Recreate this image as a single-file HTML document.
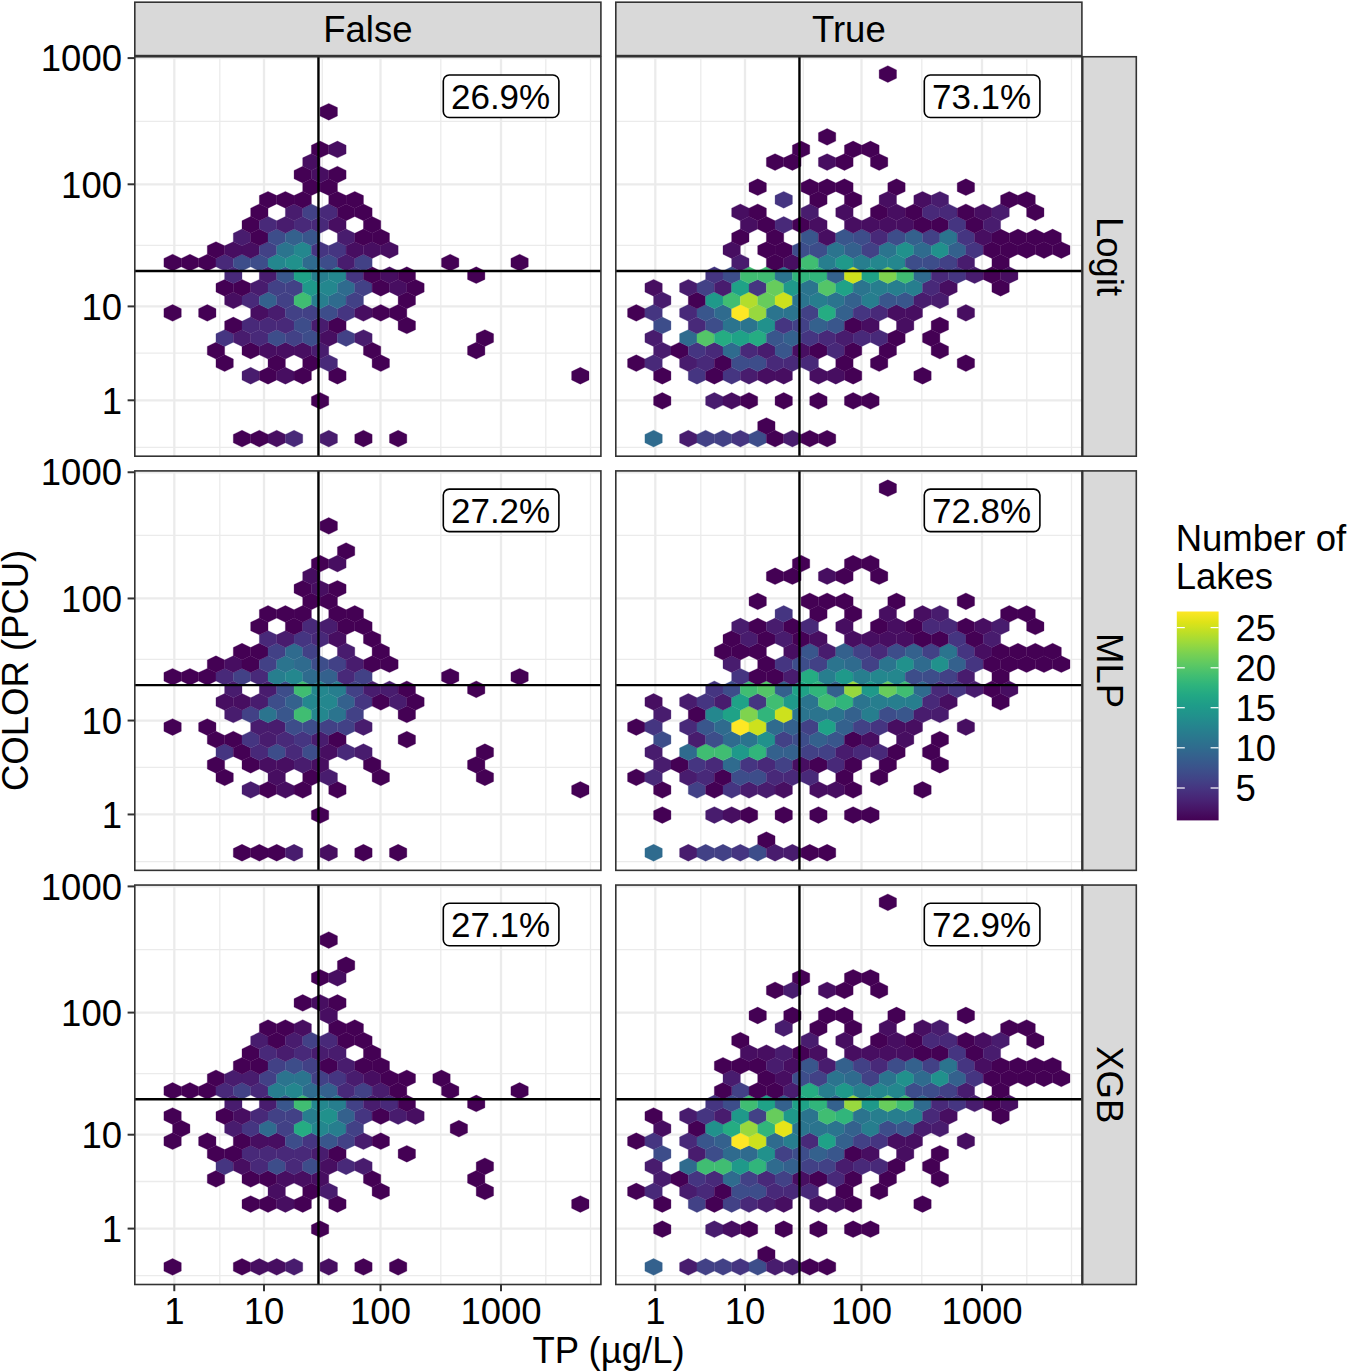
<!DOCTYPE html>
<html><head><meta charset="utf-8"><style>html,body{margin:0;padding:0;background:#fff;overflow:hidden}svg{display:block}</style></head><body>
<svg width="1350" height="1372" viewBox="0 0 1350 1372" font-family='"Liberation Sans", sans-serif'>
<rect x="0" y="0" width="1350" height="1372" fill="#ffffff"/>
<rect x="134.8" y="56.75" width="466.10" height="399.45" fill="#ffffff"/>
<line x1="219.80" y1="56.75" x2="219.80" y2="456.2" stroke="#ebebeb" stroke-width="1.3"/>
<line x1="322.30" y1="56.75" x2="322.30" y2="456.2" stroke="#ebebeb" stroke-width="1.3"/>
<line x1="440.80" y1="56.75" x2="440.80" y2="456.2" stroke="#ebebeb" stroke-width="1.3"/>
<line x1="545.80" y1="56.75" x2="545.80" y2="456.2" stroke="#ebebeb" stroke-width="1.3"/>
<line x1="590.50" y1="56.75" x2="590.50" y2="456.2" stroke="#ebebeb" stroke-width="1.3"/>
<line x1="134.8" y1="121.30" x2="600.9" y2="121.30" stroke="#ebebeb" stroke-width="1.3"/>
<line x1="134.8" y1="245.30" x2="600.9" y2="245.30" stroke="#ebebeb" stroke-width="1.3"/>
<line x1="134.8" y1="353.20" x2="600.9" y2="353.20" stroke="#ebebeb" stroke-width="1.3"/>
<line x1="134.8" y1="447.40" x2="600.9" y2="447.40" stroke="#ebebeb" stroke-width="1.3"/>
<line x1="174.30" y1="56.75" x2="174.30" y2="456.2" stroke="#ebebeb" stroke-width="2.3"/>
<line x1="264.00" y1="56.75" x2="264.00" y2="456.2" stroke="#ebebeb" stroke-width="2.3"/>
<line x1="380.50" y1="56.75" x2="380.50" y2="456.2" stroke="#ebebeb" stroke-width="2.3"/>
<line x1="501.00" y1="56.75" x2="501.00" y2="456.2" stroke="#ebebeb" stroke-width="2.3"/>
<line x1="134.8" y1="58.10" x2="600.9" y2="58.10" stroke="#ebebeb" stroke-width="2.3"/>
<line x1="134.8" y1="184.30" x2="600.9" y2="184.30" stroke="#ebebeb" stroke-width="2.3"/>
<line x1="134.8" y1="306.40" x2="600.9" y2="306.40" stroke="#ebebeb" stroke-width="2.3"/>
<line x1="134.8" y1="400.30" x2="600.9" y2="400.30" stroke="#ebebeb" stroke-width="2.3"/>
<polygon points="242.00,430.22 250.68,434.41 250.68,442.79 242.00,446.98 233.32,442.79 233.32,434.41" fill="#440154" stroke="#440154" stroke-width="0.3"/>
<polygon points="259.35,430.22 268.03,434.41 268.03,442.79 259.35,446.98 250.68,442.79 250.68,434.41" fill="#440154" stroke="#440154" stroke-width="0.3"/>
<polygon points="276.70,430.22 285.38,434.41 285.38,442.79 276.70,446.98 268.02,442.79 268.02,434.41" fill="#470e61" stroke="#470e61" stroke-width="0.3"/>
<polygon points="294.05,430.22 302.73,434.41 302.73,442.79 294.05,446.98 285.38,442.79 285.38,434.41" fill="#482979" stroke="#482979" stroke-width="0.3"/>
<polygon points="328.75,430.22 337.43,434.41 337.43,442.79 328.75,446.98 320.07,442.79 320.07,434.41" fill="#481c6e" stroke="#481c6e" stroke-width="0.3"/>
<polygon points="363.45,430.22 372.13,434.41 372.13,442.79 363.45,446.98 354.78,442.79 354.78,434.41" fill="#440154" stroke="#440154" stroke-width="0.3"/>
<polygon points="398.15,430.22 406.82,434.41 406.82,442.79 398.15,446.98 389.47,442.79 389.47,434.41" fill="#440154" stroke="#440154" stroke-width="0.3"/>
<polygon points="320.07,392.51 328.75,396.70 328.75,405.08 320.07,409.27 311.40,405.08 311.40,396.70" fill="#440154" stroke="#440154" stroke-width="0.3"/>
<polygon points="250.68,367.37 259.35,371.56 259.35,379.94 250.68,384.13 242.00,379.94 242.00,371.56" fill="#481c6e" stroke="#481c6e" stroke-width="0.3"/>
<polygon points="268.03,367.37 276.70,371.56 276.70,379.94 268.03,384.13 259.35,379.94 259.35,371.56" fill="#440154" stroke="#440154" stroke-width="0.3"/>
<polygon points="285.38,367.37 294.05,371.56 294.05,379.94 285.38,384.13 276.70,379.94 276.70,371.56" fill="#470e61" stroke="#470e61" stroke-width="0.3"/>
<polygon points="302.73,367.37 311.40,371.56 311.40,379.94 302.73,384.13 294.05,379.94 294.05,371.56" fill="#440154" stroke="#440154" stroke-width="0.3"/>
<polygon points="337.43,367.37 346.10,371.56 346.10,379.94 337.43,384.13 328.75,379.94 328.75,371.56" fill="#440154" stroke="#440154" stroke-width="0.3"/>
<polygon points="580.32,367.37 589.00,371.56 589.00,379.94 580.32,384.13 571.65,379.94 571.65,371.56" fill="#440154" stroke="#440154" stroke-width="0.3"/>
<polygon points="224.65,354.80 233.33,358.99 233.33,367.37 224.65,371.56 215.97,367.37 215.97,358.99" fill="#440154" stroke="#440154" stroke-width="0.3"/>
<polygon points="276.70,354.80 285.38,358.99 285.38,367.37 276.70,371.56 268.02,367.37 268.02,358.99" fill="#440154" stroke="#440154" stroke-width="0.3"/>
<polygon points="311.40,354.80 320.07,358.99 320.07,367.37 311.40,371.56 302.72,367.37 302.72,358.99" fill="#440154" stroke="#440154" stroke-width="0.3"/>
<polygon points="328.75,354.80 337.43,358.99 337.43,367.37 328.75,371.56 320.07,367.37 320.07,358.99" fill="#482979" stroke="#482979" stroke-width="0.3"/>
<polygon points="380.80,354.80 389.48,358.99 389.48,367.37 380.80,371.56 372.12,367.37 372.12,358.99" fill="#440154" stroke="#440154" stroke-width="0.3"/>
<polygon points="215.98,342.23 224.65,346.42 224.65,354.80 215.98,358.99 207.30,354.80 207.30,346.42" fill="#440154" stroke="#440154" stroke-width="0.3"/>
<polygon points="250.68,342.23 259.35,346.42 259.35,354.80 250.68,358.99 242.00,354.80 242.00,346.42" fill="#440154" stroke="#440154" stroke-width="0.3"/>
<polygon points="268.03,342.23 276.70,346.42 276.70,354.80 268.03,358.99 259.35,354.80 259.35,346.42" fill="#470e61" stroke="#470e61" stroke-width="0.3"/>
<polygon points="285.38,342.23 294.05,346.42 294.05,354.80 285.38,358.99 276.70,354.80 276.70,346.42" fill="#470e61" stroke="#470e61" stroke-width="0.3"/>
<polygon points="302.73,342.23 311.40,346.42 311.40,354.80 302.73,358.99 294.05,354.80 294.05,346.42" fill="#470e61" stroke="#470e61" stroke-width="0.3"/>
<polygon points="320.07,342.23 328.75,346.42 328.75,354.80 320.07,358.99 311.40,354.80 311.40,346.42" fill="#481c6e" stroke="#481c6e" stroke-width="0.3"/>
<polygon points="372.13,342.23 380.80,346.42 380.80,354.80 372.13,358.99 363.45,354.80 363.45,346.42" fill="#440154" stroke="#440154" stroke-width="0.3"/>
<polygon points="476.23,342.23 484.90,346.42 484.90,354.80 476.23,358.99 467.55,354.80 467.55,346.42" fill="#440154" stroke="#440154" stroke-width="0.3"/>
<polygon points="224.65,329.66 233.33,333.85 233.33,342.23 224.65,346.42 215.97,342.23 215.97,333.85" fill="#453581" stroke="#453581" stroke-width="0.3"/>
<polygon points="242.00,329.66 250.68,333.85 250.68,342.23 242.00,346.42 233.32,342.23 233.32,333.85" fill="#481c6e" stroke="#481c6e" stroke-width="0.3"/>
<polygon points="259.35,329.66 268.03,333.85 268.03,342.23 259.35,346.42 250.68,342.23 250.68,333.85" fill="#482979" stroke="#482979" stroke-width="0.3"/>
<polygon points="276.70,329.66 285.38,333.85 285.38,342.23 276.70,346.42 268.02,342.23 268.02,333.85" fill="#3d4d8a" stroke="#3d4d8a" stroke-width="0.3"/>
<polygon points="294.05,329.66 302.73,333.85 302.73,342.23 294.05,346.42 285.38,342.23 285.38,333.85" fill="#424186" stroke="#424186" stroke-width="0.3"/>
<polygon points="311.40,329.66 320.07,333.85 320.07,342.23 311.40,346.42 302.72,342.23 302.72,333.85" fill="#3d4d8a" stroke="#3d4d8a" stroke-width="0.3"/>
<polygon points="328.75,329.66 337.43,333.85 337.43,342.23 328.75,346.42 320.07,342.23 320.07,333.85" fill="#470e61" stroke="#470e61" stroke-width="0.3"/>
<polygon points="346.10,329.66 354.78,333.85 354.78,342.23 346.10,346.42 337.43,342.23 337.43,333.85" fill="#424186" stroke="#424186" stroke-width="0.3"/>
<polygon points="363.45,329.66 372.13,333.85 372.13,342.23 363.45,346.42 354.78,342.23 354.78,333.85" fill="#481c6e" stroke="#481c6e" stroke-width="0.3"/>
<polygon points="484.90,329.66 493.57,333.85 493.57,342.23 484.90,346.42 476.22,342.23 476.22,333.85" fill="#440154" stroke="#440154" stroke-width="0.3"/>
<polygon points="233.33,317.09 242.00,321.28 242.00,329.66 233.33,333.85 224.65,329.66 224.65,321.28" fill="#440154" stroke="#440154" stroke-width="0.3"/>
<polygon points="250.68,317.09 259.35,321.28 259.35,329.66 250.68,333.85 242.00,329.66 242.00,321.28" fill="#482979" stroke="#482979" stroke-width="0.3"/>
<polygon points="268.03,317.09 276.70,321.28 276.70,329.66 268.03,333.85 259.35,329.66 259.35,321.28" fill="#482979" stroke="#482979" stroke-width="0.3"/>
<polygon points="285.38,317.09 294.05,321.28 294.05,329.66 285.38,333.85 276.70,329.66 276.70,321.28" fill="#482979" stroke="#482979" stroke-width="0.3"/>
<polygon points="302.73,317.09 311.40,321.28 311.40,329.66 302.73,333.85 294.05,329.66 294.05,321.28" fill="#3d4d8a" stroke="#3d4d8a" stroke-width="0.3"/>
<polygon points="320.07,317.09 328.75,321.28 328.75,329.66 320.07,333.85 311.40,329.66 311.40,321.28" fill="#481c6e" stroke="#481c6e" stroke-width="0.3"/>
<polygon points="337.43,317.09 346.10,321.28 346.10,329.66 337.43,333.85 328.75,329.66 328.75,321.28" fill="#440154" stroke="#440154" stroke-width="0.3"/>
<polygon points="406.82,317.09 415.50,321.28 415.50,329.66 406.82,333.85 398.15,329.66 398.15,321.28" fill="#440154" stroke="#440154" stroke-width="0.3"/>
<polygon points="172.60,304.52 181.28,308.71 181.28,317.09 172.60,321.28 163.92,317.09 163.92,308.71" fill="#440154" stroke="#440154" stroke-width="0.3"/>
<polygon points="207.30,304.52 215.98,308.71 215.98,317.09 207.30,321.28 198.62,317.09 198.62,308.71" fill="#440154" stroke="#440154" stroke-width="0.3"/>
<polygon points="259.35,304.52 268.03,308.71 268.03,317.09 259.35,321.28 250.68,317.09 250.68,308.71" fill="#470e61" stroke="#470e61" stroke-width="0.3"/>
<polygon points="276.70,304.52 285.38,308.71 285.38,317.09 276.70,321.28 268.02,317.09 268.02,308.71" fill="#481c6e" stroke="#481c6e" stroke-width="0.3"/>
<polygon points="294.05,304.52 302.73,308.71 302.73,317.09 294.05,321.28 285.38,317.09 285.38,308.71" fill="#424186" stroke="#424186" stroke-width="0.3"/>
<polygon points="311.40,304.52 320.07,308.71 320.07,317.09 311.40,321.28 302.72,317.09 302.72,308.71" fill="#424186" stroke="#424186" stroke-width="0.3"/>
<polygon points="328.75,304.52 337.43,308.71 337.43,317.09 328.75,321.28 320.07,317.09 320.07,308.71" fill="#3d4d8a" stroke="#3d4d8a" stroke-width="0.3"/>
<polygon points="346.10,304.52 354.78,308.71 354.78,317.09 346.10,321.28 337.43,317.09 337.43,308.71" fill="#453581" stroke="#453581" stroke-width="0.3"/>
<polygon points="363.45,304.52 372.13,308.71 372.13,317.09 363.45,321.28 354.78,317.09 354.78,308.71" fill="#470e61" stroke="#470e61" stroke-width="0.3"/>
<polygon points="380.80,304.52 389.48,308.71 389.48,317.09 380.80,321.28 372.12,317.09 372.12,308.71" fill="#440154" stroke="#440154" stroke-width="0.3"/>
<polygon points="398.15,304.52 406.82,308.71 406.82,317.09 398.15,321.28 389.47,317.09 389.47,308.71" fill="#440154" stroke="#440154" stroke-width="0.3"/>
<polygon points="233.33,291.95 242.00,296.14 242.00,304.52 233.33,308.71 224.65,304.52 224.65,296.14" fill="#470e61" stroke="#470e61" stroke-width="0.3"/>
<polygon points="250.68,291.95 259.35,296.14 259.35,304.52 250.68,308.71 242.00,304.52 242.00,296.14" fill="#482979" stroke="#482979" stroke-width="0.3"/>
<polygon points="268.03,291.95 276.70,296.14 276.70,304.52 268.03,308.71 259.35,304.52 259.35,296.14" fill="#34618d" stroke="#34618d" stroke-width="0.3"/>
<polygon points="285.38,291.95 294.05,296.14 294.05,304.52 285.38,308.71 276.70,304.52 276.70,296.14" fill="#424186" stroke="#424186" stroke-width="0.3"/>
<polygon points="302.73,291.95 311.40,296.14 311.40,304.52 302.73,308.71 294.05,304.52 294.05,296.14" fill="#40bd72" stroke="#40bd72" stroke-width="0.3"/>
<polygon points="320.07,291.95 328.75,296.14 328.75,304.52 320.07,308.71 311.40,304.52 311.40,296.14" fill="#277e8e" stroke="#277e8e" stroke-width="0.3"/>
<polygon points="337.43,291.95 346.10,296.14 346.10,304.52 337.43,308.71 328.75,304.52 328.75,296.14" fill="#2f6b8e" stroke="#2f6b8e" stroke-width="0.3"/>
<polygon points="354.78,291.95 363.45,296.14 363.45,304.52 354.78,308.71 346.10,304.52 346.10,296.14" fill="#424186" stroke="#424186" stroke-width="0.3"/>
<polygon points="406.82,291.95 415.50,296.14 415.50,304.52 406.82,308.71 398.15,304.52 398.15,296.14" fill="#440154" stroke="#440154" stroke-width="0.3"/>
<polygon points="224.65,279.38 233.33,283.57 233.33,291.95 224.65,296.14 215.97,291.95 215.97,283.57" fill="#440154" stroke="#440154" stroke-width="0.3"/>
<polygon points="242.00,279.38 250.68,283.57 250.68,291.95 242.00,296.14 233.32,291.95 233.32,283.57" fill="#440154" stroke="#440154" stroke-width="0.3"/>
<polygon points="259.35,279.38 268.03,283.57 268.03,291.95 259.35,296.14 250.68,291.95 250.68,283.57" fill="#481c6e" stroke="#481c6e" stroke-width="0.3"/>
<polygon points="276.70,279.38 285.38,283.57 285.38,291.95 276.70,296.14 268.02,291.95 268.02,283.57" fill="#424186" stroke="#424186" stroke-width="0.3"/>
<polygon points="294.05,279.38 302.73,283.57 302.73,291.95 294.05,296.14 285.38,291.95 285.38,283.57" fill="#424186" stroke="#424186" stroke-width="0.3"/>
<polygon points="311.40,279.38 320.07,283.57 320.07,291.95 311.40,296.14 302.72,291.95 302.72,283.57" fill="#1f998a" stroke="#1f998a" stroke-width="0.3"/>
<polygon points="328.75,279.38 337.43,283.57 337.43,291.95 328.75,296.14 320.07,291.95 320.07,283.57" fill="#24878e" stroke="#24878e" stroke-width="0.3"/>
<polygon points="346.10,279.38 354.78,283.57 354.78,291.95 346.10,296.14 337.43,291.95 337.43,283.57" fill="#2f6b8e" stroke="#2f6b8e" stroke-width="0.3"/>
<polygon points="363.45,279.38 372.13,283.57 372.13,291.95 363.45,296.14 354.78,291.95 354.78,283.57" fill="#424186" stroke="#424186" stroke-width="0.3"/>
<polygon points="380.80,279.38 389.48,283.57 389.48,291.95 380.80,296.14 372.12,291.95 372.12,283.57" fill="#440154" stroke="#440154" stroke-width="0.3"/>
<polygon points="398.15,279.38 406.82,283.57 406.82,291.95 398.15,296.14 389.47,291.95 389.47,283.57" fill="#470e61" stroke="#470e61" stroke-width="0.3"/>
<polygon points="415.50,279.38 424.18,283.57 424.18,291.95 415.50,296.14 406.82,291.95 406.82,283.57" fill="#440154" stroke="#440154" stroke-width="0.3"/>
<polygon points="233.33,266.81 242.00,271.00 242.00,279.38 233.33,283.57 224.65,279.38 224.65,271.00" fill="#482979" stroke="#482979" stroke-width="0.3"/>
<polygon points="268.03,266.81 276.70,271.00 276.70,279.38 268.03,283.57 259.35,279.38 259.35,271.00" fill="#481c6e" stroke="#481c6e" stroke-width="0.3"/>
<polygon points="285.38,266.81 294.05,271.00 294.05,279.38 285.38,283.57 276.70,279.38 276.70,271.00" fill="#39568c" stroke="#39568c" stroke-width="0.3"/>
<polygon points="302.73,266.81 311.40,271.00 311.40,279.38 302.73,283.57 294.05,279.38 294.05,271.00" fill="#1fa287" stroke="#1fa287" stroke-width="0.3"/>
<polygon points="320.07,266.81 328.75,271.00 328.75,279.38 320.07,283.57 311.40,279.38 311.40,271.00" fill="#277e8e" stroke="#277e8e" stroke-width="0.3"/>
<polygon points="337.43,266.81 346.10,271.00 346.10,279.38 337.43,283.57 328.75,279.38 328.75,271.00" fill="#24878e" stroke="#24878e" stroke-width="0.3"/>
<polygon points="354.78,266.81 363.45,271.00 363.45,279.38 354.78,283.57 346.10,279.38 346.10,271.00" fill="#453581" stroke="#453581" stroke-width="0.3"/>
<polygon points="372.13,266.81 380.80,271.00 380.80,279.38 372.13,283.57 363.45,279.38 363.45,271.00" fill="#440154" stroke="#440154" stroke-width="0.3"/>
<polygon points="389.48,266.81 398.15,271.00 398.15,279.38 389.48,283.57 380.80,279.38 380.80,271.00" fill="#470e61" stroke="#470e61" stroke-width="0.3"/>
<polygon points="406.82,266.81 415.50,271.00 415.50,279.38 406.82,283.57 398.15,279.38 398.15,271.00" fill="#440154" stroke="#440154" stroke-width="0.3"/>
<polygon points="476.23,266.81 484.90,271.00 484.90,279.38 476.23,283.57 467.55,279.38 467.55,271.00" fill="#440154" stroke="#440154" stroke-width="0.3"/>
<polygon points="172.60,254.24 181.28,258.43 181.28,266.81 172.60,271.00 163.92,266.81 163.92,258.43" fill="#440154" stroke="#440154" stroke-width="0.3"/>
<polygon points="189.95,254.24 198.62,258.43 198.62,266.81 189.95,271.00 181.27,266.81 181.27,258.43" fill="#440154" stroke="#440154" stroke-width="0.3"/>
<polygon points="207.30,254.24 215.98,258.43 215.98,266.81 207.30,271.00 198.62,266.81 198.62,258.43" fill="#440154" stroke="#440154" stroke-width="0.3"/>
<polygon points="224.65,254.24 233.33,258.43 233.33,266.81 224.65,271.00 215.97,266.81 215.97,258.43" fill="#482979" stroke="#482979" stroke-width="0.3"/>
<polygon points="242.00,254.24 250.68,258.43 250.68,266.81 242.00,271.00 233.32,266.81 233.32,258.43" fill="#3d4d8a" stroke="#3d4d8a" stroke-width="0.3"/>
<polygon points="259.35,254.24 268.03,258.43 268.03,266.81 259.35,271.00 250.68,266.81 250.68,258.43" fill="#3d4d8a" stroke="#3d4d8a" stroke-width="0.3"/>
<polygon points="276.70,254.24 285.38,258.43 285.38,266.81 276.70,271.00 268.02,266.81 268.02,258.43" fill="#24878e" stroke="#24878e" stroke-width="0.3"/>
<polygon points="294.05,254.24 302.73,258.43 302.73,266.81 294.05,271.00 285.38,266.81 285.38,258.43" fill="#21918c" stroke="#21918c" stroke-width="0.3"/>
<polygon points="311.40,254.24 320.07,258.43 320.07,266.81 311.40,271.00 302.72,266.81 302.72,258.43" fill="#2f6b8e" stroke="#2f6b8e" stroke-width="0.3"/>
<polygon points="328.75,254.24 337.43,258.43 337.43,266.81 328.75,271.00 320.07,266.81 320.07,258.43" fill="#3d4d8a" stroke="#3d4d8a" stroke-width="0.3"/>
<polygon points="346.10,254.24 354.78,258.43 354.78,266.81 346.10,271.00 337.43,266.81 337.43,258.43" fill="#481c6e" stroke="#481c6e" stroke-width="0.3"/>
<polygon points="363.45,254.24 372.13,258.43 372.13,266.81 363.45,271.00 354.78,266.81 354.78,258.43" fill="#424186" stroke="#424186" stroke-width="0.3"/>
<polygon points="450.20,254.24 458.88,258.43 458.88,266.81 450.20,271.00 441.53,266.81 441.53,258.43" fill="#440154" stroke="#440154" stroke-width="0.3"/>
<polygon points="519.60,254.24 528.27,258.43 528.27,266.81 519.60,271.00 510.93,266.81 510.93,258.43" fill="#440154" stroke="#440154" stroke-width="0.3"/>
<polygon points="215.98,241.67 224.65,245.86 224.65,254.24 215.98,258.43 207.30,254.24 207.30,245.86" fill="#440154" stroke="#440154" stroke-width="0.3"/>
<polygon points="233.33,241.67 242.00,245.86 242.00,254.24 233.33,258.43 224.65,254.24 224.65,245.86" fill="#470e61" stroke="#470e61" stroke-width="0.3"/>
<polygon points="250.68,241.67 259.35,245.86 259.35,254.24 250.68,258.43 242.00,254.24 242.00,245.86" fill="#470e61" stroke="#470e61" stroke-width="0.3"/>
<polygon points="268.03,241.67 276.70,245.86 276.70,254.24 268.03,258.43 259.35,254.24 259.35,245.86" fill="#424186" stroke="#424186" stroke-width="0.3"/>
<polygon points="285.38,241.67 294.05,245.86 294.05,254.24 285.38,258.43 276.70,254.24 276.70,245.86" fill="#2b748e" stroke="#2b748e" stroke-width="0.3"/>
<polygon points="302.73,241.67 311.40,245.86 311.40,254.24 302.73,258.43 294.05,254.24 294.05,245.86" fill="#24878e" stroke="#24878e" stroke-width="0.3"/>
<polygon points="320.07,241.67 328.75,245.86 328.75,254.24 320.07,258.43 311.40,254.24 311.40,245.86" fill="#453581" stroke="#453581" stroke-width="0.3"/>
<polygon points="337.43,241.67 346.10,245.86 346.10,254.24 337.43,258.43 328.75,254.24 328.75,245.86" fill="#453581" stroke="#453581" stroke-width="0.3"/>
<polygon points="354.78,241.67 363.45,245.86 363.45,254.24 354.78,258.43 346.10,254.24 346.10,245.86" fill="#470e61" stroke="#470e61" stroke-width="0.3"/>
<polygon points="372.13,241.67 380.80,245.86 380.80,254.24 372.13,258.43 363.45,254.24 363.45,245.86" fill="#470e61" stroke="#470e61" stroke-width="0.3"/>
<polygon points="389.48,241.67 398.15,245.86 398.15,254.24 389.48,258.43 380.80,254.24 380.80,245.86" fill="#470e61" stroke="#470e61" stroke-width="0.3"/>
<polygon points="242.00,229.10 250.68,233.29 250.68,241.67 242.00,245.86 233.32,241.67 233.32,233.29" fill="#481c6e" stroke="#481c6e" stroke-width="0.3"/>
<polygon points="259.35,229.10 268.03,233.29 268.03,241.67 259.35,245.86 250.68,241.67 250.68,233.29" fill="#440154" stroke="#440154" stroke-width="0.3"/>
<polygon points="276.70,229.10 285.38,233.29 285.38,241.67 276.70,245.86 268.02,241.67 268.02,233.29" fill="#3d4d8a" stroke="#3d4d8a" stroke-width="0.3"/>
<polygon points="294.05,229.10 302.73,233.29 302.73,241.67 294.05,245.86 285.38,241.67 285.38,233.29" fill="#34618d" stroke="#34618d" stroke-width="0.3"/>
<polygon points="311.40,229.10 320.07,233.29 320.07,241.67 311.40,245.86 302.72,241.67 302.72,233.29" fill="#39568c" stroke="#39568c" stroke-width="0.3"/>
<polygon points="346.10,229.10 354.78,233.29 354.78,241.67 346.10,245.86 337.43,241.67 337.43,233.29" fill="#481c6e" stroke="#481c6e" stroke-width="0.3"/>
<polygon points="363.45,229.10 372.13,233.29 372.13,241.67 363.45,245.86 354.78,241.67 354.78,233.29" fill="#440154" stroke="#440154" stroke-width="0.3"/>
<polygon points="380.80,229.10 389.48,233.29 389.48,241.67 380.80,245.86 372.12,241.67 372.12,233.29" fill="#440154" stroke="#440154" stroke-width="0.3"/>
<polygon points="250.68,216.53 259.35,220.72 259.35,229.10 250.68,233.29 242.00,229.10 242.00,220.72" fill="#440154" stroke="#440154" stroke-width="0.3"/>
<polygon points="268.03,216.53 276.70,220.72 276.70,229.10 268.03,233.29 259.35,229.10 259.35,220.72" fill="#482979" stroke="#482979" stroke-width="0.3"/>
<polygon points="285.38,216.53 294.05,220.72 294.05,229.10 285.38,233.29 276.70,229.10 276.70,220.72" fill="#481c6e" stroke="#481c6e" stroke-width="0.3"/>
<polygon points="302.73,216.53 311.40,220.72 311.40,229.10 302.73,233.29 294.05,229.10 294.05,220.72" fill="#482979" stroke="#482979" stroke-width="0.3"/>
<polygon points="320.07,216.53 328.75,220.72 328.75,229.10 320.07,233.29 311.40,229.10 311.40,220.72" fill="#482979" stroke="#482979" stroke-width="0.3"/>
<polygon points="337.43,216.53 346.10,220.72 346.10,229.10 337.43,233.29 328.75,229.10 328.75,220.72" fill="#470e61" stroke="#470e61" stroke-width="0.3"/>
<polygon points="372.13,216.53 380.80,220.72 380.80,229.10 372.13,233.29 363.45,229.10 363.45,220.72" fill="#440154" stroke="#440154" stroke-width="0.3"/>
<polygon points="259.35,203.96 268.03,208.15 268.03,216.53 259.35,220.72 250.68,216.53 250.68,208.15" fill="#440154" stroke="#440154" stroke-width="0.3"/>
<polygon points="294.05,203.96 302.73,208.15 302.73,216.53 294.05,220.72 285.38,216.53 285.38,208.15" fill="#481c6e" stroke="#481c6e" stroke-width="0.3"/>
<polygon points="311.40,203.96 320.07,208.15 320.07,216.53 311.40,220.72 302.72,216.53 302.72,208.15" fill="#424186" stroke="#424186" stroke-width="0.3"/>
<polygon points="328.75,203.96 337.43,208.15 337.43,216.53 328.75,220.72 320.07,216.53 320.07,208.15" fill="#482979" stroke="#482979" stroke-width="0.3"/>
<polygon points="346.10,203.96 354.78,208.15 354.78,216.53 346.10,220.72 337.43,216.53 337.43,208.15" fill="#440154" stroke="#440154" stroke-width="0.3"/>
<polygon points="363.45,203.96 372.13,208.15 372.13,216.53 363.45,220.72 354.78,216.53 354.78,208.15" fill="#440154" stroke="#440154" stroke-width="0.3"/>
<polygon points="268.03,191.39 276.70,195.58 276.70,203.96 268.03,208.15 259.35,203.96 259.35,195.58" fill="#440154" stroke="#440154" stroke-width="0.3"/>
<polygon points="285.38,191.39 294.05,195.58 294.05,203.96 285.38,208.15 276.70,203.96 276.70,195.58" fill="#440154" stroke="#440154" stroke-width="0.3"/>
<polygon points="302.73,191.39 311.40,195.58 311.40,203.96 302.73,208.15 294.05,203.96 294.05,195.58" fill="#440154" stroke="#440154" stroke-width="0.3"/>
<polygon points="337.43,191.39 346.10,195.58 346.10,203.96 337.43,208.15 328.75,203.96 328.75,195.58" fill="#440154" stroke="#440154" stroke-width="0.3"/>
<polygon points="354.78,191.39 363.45,195.58 363.45,203.96 354.78,208.15 346.10,203.96 346.10,195.58" fill="#440154" stroke="#440154" stroke-width="0.3"/>
<polygon points="311.40,178.82 320.07,183.01 320.07,191.39 311.40,195.58 302.72,191.39 302.72,183.01" fill="#440154" stroke="#440154" stroke-width="0.3"/>
<polygon points="328.75,178.82 337.43,183.01 337.43,191.39 328.75,195.58 320.07,191.39 320.07,183.01" fill="#440154" stroke="#440154" stroke-width="0.3"/>
<polygon points="302.73,166.25 311.40,170.44 311.40,178.82 302.73,183.01 294.05,178.82 294.05,170.44" fill="#440154" stroke="#440154" stroke-width="0.3"/>
<polygon points="320.07,166.25 328.75,170.44 328.75,178.82 320.07,183.01 311.40,178.82 311.40,170.44" fill="#470e61" stroke="#470e61" stroke-width="0.3"/>
<polygon points="337.43,166.25 346.10,170.44 346.10,178.82 337.43,183.01 328.75,178.82 328.75,170.44" fill="#440154" stroke="#440154" stroke-width="0.3"/>
<polygon points="311.40,153.68 320.07,157.87 320.07,166.25 311.40,170.44 302.72,166.25 302.72,157.87" fill="#470e61" stroke="#470e61" stroke-width="0.3"/>
<polygon points="320.07,141.11 328.75,145.30 328.75,153.68 320.07,157.87 311.40,153.68 311.40,145.30" fill="#440154" stroke="#440154" stroke-width="0.3"/>
<polygon points="337.43,141.11 346.10,145.30 346.10,153.68 337.43,157.87 328.75,153.68 328.75,145.30" fill="#470e61" stroke="#470e61" stroke-width="0.3"/>
<polygon points="328.75,103.40 337.43,107.59 337.43,115.97 328.75,120.16 320.07,115.97 320.07,107.59" fill="#440154" stroke="#440154" stroke-width="0.3"/>
<line x1="318.45" y1="56.75" x2="318.45" y2="456.2" stroke="#000" stroke-width="2.4"/>
<line x1="134.8" y1="271.00" x2="600.9" y2="271.00" stroke="#000" stroke-width="2.4"/>
<rect x="443.30" y="74.95" width="115.6" height="42.5" rx="6" ry="6" fill="#fff" stroke="#000" stroke-width="1.6"/>
<text x="500.60" y="108.80" font-size="35" text-anchor="middle" fill="#000">26.9%</text>
<rect x="134.8" y="56.75" width="466.10" height="399.45" fill="none" stroke="#333333" stroke-width="1.6"/>
<rect x="615.8" y="56.75" width="466.10" height="399.45" fill="#ffffff"/>
<line x1="700.80" y1="56.75" x2="700.80" y2="456.2" stroke="#ebebeb" stroke-width="1.3"/>
<line x1="803.30" y1="56.75" x2="803.30" y2="456.2" stroke="#ebebeb" stroke-width="1.3"/>
<line x1="921.80" y1="56.75" x2="921.80" y2="456.2" stroke="#ebebeb" stroke-width="1.3"/>
<line x1="1026.80" y1="56.75" x2="1026.80" y2="456.2" stroke="#ebebeb" stroke-width="1.3"/>
<line x1="1071.50" y1="56.75" x2="1071.50" y2="456.2" stroke="#ebebeb" stroke-width="1.3"/>
<line x1="615.8" y1="121.30" x2="1081.9" y2="121.30" stroke="#ebebeb" stroke-width="1.3"/>
<line x1="615.8" y1="245.30" x2="1081.9" y2="245.30" stroke="#ebebeb" stroke-width="1.3"/>
<line x1="615.8" y1="353.20" x2="1081.9" y2="353.20" stroke="#ebebeb" stroke-width="1.3"/>
<line x1="615.8" y1="447.40" x2="1081.9" y2="447.40" stroke="#ebebeb" stroke-width="1.3"/>
<line x1="655.30" y1="56.75" x2="655.30" y2="456.2" stroke="#ebebeb" stroke-width="2.3"/>
<line x1="745.00" y1="56.75" x2="745.00" y2="456.2" stroke="#ebebeb" stroke-width="2.3"/>
<line x1="861.50" y1="56.75" x2="861.50" y2="456.2" stroke="#ebebeb" stroke-width="2.3"/>
<line x1="982.00" y1="56.75" x2="982.00" y2="456.2" stroke="#ebebeb" stroke-width="2.3"/>
<line x1="615.8" y1="58.10" x2="1081.9" y2="58.10" stroke="#ebebeb" stroke-width="2.3"/>
<line x1="615.8" y1="184.30" x2="1081.9" y2="184.30" stroke="#ebebeb" stroke-width="2.3"/>
<line x1="615.8" y1="306.40" x2="1081.9" y2="306.40" stroke="#ebebeb" stroke-width="2.3"/>
<line x1="615.8" y1="400.30" x2="1081.9" y2="400.30" stroke="#ebebeb" stroke-width="2.3"/>
<polygon points="653.60,430.22 662.27,434.41 662.27,442.79 653.60,446.98 644.93,442.79 644.93,434.41" fill="#2f6b8e" stroke="#2f6b8e" stroke-width="0.3"/>
<polygon points="688.30,430.22 696.97,434.41 696.97,442.79 688.30,446.98 679.62,442.79 679.62,434.41" fill="#481c6e" stroke="#481c6e" stroke-width="0.3"/>
<polygon points="705.65,430.22 714.32,434.41 714.32,442.79 705.65,446.98 696.98,442.79 696.98,434.41" fill="#424186" stroke="#424186" stroke-width="0.3"/>
<polygon points="723.00,430.22 731.67,434.41 731.67,442.79 723.00,446.98 714.33,442.79 714.33,434.41" fill="#424186" stroke="#424186" stroke-width="0.3"/>
<polygon points="740.35,430.22 749.02,434.41 749.02,442.79 740.35,446.98 731.68,442.79 731.68,434.41" fill="#453581" stroke="#453581" stroke-width="0.3"/>
<polygon points="757.70,430.22 766.38,434.41 766.38,442.79 757.70,446.98 749.03,442.79 749.03,434.41" fill="#3d4d8a" stroke="#3d4d8a" stroke-width="0.3"/>
<polygon points="775.05,430.22 783.72,434.41 783.72,442.79 775.05,446.98 766.38,442.79 766.38,434.41" fill="#440154" stroke="#440154" stroke-width="0.3"/>
<polygon points="792.40,430.22 801.07,434.41 801.07,442.79 792.40,446.98 783.73,442.79 783.73,434.41" fill="#481c6e" stroke="#481c6e" stroke-width="0.3"/>
<polygon points="809.75,430.22 818.42,434.41 818.42,442.79 809.75,446.98 801.08,442.79 801.08,434.41" fill="#440154" stroke="#440154" stroke-width="0.3"/>
<polygon points="827.10,430.22 835.77,434.41 835.77,442.79 827.10,446.98 818.43,442.79 818.43,434.41" fill="#440154" stroke="#440154" stroke-width="0.3"/>
<polygon points="766.38,417.65 775.05,421.84 775.05,430.22 766.38,434.41 757.70,430.22 757.70,421.84" fill="#440154" stroke="#440154" stroke-width="0.3"/>
<polygon points="662.27,392.51 670.95,396.70 670.95,405.08 662.27,409.27 653.60,405.08 653.60,396.70" fill="#440154" stroke="#440154" stroke-width="0.3"/>
<polygon points="714.33,392.51 723.00,396.70 723.00,405.08 714.33,409.27 705.65,405.08 705.65,396.70" fill="#481c6e" stroke="#481c6e" stroke-width="0.3"/>
<polygon points="731.67,392.51 740.35,396.70 740.35,405.08 731.67,409.27 723.00,405.08 723.00,396.70" fill="#470e61" stroke="#470e61" stroke-width="0.3"/>
<polygon points="749.03,392.51 757.70,396.70 757.70,405.08 749.03,409.27 740.35,405.08 740.35,396.70" fill="#440154" stroke="#440154" stroke-width="0.3"/>
<polygon points="783.73,392.51 792.40,396.70 792.40,405.08 783.73,409.27 775.05,405.08 775.05,396.70" fill="#440154" stroke="#440154" stroke-width="0.3"/>
<polygon points="818.42,392.51 827.10,396.70 827.10,405.08 818.42,409.27 809.75,405.08 809.75,396.70" fill="#440154" stroke="#440154" stroke-width="0.3"/>
<polygon points="853.12,392.51 861.80,396.70 861.80,405.08 853.12,409.27 844.45,405.08 844.45,396.70" fill="#440154" stroke="#440154" stroke-width="0.3"/>
<polygon points="870.48,392.51 879.15,396.70 879.15,405.08 870.48,409.27 861.80,405.08 861.80,396.70" fill="#440154" stroke="#440154" stroke-width="0.3"/>
<polygon points="662.27,367.37 670.95,371.56 670.95,379.94 662.27,384.13 653.60,379.94 653.60,371.56" fill="#440154" stroke="#440154" stroke-width="0.3"/>
<polygon points="696.98,367.37 705.65,371.56 705.65,379.94 696.98,384.13 688.30,379.94 688.30,371.56" fill="#453581" stroke="#453581" stroke-width="0.3"/>
<polygon points="714.33,367.37 723.00,371.56 723.00,379.94 714.33,384.13 705.65,379.94 705.65,371.56" fill="#440154" stroke="#440154" stroke-width="0.3"/>
<polygon points="731.67,367.37 740.35,371.56 740.35,379.94 731.67,384.13 723.00,379.94 723.00,371.56" fill="#453581" stroke="#453581" stroke-width="0.3"/>
<polygon points="749.03,367.37 757.70,371.56 757.70,379.94 749.03,384.13 740.35,379.94 740.35,371.56" fill="#481c6e" stroke="#481c6e" stroke-width="0.3"/>
<polygon points="766.38,367.37 775.05,371.56 775.05,379.94 766.38,384.13 757.70,379.94 757.70,371.56" fill="#470e61" stroke="#470e61" stroke-width="0.3"/>
<polygon points="783.73,367.37 792.40,371.56 792.40,379.94 783.73,384.13 775.05,379.94 775.05,371.56" fill="#470e61" stroke="#470e61" stroke-width="0.3"/>
<polygon points="818.42,367.37 827.10,371.56 827.10,379.94 818.42,384.13 809.75,379.94 809.75,371.56" fill="#470e61" stroke="#470e61" stroke-width="0.3"/>
<polygon points="835.78,367.37 844.45,371.56 844.45,379.94 835.78,384.13 827.10,379.94 827.10,371.56" fill="#470e61" stroke="#470e61" stroke-width="0.3"/>
<polygon points="853.12,367.37 861.80,371.56 861.80,379.94 853.12,384.13 844.45,379.94 844.45,371.56" fill="#440154" stroke="#440154" stroke-width="0.3"/>
<polygon points="922.53,367.37 931.20,371.56 931.20,379.94 922.53,384.13 913.85,379.94 913.85,371.56" fill="#440154" stroke="#440154" stroke-width="0.3"/>
<polygon points="636.25,354.80 644.92,358.99 644.92,367.37 636.25,371.56 627.58,367.37 627.58,358.99" fill="#440154" stroke="#440154" stroke-width="0.3"/>
<polygon points="653.60,354.80 662.27,358.99 662.27,367.37 653.60,371.56 644.93,367.37 644.93,358.99" fill="#482979" stroke="#482979" stroke-width="0.3"/>
<polygon points="688.30,354.80 696.97,358.99 696.97,367.37 688.30,371.56 679.62,367.37 679.62,358.99" fill="#481c6e" stroke="#481c6e" stroke-width="0.3"/>
<polygon points="705.65,354.80 714.32,358.99 714.32,367.37 705.65,371.56 696.98,367.37 696.98,358.99" fill="#482979" stroke="#482979" stroke-width="0.3"/>
<polygon points="723.00,354.80 731.67,358.99 731.67,367.37 723.00,371.56 714.33,367.37 714.33,358.99" fill="#440154" stroke="#440154" stroke-width="0.3"/>
<polygon points="740.35,354.80 749.02,358.99 749.02,367.37 740.35,371.56 731.68,367.37 731.68,358.99" fill="#3d4d8a" stroke="#3d4d8a" stroke-width="0.3"/>
<polygon points="757.70,354.80 766.38,358.99 766.38,367.37 757.70,371.56 749.03,367.37 749.03,358.99" fill="#3d4d8a" stroke="#3d4d8a" stroke-width="0.3"/>
<polygon points="775.05,354.80 783.72,358.99 783.72,367.37 775.05,371.56 766.38,367.37 766.38,358.99" fill="#482979" stroke="#482979" stroke-width="0.3"/>
<polygon points="792.40,354.80 801.07,358.99 801.07,367.37 792.40,371.56 783.73,367.37 783.73,358.99" fill="#482979" stroke="#482979" stroke-width="0.3"/>
<polygon points="809.75,354.80 818.42,358.99 818.42,367.37 809.75,371.56 801.08,367.37 801.08,358.99" fill="#482979" stroke="#482979" stroke-width="0.3"/>
<polygon points="844.45,354.80 853.12,358.99 853.12,367.37 844.45,371.56 835.78,367.37 835.78,358.99" fill="#440154" stroke="#440154" stroke-width="0.3"/>
<polygon points="879.15,354.80 887.82,358.99 887.82,367.37 879.15,371.56 870.48,367.37 870.48,358.99" fill="#440154" stroke="#440154" stroke-width="0.3"/>
<polygon points="965.90,354.80 974.57,358.99 974.57,367.37 965.90,371.56 957.23,367.37 957.23,358.99" fill="#440154" stroke="#440154" stroke-width="0.3"/>
<polygon points="662.27,342.23 670.95,346.42 670.95,354.80 662.27,358.99 653.60,354.80 653.60,346.42" fill="#481c6e" stroke="#481c6e" stroke-width="0.3"/>
<polygon points="679.62,342.23 688.30,346.42 688.30,354.80 679.62,358.99 670.95,354.80 670.95,346.42" fill="#440154" stroke="#440154" stroke-width="0.3"/>
<polygon points="696.98,342.23 705.65,346.42 705.65,354.80 696.98,358.99 688.30,354.80 688.30,346.42" fill="#453581" stroke="#453581" stroke-width="0.3"/>
<polygon points="714.33,342.23 723.00,346.42 723.00,354.80 714.33,358.99 705.65,354.80 705.65,346.42" fill="#482979" stroke="#482979" stroke-width="0.3"/>
<polygon points="731.67,342.23 740.35,346.42 740.35,354.80 731.67,358.99 723.00,354.80 723.00,346.42" fill="#2f6b8e" stroke="#2f6b8e" stroke-width="0.3"/>
<polygon points="749.03,342.23 757.70,346.42 757.70,354.80 749.03,358.99 740.35,354.80 740.35,346.42" fill="#482979" stroke="#482979" stroke-width="0.3"/>
<polygon points="766.38,342.23 775.05,346.42 775.05,354.80 766.38,358.99 757.70,354.80 757.70,346.42" fill="#481c6e" stroke="#481c6e" stroke-width="0.3"/>
<polygon points="783.73,342.23 792.40,346.42 792.40,354.80 783.73,358.99 775.05,354.80 775.05,346.42" fill="#39568c" stroke="#39568c" stroke-width="0.3"/>
<polygon points="801.08,342.23 809.75,346.42 809.75,354.80 801.08,358.99 792.40,354.80 792.40,346.42" fill="#470e61" stroke="#470e61" stroke-width="0.3"/>
<polygon points="818.42,342.23 827.10,346.42 827.10,354.80 818.42,358.99 809.75,354.80 809.75,346.42" fill="#440154" stroke="#440154" stroke-width="0.3"/>
<polygon points="835.78,342.23 844.45,346.42 844.45,354.80 835.78,358.99 827.10,354.80 827.10,346.42" fill="#482979" stroke="#482979" stroke-width="0.3"/>
<polygon points="853.12,342.23 861.80,346.42 861.80,354.80 853.12,358.99 844.45,354.80 844.45,346.42" fill="#440154" stroke="#440154" stroke-width="0.3"/>
<polygon points="887.83,342.23 896.50,346.42 896.50,354.80 887.83,358.99 879.15,354.80 879.15,346.42" fill="#440154" stroke="#440154" stroke-width="0.3"/>
<polygon points="939.88,342.23 948.55,346.42 948.55,354.80 939.88,358.99 931.20,354.80 931.20,346.42" fill="#440154" stroke="#440154" stroke-width="0.3"/>
<polygon points="653.60,329.66 662.27,333.85 662.27,342.23 653.60,346.42 644.93,342.23 644.93,333.85" fill="#481c6e" stroke="#481c6e" stroke-width="0.3"/>
<polygon points="688.30,329.66 696.97,333.85 696.97,342.23 688.30,346.42 679.62,342.23 679.62,333.85" fill="#2f6b8e" stroke="#2f6b8e" stroke-width="0.3"/>
<polygon points="705.65,329.66 714.32,333.85 714.32,342.23 705.65,346.42 696.98,342.23 696.98,333.85" fill="#54c568" stroke="#54c568" stroke-width="0.3"/>
<polygon points="723.00,329.66 731.67,333.85 731.67,342.23 723.00,346.42 714.33,342.23 714.33,333.85" fill="#25ac82" stroke="#25ac82" stroke-width="0.3"/>
<polygon points="740.35,329.66 749.02,333.85 749.02,342.23 740.35,346.42 731.68,342.23 731.68,333.85" fill="#1fa287" stroke="#1fa287" stroke-width="0.3"/>
<polygon points="757.70,329.66 766.38,333.85 766.38,342.23 757.70,346.42 749.03,342.23 749.03,333.85" fill="#25ac82" stroke="#25ac82" stroke-width="0.3"/>
<polygon points="775.05,329.66 783.72,333.85 783.72,342.23 775.05,346.42 766.38,342.23 766.38,333.85" fill="#39568c" stroke="#39568c" stroke-width="0.3"/>
<polygon points="792.40,329.66 801.07,333.85 801.07,342.23 792.40,346.42 783.73,342.23 783.73,333.85" fill="#34618d" stroke="#34618d" stroke-width="0.3"/>
<polygon points="809.75,329.66 818.42,333.85 818.42,342.23 809.75,346.42 801.08,342.23 801.08,333.85" fill="#453581" stroke="#453581" stroke-width="0.3"/>
<polygon points="827.10,329.66 835.77,333.85 835.77,342.23 827.10,346.42 818.43,342.23 818.43,333.85" fill="#482979" stroke="#482979" stroke-width="0.3"/>
<polygon points="844.45,329.66 853.12,333.85 853.12,342.23 844.45,346.42 835.78,342.23 835.78,333.85" fill="#481c6e" stroke="#481c6e" stroke-width="0.3"/>
<polygon points="861.80,329.66 870.47,333.85 870.47,342.23 861.80,346.42 853.12,342.23 853.12,333.85" fill="#482979" stroke="#482979" stroke-width="0.3"/>
<polygon points="879.15,329.66 887.82,333.85 887.82,342.23 879.15,346.42 870.48,342.23 870.48,333.85" fill="#482979" stroke="#482979" stroke-width="0.3"/>
<polygon points="896.50,329.66 905.17,333.85 905.17,342.23 896.50,346.42 887.83,342.23 887.83,333.85" fill="#440154" stroke="#440154" stroke-width="0.3"/>
<polygon points="931.20,329.66 939.88,333.85 939.88,342.23 931.20,346.42 922.53,342.23 922.53,333.85" fill="#440154" stroke="#440154" stroke-width="0.3"/>
<polygon points="662.27,317.09 670.95,321.28 670.95,329.66 662.27,333.85 653.60,329.66 653.60,321.28" fill="#3d4d8a" stroke="#3d4d8a" stroke-width="0.3"/>
<polygon points="696.98,317.09 705.65,321.28 705.65,329.66 696.98,333.85 688.30,329.66 688.30,321.28" fill="#482979" stroke="#482979" stroke-width="0.3"/>
<polygon points="714.33,317.09 723.00,321.28 723.00,329.66 714.33,333.85 705.65,329.66 705.65,321.28" fill="#3d4d8a" stroke="#3d4d8a" stroke-width="0.3"/>
<polygon points="731.67,317.09 740.35,321.28 740.35,329.66 731.67,333.85 723.00,329.66 723.00,321.28" fill="#2b748e" stroke="#2b748e" stroke-width="0.3"/>
<polygon points="749.03,317.09 757.70,321.28 757.70,329.66 749.03,333.85 740.35,329.66 740.35,321.28" fill="#2b748e" stroke="#2b748e" stroke-width="0.3"/>
<polygon points="766.38,317.09 775.05,321.28 775.05,329.66 766.38,333.85 757.70,329.66 757.70,321.28" fill="#21918c" stroke="#21918c" stroke-width="0.3"/>
<polygon points="783.73,317.09 792.40,321.28 792.40,329.66 783.73,333.85 775.05,329.66 775.05,321.28" fill="#453581" stroke="#453581" stroke-width="0.3"/>
<polygon points="801.08,317.09 809.75,321.28 809.75,329.66 801.08,333.85 792.40,329.66 792.40,321.28" fill="#424186" stroke="#424186" stroke-width="0.3"/>
<polygon points="818.42,317.09 827.10,321.28 827.10,329.66 818.42,333.85 809.75,329.66 809.75,321.28" fill="#34618d" stroke="#34618d" stroke-width="0.3"/>
<polygon points="835.78,317.09 844.45,321.28 844.45,329.66 835.78,333.85 827.10,329.66 827.10,321.28" fill="#39568c" stroke="#39568c" stroke-width="0.3"/>
<polygon points="853.12,317.09 861.80,321.28 861.80,329.66 853.12,333.85 844.45,329.66 844.45,321.28" fill="#440154" stroke="#440154" stroke-width="0.3"/>
<polygon points="870.48,317.09 879.15,321.28 879.15,329.66 870.48,333.85 861.80,329.66 861.80,321.28" fill="#470e61" stroke="#470e61" stroke-width="0.3"/>
<polygon points="905.17,317.09 913.85,321.28 913.85,329.66 905.17,333.85 896.50,329.66 896.50,321.28" fill="#470e61" stroke="#470e61" stroke-width="0.3"/>
<polygon points="939.88,317.09 948.55,321.28 948.55,329.66 939.88,333.85 931.20,329.66 931.20,321.28" fill="#440154" stroke="#440154" stroke-width="0.3"/>
<polygon points="636.25,304.52 644.92,308.71 644.92,317.09 636.25,321.28 627.58,317.09 627.58,308.71" fill="#440154" stroke="#440154" stroke-width="0.3"/>
<polygon points="653.60,304.52 662.27,308.71 662.27,317.09 653.60,321.28 644.93,317.09 644.93,308.71" fill="#453581" stroke="#453581" stroke-width="0.3"/>
<polygon points="688.30,304.52 696.97,308.71 696.97,317.09 688.30,321.28 679.62,317.09 679.62,308.71" fill="#482979" stroke="#482979" stroke-width="0.3"/>
<polygon points="705.65,304.52 714.32,308.71 714.32,317.09 705.65,321.28 696.98,317.09 696.98,308.71" fill="#39568c" stroke="#39568c" stroke-width="0.3"/>
<polygon points="723.00,304.52 731.67,308.71 731.67,317.09 723.00,321.28 714.33,317.09 714.33,308.71" fill="#2f6b8e" stroke="#2f6b8e" stroke-width="0.3"/>
<polygon points="740.35,304.52 749.02,308.71 749.02,317.09 740.35,321.28 731.68,317.09 731.68,308.71" fill="#fde725" stroke="#fde725" stroke-width="0.3"/>
<polygon points="757.70,304.52 766.38,308.71 766.38,317.09 757.70,321.28 749.03,317.09 749.03,308.71" fill="#98d83e" stroke="#98d83e" stroke-width="0.3"/>
<polygon points="775.05,304.52 783.72,308.71 783.72,317.09 775.05,321.28 766.38,317.09 766.38,308.71" fill="#2b748e" stroke="#2b748e" stroke-width="0.3"/>
<polygon points="792.40,304.52 801.07,308.71 801.07,317.09 792.40,321.28 783.73,317.09 783.73,308.71" fill="#2b748e" stroke="#2b748e" stroke-width="0.3"/>
<polygon points="809.75,304.52 818.42,308.71 818.42,317.09 809.75,321.28 801.08,317.09 801.08,308.71" fill="#424186" stroke="#424186" stroke-width="0.3"/>
<polygon points="827.10,304.52 835.77,308.71 835.77,317.09 827.10,321.28 818.43,317.09 818.43,308.71" fill="#25ac82" stroke="#25ac82" stroke-width="0.3"/>
<polygon points="844.45,304.52 853.12,308.71 853.12,317.09 844.45,321.28 835.78,317.09 835.78,308.71" fill="#34618d" stroke="#34618d" stroke-width="0.3"/>
<polygon points="861.80,304.52 870.47,308.71 870.47,317.09 861.80,321.28 853.12,317.09 853.12,308.71" fill="#453581" stroke="#453581" stroke-width="0.3"/>
<polygon points="879.15,304.52 887.82,308.71 887.82,317.09 879.15,321.28 870.48,317.09 870.48,308.71" fill="#482979" stroke="#482979" stroke-width="0.3"/>
<polygon points="896.50,304.52 905.17,308.71 905.17,317.09 896.50,321.28 887.83,317.09 887.83,308.71" fill="#470e61" stroke="#470e61" stroke-width="0.3"/>
<polygon points="913.85,304.52 922.52,308.71 922.52,317.09 913.85,321.28 905.18,317.09 905.18,308.71" fill="#470e61" stroke="#470e61" stroke-width="0.3"/>
<polygon points="965.90,304.52 974.57,308.71 974.57,317.09 965.90,321.28 957.23,317.09 957.23,308.71" fill="#470e61" stroke="#470e61" stroke-width="0.3"/>
<polygon points="662.27,291.95 670.95,296.14 670.95,304.52 662.27,308.71 653.60,304.52 653.60,296.14" fill="#481c6e" stroke="#481c6e" stroke-width="0.3"/>
<polygon points="696.98,291.95 705.65,296.14 705.65,304.52 696.98,308.71 688.30,304.52 688.30,296.14" fill="#440154" stroke="#440154" stroke-width="0.3"/>
<polygon points="714.33,291.95 723.00,296.14 723.00,304.52 714.33,308.71 705.65,304.52 705.65,296.14" fill="#1f998a" stroke="#1f998a" stroke-width="0.3"/>
<polygon points="731.67,291.95 740.35,296.14 740.35,304.52 731.67,308.71 723.00,304.52 723.00,296.14" fill="#40bd72" stroke="#40bd72" stroke-width="0.3"/>
<polygon points="749.03,291.95 757.70,296.14 757.70,304.52 749.03,308.71 740.35,304.52 740.35,296.14" fill="#b2dd2d" stroke="#b2dd2d" stroke-width="0.3"/>
<polygon points="766.38,291.95 775.05,296.14 775.05,304.52 766.38,308.71 757.70,304.52 757.70,296.14" fill="#67cc5c" stroke="#67cc5c" stroke-width="0.3"/>
<polygon points="783.73,291.95 792.40,296.14 792.40,304.52 783.73,308.71 775.05,304.52 775.05,296.14" fill="#cde11d" stroke="#cde11d" stroke-width="0.3"/>
<polygon points="801.08,291.95 809.75,296.14 809.75,304.52 801.08,308.71 792.40,304.52 792.40,296.14" fill="#2b748e" stroke="#2b748e" stroke-width="0.3"/>
<polygon points="818.42,291.95 827.10,296.14 827.10,304.52 818.42,308.71 809.75,304.52 809.75,296.14" fill="#277e8e" stroke="#277e8e" stroke-width="0.3"/>
<polygon points="835.78,291.95 844.45,296.14 844.45,304.52 835.78,308.71 827.10,304.52 827.10,296.14" fill="#2b748e" stroke="#2b748e" stroke-width="0.3"/>
<polygon points="853.12,291.95 861.80,296.14 861.80,304.52 853.12,308.71 844.45,304.52 844.45,296.14" fill="#34618d" stroke="#34618d" stroke-width="0.3"/>
<polygon points="870.48,291.95 879.15,296.14 879.15,304.52 870.48,308.71 861.80,304.52 861.80,296.14" fill="#277e8e" stroke="#277e8e" stroke-width="0.3"/>
<polygon points="887.83,291.95 896.50,296.14 896.50,304.52 887.83,308.71 879.15,304.52 879.15,296.14" fill="#39568c" stroke="#39568c" stroke-width="0.3"/>
<polygon points="905.17,291.95 913.85,296.14 913.85,304.52 905.17,308.71 896.50,304.52 896.50,296.14" fill="#39568c" stroke="#39568c" stroke-width="0.3"/>
<polygon points="922.53,291.95 931.20,296.14 931.20,304.52 922.53,308.71 913.85,304.52 913.85,296.14" fill="#481c6e" stroke="#481c6e" stroke-width="0.3"/>
<polygon points="939.88,291.95 948.55,296.14 948.55,304.52 939.88,308.71 931.20,304.52 931.20,296.14" fill="#481c6e" stroke="#481c6e" stroke-width="0.3"/>
<polygon points="653.60,279.38 662.27,283.57 662.27,291.95 653.60,296.14 644.93,291.95 644.93,283.57" fill="#470e61" stroke="#470e61" stroke-width="0.3"/>
<polygon points="688.30,279.38 696.97,283.57 696.97,291.95 688.30,296.14 679.62,291.95 679.62,283.57" fill="#481c6e" stroke="#481c6e" stroke-width="0.3"/>
<polygon points="705.65,279.38 714.32,283.57 714.32,291.95 705.65,296.14 696.98,291.95 696.98,283.57" fill="#424186" stroke="#424186" stroke-width="0.3"/>
<polygon points="723.00,279.38 731.67,283.57 731.67,291.95 723.00,296.14 714.33,291.95 714.33,283.57" fill="#481c6e" stroke="#481c6e" stroke-width="0.3"/>
<polygon points="740.35,279.38 749.02,283.57 749.02,291.95 740.35,296.14 731.68,291.95 731.68,283.57" fill="#1fa287" stroke="#1fa287" stroke-width="0.3"/>
<polygon points="757.70,279.38 766.38,283.57 766.38,291.95 757.70,296.14 749.03,291.95 749.03,283.57" fill="#453581" stroke="#453581" stroke-width="0.3"/>
<polygon points="775.05,279.38 783.72,283.57 783.72,291.95 775.05,296.14 766.38,291.95 766.38,283.57" fill="#67cc5c" stroke="#67cc5c" stroke-width="0.3"/>
<polygon points="792.40,279.38 801.07,283.57 801.07,291.95 792.40,296.14 783.73,291.95 783.73,283.57" fill="#1f998a" stroke="#1f998a" stroke-width="0.3"/>
<polygon points="809.75,279.38 818.42,283.57 818.42,291.95 809.75,296.14 801.08,291.95 801.08,283.57" fill="#2b748e" stroke="#2b748e" stroke-width="0.3"/>
<polygon points="827.10,279.38 835.77,283.57 835.77,291.95 827.10,296.14 818.43,291.95 818.43,283.57" fill="#54c568" stroke="#54c568" stroke-width="0.3"/>
<polygon points="844.45,279.38 853.12,283.57 853.12,291.95 844.45,296.14 835.78,291.95 835.78,283.57" fill="#1fa287" stroke="#1fa287" stroke-width="0.3"/>
<polygon points="861.80,279.38 870.47,283.57 870.47,291.95 861.80,296.14 853.12,291.95 853.12,283.57" fill="#2b748e" stroke="#2b748e" stroke-width="0.3"/>
<polygon points="879.15,279.38 887.82,283.57 887.82,291.95 879.15,296.14 870.48,291.95 870.48,283.57" fill="#277e8e" stroke="#277e8e" stroke-width="0.3"/>
<polygon points="896.50,279.38 905.17,283.57 905.17,291.95 896.50,296.14 887.83,291.95 887.83,283.57" fill="#277e8e" stroke="#277e8e" stroke-width="0.3"/>
<polygon points="913.85,279.38 922.52,283.57 922.52,291.95 913.85,296.14 905.18,291.95 905.18,283.57" fill="#277e8e" stroke="#277e8e" stroke-width="0.3"/>
<polygon points="931.20,279.38 939.88,283.57 939.88,291.95 931.20,296.14 922.53,291.95 922.53,283.57" fill="#482979" stroke="#482979" stroke-width="0.3"/>
<polygon points="948.55,279.38 957.23,283.57 957.23,291.95 948.55,296.14 939.88,291.95 939.88,283.57" fill="#470e61" stroke="#470e61" stroke-width="0.3"/>
<polygon points="1000.60,279.38 1009.27,283.57 1009.27,291.95 1000.60,296.14 991.93,291.95 991.93,283.57" fill="#440154" stroke="#440154" stroke-width="0.3"/>
<polygon points="714.33,266.81 723.00,271.00 723.00,279.38 714.33,283.57 705.65,279.38 705.65,271.00" fill="#453581" stroke="#453581" stroke-width="0.3"/>
<polygon points="731.67,266.81 740.35,271.00 740.35,279.38 731.67,283.57 723.00,279.38 723.00,271.00" fill="#3d4d8a" stroke="#3d4d8a" stroke-width="0.3"/>
<polygon points="749.03,266.81 757.70,271.00 757.70,279.38 749.03,283.57 740.35,279.38 740.35,271.00" fill="#40bd72" stroke="#40bd72" stroke-width="0.3"/>
<polygon points="766.38,266.81 775.05,271.00 775.05,279.38 766.38,283.57 757.70,279.38 757.70,271.00" fill="#40bd72" stroke="#40bd72" stroke-width="0.3"/>
<polygon points="783.73,266.81 792.40,271.00 792.40,279.38 783.73,283.57 775.05,279.38 775.05,271.00" fill="#2b748e" stroke="#2b748e" stroke-width="0.3"/>
<polygon points="801.08,266.81 809.75,271.00 809.75,279.38 801.08,283.57 792.40,279.38 792.40,271.00" fill="#31b57b" stroke="#31b57b" stroke-width="0.3"/>
<polygon points="818.42,266.81 827.10,271.00 827.10,279.38 818.42,283.57 809.75,279.38 809.75,271.00" fill="#31b57b" stroke="#31b57b" stroke-width="0.3"/>
<polygon points="835.78,266.81 844.45,271.00 844.45,279.38 835.78,283.57 827.10,279.38 827.10,271.00" fill="#34618d" stroke="#34618d" stroke-width="0.3"/>
<polygon points="853.12,266.81 861.80,271.00 861.80,279.38 853.12,283.57 844.45,279.38 844.45,271.00" fill="#cde11d" stroke="#cde11d" stroke-width="0.3"/>
<polygon points="870.48,266.81 879.15,271.00 879.15,279.38 870.48,283.57 861.80,279.38 861.80,271.00" fill="#1fa287" stroke="#1fa287" stroke-width="0.3"/>
<polygon points="887.83,266.81 896.50,271.00 896.50,279.38 887.83,283.57 879.15,279.38 879.15,271.00" fill="#7fd34e" stroke="#7fd34e" stroke-width="0.3"/>
<polygon points="905.17,266.81 913.85,271.00 913.85,279.38 905.17,283.57 896.50,279.38 896.50,271.00" fill="#40bd72" stroke="#40bd72" stroke-width="0.3"/>
<polygon points="922.53,266.81 931.20,271.00 931.20,279.38 922.53,283.57 913.85,279.38 913.85,271.00" fill="#2f6b8e" stroke="#2f6b8e" stroke-width="0.3"/>
<polygon points="939.88,266.81 948.55,271.00 948.55,279.38 939.88,283.57 931.20,279.38 931.20,271.00" fill="#482979" stroke="#482979" stroke-width="0.3"/>
<polygon points="957.23,266.81 965.90,271.00 965.90,279.38 957.23,283.57 948.55,279.38 948.55,271.00" fill="#453581" stroke="#453581" stroke-width="0.3"/>
<polygon points="974.58,266.81 983.25,271.00 983.25,279.38 974.58,283.57 965.90,279.38 965.90,271.00" fill="#481c6e" stroke="#481c6e" stroke-width="0.3"/>
<polygon points="991.92,266.81 1000.60,271.00 1000.60,279.38 991.92,283.57 983.25,279.38 983.25,271.00" fill="#440154" stroke="#440154" stroke-width="0.3"/>
<polygon points="1009.27,266.81 1017.95,271.00 1017.95,279.38 1009.27,283.57 1000.60,279.38 1000.60,271.00" fill="#470e61" stroke="#470e61" stroke-width="0.3"/>
<polygon points="740.35,254.24 749.02,258.43 749.02,266.81 740.35,271.00 731.68,266.81 731.68,258.43" fill="#481c6e" stroke="#481c6e" stroke-width="0.3"/>
<polygon points="775.05,254.24 783.72,258.43 783.72,266.81 775.05,271.00 766.38,266.81 766.38,258.43" fill="#440154" stroke="#440154" stroke-width="0.3"/>
<polygon points="792.40,254.24 801.07,258.43 801.07,266.81 792.40,271.00 783.73,266.81 783.73,258.43" fill="#470e61" stroke="#470e61" stroke-width="0.3"/>
<polygon points="809.75,254.24 818.42,258.43 818.42,266.81 809.75,271.00 801.08,266.81 801.08,258.43" fill="#40bd72" stroke="#40bd72" stroke-width="0.3"/>
<polygon points="827.10,254.24 835.77,258.43 835.77,266.81 827.10,271.00 818.43,266.81 818.43,258.43" fill="#277e8e" stroke="#277e8e" stroke-width="0.3"/>
<polygon points="844.45,254.24 853.12,258.43 853.12,266.81 844.45,271.00 835.78,266.81 835.78,258.43" fill="#1f998a" stroke="#1f998a" stroke-width="0.3"/>
<polygon points="861.80,254.24 870.47,258.43 870.47,266.81 861.80,271.00 853.12,266.81 853.12,258.43" fill="#277e8e" stroke="#277e8e" stroke-width="0.3"/>
<polygon points="879.15,254.24 887.82,258.43 887.82,266.81 879.15,271.00 870.48,266.81 870.48,258.43" fill="#24878e" stroke="#24878e" stroke-width="0.3"/>
<polygon points="896.50,254.24 905.17,258.43 905.17,266.81 896.50,271.00 887.83,266.81 887.83,258.43" fill="#24878e" stroke="#24878e" stroke-width="0.3"/>
<polygon points="913.85,254.24 922.52,258.43 922.52,266.81 913.85,271.00 905.18,266.81 905.18,258.43" fill="#3d4d8a" stroke="#3d4d8a" stroke-width="0.3"/>
<polygon points="931.20,254.24 939.88,258.43 939.88,266.81 931.20,271.00 922.53,266.81 922.53,258.43" fill="#3d4d8a" stroke="#3d4d8a" stroke-width="0.3"/>
<polygon points="948.55,254.24 957.23,258.43 957.23,266.81 948.55,271.00 939.88,266.81 939.88,258.43" fill="#424186" stroke="#424186" stroke-width="0.3"/>
<polygon points="965.90,254.24 974.57,258.43 974.57,266.81 965.90,271.00 957.23,266.81 957.23,258.43" fill="#481c6e" stroke="#481c6e" stroke-width="0.3"/>
<polygon points="1000.60,254.24 1009.27,258.43 1009.27,266.81 1000.60,271.00 991.93,266.81 991.93,258.43" fill="#440154" stroke="#440154" stroke-width="0.3"/>
<polygon points="731.67,241.67 740.35,245.86 740.35,254.24 731.67,258.43 723.00,254.24 723.00,245.86" fill="#470e61" stroke="#470e61" stroke-width="0.3"/>
<polygon points="766.38,241.67 775.05,245.86 775.05,254.24 766.38,258.43 757.70,254.24 757.70,245.86" fill="#440154" stroke="#440154" stroke-width="0.3"/>
<polygon points="783.73,241.67 792.40,245.86 792.40,254.24 783.73,258.43 775.05,254.24 775.05,245.86" fill="#440154" stroke="#440154" stroke-width="0.3"/>
<polygon points="801.08,241.67 809.75,245.86 809.75,254.24 801.08,258.43 792.40,254.24 792.40,245.86" fill="#3d4d8a" stroke="#3d4d8a" stroke-width="0.3"/>
<polygon points="818.42,241.67 827.10,245.86 827.10,254.24 818.42,258.43 809.75,254.24 809.75,245.86" fill="#3d4d8a" stroke="#3d4d8a" stroke-width="0.3"/>
<polygon points="835.78,241.67 844.45,245.86 844.45,254.24 835.78,258.43 827.10,254.24 827.10,245.86" fill="#2b748e" stroke="#2b748e" stroke-width="0.3"/>
<polygon points="853.12,241.67 861.80,245.86 861.80,254.24 853.12,258.43 844.45,254.24 844.45,245.86" fill="#34618d" stroke="#34618d" stroke-width="0.3"/>
<polygon points="870.48,241.67 879.15,245.86 879.15,254.24 870.48,258.43 861.80,254.24 861.80,245.86" fill="#424186" stroke="#424186" stroke-width="0.3"/>
<polygon points="887.83,241.67 896.50,245.86 896.50,254.24 887.83,258.43 879.15,254.24 879.15,245.86" fill="#2b748e" stroke="#2b748e" stroke-width="0.3"/>
<polygon points="905.17,241.67 913.85,245.86 913.85,254.24 905.17,258.43 896.50,254.24 896.50,245.86" fill="#21918c" stroke="#21918c" stroke-width="0.3"/>
<polygon points="922.53,241.67 931.20,245.86 931.20,254.24 922.53,258.43 913.85,254.24 913.85,245.86" fill="#2f6b8e" stroke="#2f6b8e" stroke-width="0.3"/>
<polygon points="939.88,241.67 948.55,245.86 948.55,254.24 939.88,258.43 931.20,254.24 931.20,245.86" fill="#21918c" stroke="#21918c" stroke-width="0.3"/>
<polygon points="957.23,241.67 965.90,245.86 965.90,254.24 957.23,258.43 948.55,254.24 948.55,245.86" fill="#34618d" stroke="#34618d" stroke-width="0.3"/>
<polygon points="974.58,241.67 983.25,245.86 983.25,254.24 974.58,258.43 965.90,254.24 965.90,245.86" fill="#453581" stroke="#453581" stroke-width="0.3"/>
<polygon points="991.92,241.67 1000.60,245.86 1000.60,254.24 991.92,258.43 983.25,254.24 983.25,245.86" fill="#440154" stroke="#440154" stroke-width="0.3"/>
<polygon points="1009.27,241.67 1017.95,245.86 1017.95,254.24 1009.27,258.43 1000.60,254.24 1000.60,245.86" fill="#440154" stroke="#440154" stroke-width="0.3"/>
<polygon points="1026.62,241.67 1035.30,245.86 1035.30,254.24 1026.62,258.43 1017.95,254.24 1017.95,245.86" fill="#440154" stroke="#440154" stroke-width="0.3"/>
<polygon points="1043.97,241.67 1052.65,245.86 1052.65,254.24 1043.97,258.43 1035.30,254.24 1035.30,245.86" fill="#440154" stroke="#440154" stroke-width="0.3"/>
<polygon points="1061.32,241.67 1070.00,245.86 1070.00,254.24 1061.32,258.43 1052.65,254.24 1052.65,245.86" fill="#440154" stroke="#440154" stroke-width="0.3"/>
<polygon points="740.35,229.10 749.02,233.29 749.02,241.67 740.35,245.86 731.68,241.67 731.68,233.29" fill="#440154" stroke="#440154" stroke-width="0.3"/>
<polygon points="775.05,229.10 783.72,233.29 783.72,241.67 775.05,245.86 766.38,241.67 766.38,233.29" fill="#440154" stroke="#440154" stroke-width="0.3"/>
<polygon points="809.75,229.10 818.42,233.29 818.42,241.67 809.75,245.86 801.08,241.67 801.08,233.29" fill="#39568c" stroke="#39568c" stroke-width="0.3"/>
<polygon points="827.10,229.10 835.77,233.29 835.77,241.67 827.10,245.86 818.43,241.67 818.43,233.29" fill="#470e61" stroke="#470e61" stroke-width="0.3"/>
<polygon points="844.45,229.10 853.12,233.29 853.12,241.67 844.45,245.86 835.78,241.67 835.78,233.29" fill="#39568c" stroke="#39568c" stroke-width="0.3"/>
<polygon points="861.80,229.10 870.47,233.29 870.47,241.67 861.80,245.86 853.12,241.67 853.12,233.29" fill="#3d4d8a" stroke="#3d4d8a" stroke-width="0.3"/>
<polygon points="879.15,229.10 887.82,233.29 887.82,241.67 879.15,245.86 870.48,241.67 870.48,233.29" fill="#482979" stroke="#482979" stroke-width="0.3"/>
<polygon points="896.50,229.10 905.17,233.29 905.17,241.67 896.50,245.86 887.83,241.67 887.83,233.29" fill="#3d4d8a" stroke="#3d4d8a" stroke-width="0.3"/>
<polygon points="913.85,229.10 922.52,233.29 922.52,241.67 913.85,245.86 905.18,241.67 905.18,233.29" fill="#34618d" stroke="#34618d" stroke-width="0.3"/>
<polygon points="931.20,229.10 939.88,233.29 939.88,241.67 931.20,245.86 922.53,241.67 922.53,233.29" fill="#424186" stroke="#424186" stroke-width="0.3"/>
<polygon points="948.55,229.10 957.23,233.29 957.23,241.67 948.55,245.86 939.88,241.67 939.88,233.29" fill="#2b748e" stroke="#2b748e" stroke-width="0.3"/>
<polygon points="965.90,229.10 974.57,233.29 974.57,241.67 965.90,245.86 957.23,241.67 957.23,233.29" fill="#453581" stroke="#453581" stroke-width="0.3"/>
<polygon points="983.25,229.10 991.92,233.29 991.92,241.67 983.25,245.86 974.58,241.67 974.58,233.29" fill="#470e61" stroke="#470e61" stroke-width="0.3"/>
<polygon points="1000.60,229.10 1009.27,233.29 1009.27,241.67 1000.60,245.86 991.93,241.67 991.93,233.29" fill="#440154" stroke="#440154" stroke-width="0.3"/>
<polygon points="1017.95,229.10 1026.62,233.29 1026.62,241.67 1017.95,245.86 1009.28,241.67 1009.28,233.29" fill="#440154" stroke="#440154" stroke-width="0.3"/>
<polygon points="1035.30,229.10 1043.98,233.29 1043.98,241.67 1035.30,245.86 1026.63,241.67 1026.63,233.29" fill="#440154" stroke="#440154" stroke-width="0.3"/>
<polygon points="1052.65,229.10 1061.33,233.29 1061.33,241.67 1052.65,245.86 1043.98,241.67 1043.98,233.29" fill="#440154" stroke="#440154" stroke-width="0.3"/>
<polygon points="749.03,216.53 757.70,220.72 757.70,229.10 749.03,233.29 740.35,229.10 740.35,220.72" fill="#470e61" stroke="#470e61" stroke-width="0.3"/>
<polygon points="766.38,216.53 775.05,220.72 775.05,229.10 766.38,233.29 757.70,229.10 757.70,220.72" fill="#440154" stroke="#440154" stroke-width="0.3"/>
<polygon points="783.73,216.53 792.40,220.72 792.40,229.10 783.73,233.29 775.05,229.10 775.05,220.72" fill="#482979" stroke="#482979" stroke-width="0.3"/>
<polygon points="801.08,216.53 809.75,220.72 809.75,229.10 801.08,233.29 792.40,229.10 792.40,220.72" fill="#440154" stroke="#440154" stroke-width="0.3"/>
<polygon points="818.42,216.53 827.10,220.72 827.10,229.10 818.42,233.29 809.75,229.10 809.75,220.72" fill="#470e61" stroke="#470e61" stroke-width="0.3"/>
<polygon points="853.12,216.53 861.80,220.72 861.80,229.10 853.12,233.29 844.45,229.10 844.45,220.72" fill="#470e61" stroke="#470e61" stroke-width="0.3"/>
<polygon points="870.48,216.53 879.15,220.72 879.15,229.10 870.48,233.29 861.80,229.10 861.80,220.72" fill="#470e61" stroke="#470e61" stroke-width="0.3"/>
<polygon points="887.83,216.53 896.50,220.72 896.50,229.10 887.83,233.29 879.15,229.10 879.15,220.72" fill="#470e61" stroke="#470e61" stroke-width="0.3"/>
<polygon points="905.17,216.53 913.85,220.72 913.85,229.10 905.17,233.29 896.50,229.10 896.50,220.72" fill="#470e61" stroke="#470e61" stroke-width="0.3"/>
<polygon points="922.53,216.53 931.20,220.72 931.20,229.10 922.53,233.29 913.85,229.10 913.85,220.72" fill="#440154" stroke="#440154" stroke-width="0.3"/>
<polygon points="939.88,216.53 948.55,220.72 948.55,229.10 939.88,233.29 931.20,229.10 931.20,220.72" fill="#440154" stroke="#440154" stroke-width="0.3"/>
<polygon points="957.23,216.53 965.90,220.72 965.90,229.10 957.23,233.29 948.55,229.10 948.55,220.72" fill="#453581" stroke="#453581" stroke-width="0.3"/>
<polygon points="974.58,216.53 983.25,220.72 983.25,229.10 974.58,233.29 965.90,229.10 965.90,220.72" fill="#440154" stroke="#440154" stroke-width="0.3"/>
<polygon points="991.92,216.53 1000.60,220.72 1000.60,229.10 991.92,233.29 983.25,229.10 983.25,220.72" fill="#481c6e" stroke="#481c6e" stroke-width="0.3"/>
<polygon points="740.35,203.96 749.02,208.15 749.02,216.53 740.35,220.72 731.68,216.53 731.68,208.15" fill="#470e61" stroke="#470e61" stroke-width="0.3"/>
<polygon points="757.70,203.96 766.38,208.15 766.38,216.53 757.70,220.72 749.03,216.53 749.03,208.15" fill="#440154" stroke="#440154" stroke-width="0.3"/>
<polygon points="809.75,203.96 818.42,208.15 818.42,216.53 809.75,220.72 801.08,216.53 801.08,208.15" fill="#481c6e" stroke="#481c6e" stroke-width="0.3"/>
<polygon points="844.45,203.96 853.12,208.15 853.12,216.53 844.45,220.72 835.78,216.53 835.78,208.15" fill="#470e61" stroke="#470e61" stroke-width="0.3"/>
<polygon points="879.15,203.96 887.82,208.15 887.82,216.53 879.15,220.72 870.48,216.53 870.48,208.15" fill="#440154" stroke="#440154" stroke-width="0.3"/>
<polygon points="896.50,203.96 905.17,208.15 905.17,216.53 896.50,220.72 887.83,216.53 887.83,208.15" fill="#470e61" stroke="#470e61" stroke-width="0.3"/>
<polygon points="913.85,203.96 922.52,208.15 922.52,216.53 913.85,220.72 905.18,216.53 905.18,208.15" fill="#440154" stroke="#440154" stroke-width="0.3"/>
<polygon points="931.20,203.96 939.88,208.15 939.88,216.53 931.20,220.72 922.53,216.53 922.53,208.15" fill="#482979" stroke="#482979" stroke-width="0.3"/>
<polygon points="948.55,203.96 957.23,208.15 957.23,216.53 948.55,220.72 939.88,216.53 939.88,208.15" fill="#482979" stroke="#482979" stroke-width="0.3"/>
<polygon points="965.90,203.96 974.57,208.15 974.57,216.53 965.90,220.72 957.23,216.53 957.23,208.15" fill="#440154" stroke="#440154" stroke-width="0.3"/>
<polygon points="983.25,203.96 991.92,208.15 991.92,216.53 983.25,220.72 974.58,216.53 974.58,208.15" fill="#470e61" stroke="#470e61" stroke-width="0.3"/>
<polygon points="1000.60,203.96 1009.27,208.15 1009.27,216.53 1000.60,220.72 991.93,216.53 991.93,208.15" fill="#481c6e" stroke="#481c6e" stroke-width="0.3"/>
<polygon points="1035.30,203.96 1043.98,208.15 1043.98,216.53 1035.30,220.72 1026.63,216.53 1026.63,208.15" fill="#440154" stroke="#440154" stroke-width="0.3"/>
<polygon points="783.73,191.39 792.40,195.58 792.40,203.96 783.73,208.15 775.05,203.96 775.05,195.58" fill="#453581" stroke="#453581" stroke-width="0.3"/>
<polygon points="818.42,191.39 827.10,195.58 827.10,203.96 818.42,208.15 809.75,203.96 809.75,195.58" fill="#440154" stroke="#440154" stroke-width="0.3"/>
<polygon points="853.12,191.39 861.80,195.58 861.80,203.96 853.12,208.15 844.45,203.96 844.45,195.58" fill="#440154" stroke="#440154" stroke-width="0.3"/>
<polygon points="887.83,191.39 896.50,195.58 896.50,203.96 887.83,208.15 879.15,203.96 879.15,195.58" fill="#470e61" stroke="#470e61" stroke-width="0.3"/>
<polygon points="922.53,191.39 931.20,195.58 931.20,203.96 922.53,208.15 913.85,203.96 913.85,195.58" fill="#470e61" stroke="#470e61" stroke-width="0.3"/>
<polygon points="939.88,191.39 948.55,195.58 948.55,203.96 939.88,208.15 931.20,203.96 931.20,195.58" fill="#481c6e" stroke="#481c6e" stroke-width="0.3"/>
<polygon points="1009.27,191.39 1017.95,195.58 1017.95,203.96 1009.27,208.15 1000.60,203.96 1000.60,195.58" fill="#440154" stroke="#440154" stroke-width="0.3"/>
<polygon points="1026.62,191.39 1035.30,195.58 1035.30,203.96 1026.62,208.15 1017.95,203.96 1017.95,195.58" fill="#440154" stroke="#440154" stroke-width="0.3"/>
<polygon points="757.70,178.82 766.38,183.01 766.38,191.39 757.70,195.58 749.03,191.39 749.03,183.01" fill="#440154" stroke="#440154" stroke-width="0.3"/>
<polygon points="809.75,178.82 818.42,183.01 818.42,191.39 809.75,195.58 801.08,191.39 801.08,183.01" fill="#440154" stroke="#440154" stroke-width="0.3"/>
<polygon points="827.10,178.82 835.77,183.01 835.77,191.39 827.10,195.58 818.43,191.39 818.43,183.01" fill="#440154" stroke="#440154" stroke-width="0.3"/>
<polygon points="844.45,178.82 853.12,183.01 853.12,191.39 844.45,195.58 835.78,191.39 835.78,183.01" fill="#440154" stroke="#440154" stroke-width="0.3"/>
<polygon points="896.50,178.82 905.17,183.01 905.17,191.39 896.50,195.58 887.83,191.39 887.83,183.01" fill="#440154" stroke="#440154" stroke-width="0.3"/>
<polygon points="965.90,178.82 974.57,183.01 974.57,191.39 965.90,195.58 957.23,191.39 957.23,183.01" fill="#440154" stroke="#440154" stroke-width="0.3"/>
<polygon points="775.05,153.68 783.72,157.87 783.72,166.25 775.05,170.44 766.38,166.25 766.38,157.87" fill="#440154" stroke="#440154" stroke-width="0.3"/>
<polygon points="792.40,153.68 801.07,157.87 801.07,166.25 792.40,170.44 783.73,166.25 783.73,157.87" fill="#440154" stroke="#440154" stroke-width="0.3"/>
<polygon points="827.10,153.68 835.77,157.87 835.77,166.25 827.10,170.44 818.43,166.25 818.43,157.87" fill="#470e61" stroke="#470e61" stroke-width="0.3"/>
<polygon points="844.45,153.68 853.12,157.87 853.12,166.25 844.45,170.44 835.78,166.25 835.78,157.87" fill="#440154" stroke="#440154" stroke-width="0.3"/>
<polygon points="879.15,153.68 887.82,157.87 887.82,166.25 879.15,170.44 870.48,166.25 870.48,157.87" fill="#440154" stroke="#440154" stroke-width="0.3"/>
<polygon points="801.08,141.11 809.75,145.30 809.75,153.68 801.08,157.87 792.40,153.68 792.40,145.30" fill="#440154" stroke="#440154" stroke-width="0.3"/>
<polygon points="853.12,141.11 861.80,145.30 861.80,153.68 853.12,157.87 844.45,153.68 844.45,145.30" fill="#440154" stroke="#440154" stroke-width="0.3"/>
<polygon points="870.48,141.11 879.15,145.30 879.15,153.68 870.48,157.87 861.80,153.68 861.80,145.30" fill="#440154" stroke="#440154" stroke-width="0.3"/>
<polygon points="827.10,128.54 835.77,132.73 835.77,141.11 827.10,145.30 818.43,141.11 818.43,132.73" fill="#440154" stroke="#440154" stroke-width="0.3"/>
<polygon points="887.83,65.69 896.50,69.88 896.50,78.26 887.83,82.45 879.15,78.26 879.15,69.88" fill="#440154" stroke="#440154" stroke-width="0.3"/>
<line x1="799.45" y1="56.75" x2="799.45" y2="456.2" stroke="#000" stroke-width="2.4"/>
<line x1="615.8" y1="271.00" x2="1081.9" y2="271.00" stroke="#000" stroke-width="2.4"/>
<rect x="924.30" y="74.95" width="115.6" height="42.5" rx="6" ry="6" fill="#fff" stroke="#000" stroke-width="1.6"/>
<text x="981.60" y="108.80" font-size="35" text-anchor="middle" fill="#000">73.1%</text>
<rect x="615.8" y="56.75" width="466.10" height="399.45" fill="none" stroke="#333333" stroke-width="1.6"/>
<rect x="134.8" y="470.9" width="466.10" height="399.45" fill="#ffffff"/>
<line x1="219.80" y1="470.9" x2="219.80" y2="870.3499999999999" stroke="#ebebeb" stroke-width="1.3"/>
<line x1="322.30" y1="470.9" x2="322.30" y2="870.3499999999999" stroke="#ebebeb" stroke-width="1.3"/>
<line x1="440.80" y1="470.9" x2="440.80" y2="870.3499999999999" stroke="#ebebeb" stroke-width="1.3"/>
<line x1="545.80" y1="470.9" x2="545.80" y2="870.3499999999999" stroke="#ebebeb" stroke-width="1.3"/>
<line x1="590.50" y1="470.9" x2="590.50" y2="870.3499999999999" stroke="#ebebeb" stroke-width="1.3"/>
<line x1="134.8" y1="535.45" x2="600.9" y2="535.45" stroke="#ebebeb" stroke-width="1.3"/>
<line x1="134.8" y1="659.45" x2="600.9" y2="659.45" stroke="#ebebeb" stroke-width="1.3"/>
<line x1="134.8" y1="767.35" x2="600.9" y2="767.35" stroke="#ebebeb" stroke-width="1.3"/>
<line x1="134.8" y1="861.55" x2="600.9" y2="861.55" stroke="#ebebeb" stroke-width="1.3"/>
<line x1="174.30" y1="470.9" x2="174.30" y2="870.3499999999999" stroke="#ebebeb" stroke-width="2.3"/>
<line x1="264.00" y1="470.9" x2="264.00" y2="870.3499999999999" stroke="#ebebeb" stroke-width="2.3"/>
<line x1="380.50" y1="470.9" x2="380.50" y2="870.3499999999999" stroke="#ebebeb" stroke-width="2.3"/>
<line x1="501.00" y1="470.9" x2="501.00" y2="870.3499999999999" stroke="#ebebeb" stroke-width="2.3"/>
<line x1="134.8" y1="472.25" x2="600.9" y2="472.25" stroke="#ebebeb" stroke-width="2.3"/>
<line x1="134.8" y1="598.45" x2="600.9" y2="598.45" stroke="#ebebeb" stroke-width="2.3"/>
<line x1="134.8" y1="720.55" x2="600.9" y2="720.55" stroke="#ebebeb" stroke-width="2.3"/>
<line x1="134.8" y1="814.45" x2="600.9" y2="814.45" stroke="#ebebeb" stroke-width="2.3"/>
<polygon points="242.00,844.37 250.68,848.56 250.68,856.94 242.00,861.13 233.32,856.94 233.32,848.56" fill="#440154" stroke="#440154" stroke-width="0.3"/>
<polygon points="259.35,844.37 268.03,848.56 268.03,856.94 259.35,861.13 250.68,856.94 250.68,848.56" fill="#440154" stroke="#440154" stroke-width="0.3"/>
<polygon points="276.70,844.37 285.38,848.56 285.38,856.94 276.70,861.13 268.02,856.94 268.02,848.56" fill="#440154" stroke="#440154" stroke-width="0.3"/>
<polygon points="294.05,844.37 302.73,848.56 302.73,856.94 294.05,861.13 285.38,856.94 285.38,848.56" fill="#481c6e" stroke="#481c6e" stroke-width="0.3"/>
<polygon points="328.75,844.37 337.43,848.56 337.43,856.94 328.75,861.13 320.07,856.94 320.07,848.56" fill="#470e61" stroke="#470e61" stroke-width="0.3"/>
<polygon points="363.45,844.37 372.13,848.56 372.13,856.94 363.45,861.13 354.78,856.94 354.78,848.56" fill="#440154" stroke="#440154" stroke-width="0.3"/>
<polygon points="398.15,844.37 406.82,848.56 406.82,856.94 398.15,861.13 389.47,856.94 389.47,848.56" fill="#440154" stroke="#440154" stroke-width="0.3"/>
<polygon points="320.07,806.66 328.75,810.85 328.75,819.23 320.07,823.42 311.40,819.23 311.40,810.85" fill="#440154" stroke="#440154" stroke-width="0.3"/>
<polygon points="250.68,781.52 259.35,785.71 259.35,794.09 250.68,798.28 242.00,794.09 242.00,785.71" fill="#481c6e" stroke="#481c6e" stroke-width="0.3"/>
<polygon points="268.03,781.52 276.70,785.71 276.70,794.09 268.03,798.28 259.35,794.09 259.35,785.71" fill="#440154" stroke="#440154" stroke-width="0.3"/>
<polygon points="285.38,781.52 294.05,785.71 294.05,794.09 285.38,798.28 276.70,794.09 276.70,785.71" fill="#470e61" stroke="#470e61" stroke-width="0.3"/>
<polygon points="302.73,781.52 311.40,785.71 311.40,794.09 302.73,798.28 294.05,794.09 294.05,785.71" fill="#440154" stroke="#440154" stroke-width="0.3"/>
<polygon points="337.43,781.52 346.10,785.71 346.10,794.09 337.43,798.28 328.75,794.09 328.75,785.71" fill="#440154" stroke="#440154" stroke-width="0.3"/>
<polygon points="580.32,781.52 589.00,785.71 589.00,794.09 580.32,798.28 571.65,794.09 571.65,785.71" fill="#440154" stroke="#440154" stroke-width="0.3"/>
<polygon points="224.65,768.95 233.33,773.14 233.33,781.52 224.65,785.71 215.97,781.52 215.97,773.14" fill="#440154" stroke="#440154" stroke-width="0.3"/>
<polygon points="276.70,768.95 285.38,773.14 285.38,781.52 276.70,785.71 268.02,781.52 268.02,773.14" fill="#470e61" stroke="#470e61" stroke-width="0.3"/>
<polygon points="311.40,768.95 320.07,773.14 320.07,781.52 311.40,785.71 302.72,781.52 302.72,773.14" fill="#440154" stroke="#440154" stroke-width="0.3"/>
<polygon points="328.75,768.95 337.43,773.14 337.43,781.52 328.75,785.71 320.07,781.52 320.07,773.14" fill="#481c6e" stroke="#481c6e" stroke-width="0.3"/>
<polygon points="380.80,768.95 389.48,773.14 389.48,781.52 380.80,785.71 372.12,781.52 372.12,773.14" fill="#440154" stroke="#440154" stroke-width="0.3"/>
<polygon points="484.90,768.95 493.57,773.14 493.57,781.52 484.90,785.71 476.22,781.52 476.22,773.14" fill="#440154" stroke="#440154" stroke-width="0.3"/>
<polygon points="215.98,756.38 224.65,760.57 224.65,768.95 215.98,773.14 207.30,768.95 207.30,760.57" fill="#440154" stroke="#440154" stroke-width="0.3"/>
<polygon points="250.68,756.38 259.35,760.57 259.35,768.95 250.68,773.14 242.00,768.95 242.00,760.57" fill="#440154" stroke="#440154" stroke-width="0.3"/>
<polygon points="268.03,756.38 276.70,760.57 276.70,768.95 268.03,773.14 259.35,768.95 259.35,760.57" fill="#470e61" stroke="#470e61" stroke-width="0.3"/>
<polygon points="285.38,756.38 294.05,760.57 294.05,768.95 285.38,773.14 276.70,768.95 276.70,760.57" fill="#470e61" stroke="#470e61" stroke-width="0.3"/>
<polygon points="302.73,756.38 311.40,760.57 311.40,768.95 302.73,773.14 294.05,768.95 294.05,760.57" fill="#481c6e" stroke="#481c6e" stroke-width="0.3"/>
<polygon points="320.07,756.38 328.75,760.57 328.75,768.95 320.07,773.14 311.40,768.95 311.40,760.57" fill="#470e61" stroke="#470e61" stroke-width="0.3"/>
<polygon points="372.13,756.38 380.80,760.57 380.80,768.95 372.13,773.14 363.45,768.95 363.45,760.57" fill="#440154" stroke="#440154" stroke-width="0.3"/>
<polygon points="476.23,756.38 484.90,760.57 484.90,768.95 476.23,773.14 467.55,768.95 467.55,760.57" fill="#440154" stroke="#440154" stroke-width="0.3"/>
<polygon points="224.65,743.81 233.33,748.00 233.33,756.38 224.65,760.57 215.97,756.38 215.97,748.00" fill="#453581" stroke="#453581" stroke-width="0.3"/>
<polygon points="242.00,743.81 250.68,748.00 250.68,756.38 242.00,760.57 233.32,756.38 233.32,748.00" fill="#440154" stroke="#440154" stroke-width="0.3"/>
<polygon points="259.35,743.81 268.03,748.00 268.03,756.38 259.35,760.57 250.68,756.38 250.68,748.00" fill="#482979" stroke="#482979" stroke-width="0.3"/>
<polygon points="276.70,743.81 285.38,748.00 285.38,756.38 276.70,760.57 268.02,756.38 268.02,748.00" fill="#3d4d8a" stroke="#3d4d8a" stroke-width="0.3"/>
<polygon points="294.05,743.81 302.73,748.00 302.73,756.38 294.05,760.57 285.38,756.38 285.38,748.00" fill="#482979" stroke="#482979" stroke-width="0.3"/>
<polygon points="311.40,743.81 320.07,748.00 320.07,756.38 311.40,760.57 302.72,756.38 302.72,748.00" fill="#3d4d8a" stroke="#3d4d8a" stroke-width="0.3"/>
<polygon points="328.75,743.81 337.43,748.00 337.43,756.38 328.75,760.57 320.07,756.38 320.07,748.00" fill="#470e61" stroke="#470e61" stroke-width="0.3"/>
<polygon points="346.10,743.81 354.78,748.00 354.78,756.38 346.10,760.57 337.43,756.38 337.43,748.00" fill="#482979" stroke="#482979" stroke-width="0.3"/>
<polygon points="363.45,743.81 372.13,748.00 372.13,756.38 363.45,760.57 354.78,756.38 354.78,748.00" fill="#481c6e" stroke="#481c6e" stroke-width="0.3"/>
<polygon points="484.90,743.81 493.57,748.00 493.57,756.38 484.90,760.57 476.22,756.38 476.22,748.00" fill="#440154" stroke="#440154" stroke-width="0.3"/>
<polygon points="215.98,731.24 224.65,735.43 224.65,743.81 215.98,748.00 207.30,743.81 207.30,735.43" fill="#440154" stroke="#440154" stroke-width="0.3"/>
<polygon points="233.33,731.24 242.00,735.43 242.00,743.81 233.33,748.00 224.65,743.81 224.65,735.43" fill="#440154" stroke="#440154" stroke-width="0.3"/>
<polygon points="250.68,731.24 259.35,735.43 259.35,743.81 250.68,748.00 242.00,743.81 242.00,735.43" fill="#453581" stroke="#453581" stroke-width="0.3"/>
<polygon points="268.03,731.24 276.70,735.43 276.70,743.81 268.03,748.00 259.35,743.81 259.35,735.43" fill="#481c6e" stroke="#481c6e" stroke-width="0.3"/>
<polygon points="285.38,731.24 294.05,735.43 294.05,743.81 285.38,748.00 276.70,743.81 276.70,735.43" fill="#482979" stroke="#482979" stroke-width="0.3"/>
<polygon points="302.73,731.24 311.40,735.43 311.40,743.81 302.73,748.00 294.05,743.81 294.05,735.43" fill="#453581" stroke="#453581" stroke-width="0.3"/>
<polygon points="320.07,731.24 328.75,735.43 328.75,743.81 320.07,748.00 311.40,743.81 311.40,735.43" fill="#481c6e" stroke="#481c6e" stroke-width="0.3"/>
<polygon points="337.43,731.24 346.10,735.43 346.10,743.81 337.43,748.00 328.75,743.81 328.75,735.43" fill="#440154" stroke="#440154" stroke-width="0.3"/>
<polygon points="406.82,731.24 415.50,735.43 415.50,743.81 406.82,748.00 398.15,743.81 398.15,735.43" fill="#440154" stroke="#440154" stroke-width="0.3"/>
<polygon points="172.60,718.67 181.28,722.86 181.28,731.24 172.60,735.43 163.92,731.24 163.92,722.86" fill="#440154" stroke="#440154" stroke-width="0.3"/>
<polygon points="207.30,718.67 215.98,722.86 215.98,731.24 207.30,735.43 198.62,731.24 198.62,722.86" fill="#440154" stroke="#440154" stroke-width="0.3"/>
<polygon points="259.35,718.67 268.03,722.86 268.03,731.24 259.35,735.43 250.68,731.24 250.68,722.86" fill="#481c6e" stroke="#481c6e" stroke-width="0.3"/>
<polygon points="276.70,718.67 285.38,722.86 285.38,731.24 276.70,735.43 268.02,731.24 268.02,722.86" fill="#481c6e" stroke="#481c6e" stroke-width="0.3"/>
<polygon points="294.05,718.67 302.73,722.86 302.73,731.24 294.05,735.43 285.38,731.24 285.38,722.86" fill="#3d4d8a" stroke="#3d4d8a" stroke-width="0.3"/>
<polygon points="311.40,718.67 320.07,722.86 320.07,731.24 311.40,735.43 302.72,731.24 302.72,722.86" fill="#3d4d8a" stroke="#3d4d8a" stroke-width="0.3"/>
<polygon points="328.75,718.67 337.43,722.86 337.43,731.24 328.75,735.43 320.07,731.24 320.07,722.86" fill="#424186" stroke="#424186" stroke-width="0.3"/>
<polygon points="346.10,718.67 354.78,722.86 354.78,731.24 346.10,735.43 337.43,731.24 337.43,722.86" fill="#424186" stroke="#424186" stroke-width="0.3"/>
<polygon points="363.45,718.67 372.13,722.86 372.13,731.24 363.45,735.43 354.78,731.24 354.78,722.86" fill="#481c6e" stroke="#481c6e" stroke-width="0.3"/>
<polygon points="233.33,706.10 242.00,710.29 242.00,718.67 233.33,722.86 224.65,718.67 224.65,710.29" fill="#481c6e" stroke="#481c6e" stroke-width="0.3"/>
<polygon points="250.68,706.10 259.35,710.29 259.35,718.67 250.68,722.86 242.00,718.67 242.00,710.29" fill="#424186" stroke="#424186" stroke-width="0.3"/>
<polygon points="268.03,706.10 276.70,710.29 276.70,718.67 268.03,722.86 259.35,718.67 259.35,710.29" fill="#2b748e" stroke="#2b748e" stroke-width="0.3"/>
<polygon points="285.38,706.10 294.05,710.29 294.05,718.67 285.38,722.86 276.70,718.67 276.70,710.29" fill="#39568c" stroke="#39568c" stroke-width="0.3"/>
<polygon points="302.73,706.10 311.40,710.29 311.40,718.67 302.73,722.86 294.05,718.67 294.05,710.29" fill="#40bd72" stroke="#40bd72" stroke-width="0.3"/>
<polygon points="320.07,706.10 328.75,710.29 328.75,718.67 320.07,722.86 311.40,718.67 311.40,710.29" fill="#24878e" stroke="#24878e" stroke-width="0.3"/>
<polygon points="337.43,706.10 346.10,710.29 346.10,718.67 337.43,722.86 328.75,718.67 328.75,710.29" fill="#2b748e" stroke="#2b748e" stroke-width="0.3"/>
<polygon points="354.78,706.10 363.45,710.29 363.45,718.67 354.78,722.86 346.10,718.67 346.10,710.29" fill="#424186" stroke="#424186" stroke-width="0.3"/>
<polygon points="406.82,706.10 415.50,710.29 415.50,718.67 406.82,722.86 398.15,718.67 398.15,710.29" fill="#440154" stroke="#440154" stroke-width="0.3"/>
<polygon points="224.65,693.53 233.33,697.72 233.33,706.10 224.65,710.29 215.97,706.10 215.97,697.72" fill="#470e61" stroke="#470e61" stroke-width="0.3"/>
<polygon points="242.00,693.53 250.68,697.72 250.68,706.10 242.00,710.29 233.32,706.10 233.32,697.72" fill="#470e61" stroke="#470e61" stroke-width="0.3"/>
<polygon points="259.35,693.53 268.03,697.72 268.03,706.10 259.35,710.29 250.68,706.10 250.68,697.72" fill="#481c6e" stroke="#481c6e" stroke-width="0.3"/>
<polygon points="276.70,693.53 285.38,697.72 285.38,706.10 276.70,710.29 268.02,706.10 268.02,697.72" fill="#3d4d8a" stroke="#3d4d8a" stroke-width="0.3"/>
<polygon points="294.05,693.53 302.73,697.72 302.73,706.10 294.05,710.29 285.38,706.10 285.38,697.72" fill="#34618d" stroke="#34618d" stroke-width="0.3"/>
<polygon points="311.40,693.53 320.07,697.72 320.07,706.10 311.40,710.29 302.72,706.10 302.72,697.72" fill="#24878e" stroke="#24878e" stroke-width="0.3"/>
<polygon points="328.75,693.53 337.43,697.72 337.43,706.10 328.75,710.29 320.07,706.10 320.07,697.72" fill="#24878e" stroke="#24878e" stroke-width="0.3"/>
<polygon points="346.10,693.53 354.78,697.72 354.78,706.10 346.10,710.29 337.43,706.10 337.43,697.72" fill="#34618d" stroke="#34618d" stroke-width="0.3"/>
<polygon points="363.45,693.53 372.13,697.72 372.13,706.10 363.45,710.29 354.78,706.10 354.78,697.72" fill="#453581" stroke="#453581" stroke-width="0.3"/>
<polygon points="380.80,693.53 389.48,697.72 389.48,706.10 380.80,710.29 372.12,706.10 372.12,697.72" fill="#440154" stroke="#440154" stroke-width="0.3"/>
<polygon points="398.15,693.53 406.82,697.72 406.82,706.10 398.15,710.29 389.47,706.10 389.47,697.72" fill="#481c6e" stroke="#481c6e" stroke-width="0.3"/>
<polygon points="415.50,693.53 424.18,697.72 424.18,706.10 415.50,710.29 406.82,706.10 406.82,697.72" fill="#440154" stroke="#440154" stroke-width="0.3"/>
<polygon points="233.33,680.96 242.00,685.15 242.00,693.53 233.33,697.72 224.65,693.53 224.65,685.15" fill="#481c6e" stroke="#481c6e" stroke-width="0.3"/>
<polygon points="268.03,680.96 276.70,685.15 276.70,693.53 268.03,697.72 259.35,693.53 259.35,685.15" fill="#481c6e" stroke="#481c6e" stroke-width="0.3"/>
<polygon points="285.38,680.96 294.05,685.15 294.05,693.53 285.38,697.72 276.70,693.53 276.70,685.15" fill="#3d4d8a" stroke="#3d4d8a" stroke-width="0.3"/>
<polygon points="302.73,680.96 311.40,685.15 311.40,693.53 302.73,697.72 294.05,693.53 294.05,685.15" fill="#40bd72" stroke="#40bd72" stroke-width="0.3"/>
<polygon points="320.07,680.96 328.75,685.15 328.75,693.53 320.07,697.72 311.40,693.53 311.40,685.15" fill="#24878e" stroke="#24878e" stroke-width="0.3"/>
<polygon points="337.43,680.96 346.10,685.15 346.10,693.53 337.43,697.72 328.75,693.53 328.75,685.15" fill="#277e8e" stroke="#277e8e" stroke-width="0.3"/>
<polygon points="354.78,680.96 363.45,685.15 363.45,693.53 354.78,697.72 346.10,693.53 346.10,685.15" fill="#424186" stroke="#424186" stroke-width="0.3"/>
<polygon points="372.13,680.96 380.80,685.15 380.80,693.53 372.13,697.72 363.45,693.53 363.45,685.15" fill="#481c6e" stroke="#481c6e" stroke-width="0.3"/>
<polygon points="389.48,680.96 398.15,685.15 398.15,693.53 389.48,697.72 380.80,693.53 380.80,685.15" fill="#481c6e" stroke="#481c6e" stroke-width="0.3"/>
<polygon points="406.82,680.96 415.50,685.15 415.50,693.53 406.82,697.72 398.15,693.53 398.15,685.15" fill="#440154" stroke="#440154" stroke-width="0.3"/>
<polygon points="476.23,680.96 484.90,685.15 484.90,693.53 476.23,697.72 467.55,693.53 467.55,685.15" fill="#440154" stroke="#440154" stroke-width="0.3"/>
<polygon points="172.60,668.39 181.28,672.58 181.28,680.96 172.60,685.15 163.92,680.96 163.92,672.58" fill="#440154" stroke="#440154" stroke-width="0.3"/>
<polygon points="189.95,668.39 198.62,672.58 198.62,680.96 189.95,685.15 181.27,680.96 181.27,672.58" fill="#440154" stroke="#440154" stroke-width="0.3"/>
<polygon points="207.30,668.39 215.98,672.58 215.98,680.96 207.30,685.15 198.62,680.96 198.62,672.58" fill="#440154" stroke="#440154" stroke-width="0.3"/>
<polygon points="224.65,668.39 233.33,672.58 233.33,680.96 224.65,685.15 215.97,680.96 215.97,672.58" fill="#482979" stroke="#482979" stroke-width="0.3"/>
<polygon points="242.00,668.39 250.68,672.58 250.68,680.96 242.00,685.15 233.32,680.96 233.32,672.58" fill="#424186" stroke="#424186" stroke-width="0.3"/>
<polygon points="259.35,668.39 268.03,672.58 268.03,680.96 259.35,685.15 250.68,680.96 250.68,672.58" fill="#482979" stroke="#482979" stroke-width="0.3"/>
<polygon points="276.70,668.39 285.38,672.58 285.38,680.96 276.70,685.15 268.02,680.96 268.02,672.58" fill="#277e8e" stroke="#277e8e" stroke-width="0.3"/>
<polygon points="294.05,668.39 302.73,672.58 302.73,680.96 294.05,685.15 285.38,680.96 285.38,672.58" fill="#24878e" stroke="#24878e" stroke-width="0.3"/>
<polygon points="311.40,668.39 320.07,672.58 320.07,680.96 311.40,685.15 302.72,680.96 302.72,672.58" fill="#2f6b8e" stroke="#2f6b8e" stroke-width="0.3"/>
<polygon points="328.75,668.39 337.43,672.58 337.43,680.96 328.75,685.15 320.07,680.96 320.07,672.58" fill="#34618d" stroke="#34618d" stroke-width="0.3"/>
<polygon points="346.10,668.39 354.78,672.58 354.78,680.96 346.10,685.15 337.43,680.96 337.43,672.58" fill="#482979" stroke="#482979" stroke-width="0.3"/>
<polygon points="363.45,668.39 372.13,672.58 372.13,680.96 363.45,685.15 354.78,680.96 354.78,672.58" fill="#424186" stroke="#424186" stroke-width="0.3"/>
<polygon points="450.20,668.39 458.88,672.58 458.88,680.96 450.20,685.15 441.53,680.96 441.53,672.58" fill="#440154" stroke="#440154" stroke-width="0.3"/>
<polygon points="519.60,668.39 528.27,672.58 528.27,680.96 519.60,685.15 510.93,680.96 510.93,672.58" fill="#440154" stroke="#440154" stroke-width="0.3"/>
<polygon points="215.98,655.82 224.65,660.01 224.65,668.39 215.98,672.58 207.30,668.39 207.30,660.01" fill="#440154" stroke="#440154" stroke-width="0.3"/>
<polygon points="233.33,655.82 242.00,660.01 242.00,668.39 233.33,672.58 224.65,668.39 224.65,660.01" fill="#470e61" stroke="#470e61" stroke-width="0.3"/>
<polygon points="250.68,655.82 259.35,660.01 259.35,668.39 250.68,672.58 242.00,668.39 242.00,660.01" fill="#440154" stroke="#440154" stroke-width="0.3"/>
<polygon points="268.03,655.82 276.70,660.01 276.70,668.39 268.03,672.58 259.35,668.39 259.35,660.01" fill="#424186" stroke="#424186" stroke-width="0.3"/>
<polygon points="285.38,655.82 294.05,660.01 294.05,668.39 285.38,672.58 276.70,668.39 276.70,660.01" fill="#2b748e" stroke="#2b748e" stroke-width="0.3"/>
<polygon points="302.73,655.82 311.40,660.01 311.40,668.39 302.73,672.58 294.05,668.39 294.05,660.01" fill="#2f6b8e" stroke="#2f6b8e" stroke-width="0.3"/>
<polygon points="320.07,655.82 328.75,660.01 328.75,668.39 320.07,672.58 311.40,668.39 311.40,660.01" fill="#3d4d8a" stroke="#3d4d8a" stroke-width="0.3"/>
<polygon points="337.43,655.82 346.10,660.01 346.10,668.39 337.43,672.58 328.75,668.39 328.75,660.01" fill="#424186" stroke="#424186" stroke-width="0.3"/>
<polygon points="354.78,655.82 363.45,660.01 363.45,668.39 354.78,672.58 346.10,668.39 346.10,660.01" fill="#481c6e" stroke="#481c6e" stroke-width="0.3"/>
<polygon points="372.13,655.82 380.80,660.01 380.80,668.39 372.13,672.58 363.45,668.39 363.45,660.01" fill="#440154" stroke="#440154" stroke-width="0.3"/>
<polygon points="389.48,655.82 398.15,660.01 398.15,668.39 389.48,672.58 380.80,668.39 380.80,660.01" fill="#440154" stroke="#440154" stroke-width="0.3"/>
<polygon points="242.00,643.25 250.68,647.44 250.68,655.82 242.00,660.01 233.32,655.82 233.32,647.44" fill="#440154" stroke="#440154" stroke-width="0.3"/>
<polygon points="259.35,643.25 268.03,647.44 268.03,655.82 259.35,660.01 250.68,655.82 250.68,647.44" fill="#440154" stroke="#440154" stroke-width="0.3"/>
<polygon points="276.70,643.25 285.38,647.44 285.38,655.82 276.70,660.01 268.02,655.82 268.02,647.44" fill="#424186" stroke="#424186" stroke-width="0.3"/>
<polygon points="294.05,643.25 302.73,647.44 302.73,655.82 294.05,660.01 285.38,655.82 285.38,647.44" fill="#2f6b8e" stroke="#2f6b8e" stroke-width="0.3"/>
<polygon points="311.40,643.25 320.07,647.44 320.07,655.82 311.40,660.01 302.72,655.82 302.72,647.44" fill="#424186" stroke="#424186" stroke-width="0.3"/>
<polygon points="346.10,643.25 354.78,647.44 354.78,655.82 346.10,660.01 337.43,655.82 337.43,647.44" fill="#481c6e" stroke="#481c6e" stroke-width="0.3"/>
<polygon points="380.80,643.25 389.48,647.44 389.48,655.82 380.80,660.01 372.12,655.82 372.12,647.44" fill="#440154" stroke="#440154" stroke-width="0.3"/>
<polygon points="268.03,630.68 276.70,634.87 276.70,643.25 268.03,647.44 259.35,643.25 259.35,634.87" fill="#482979" stroke="#482979" stroke-width="0.3"/>
<polygon points="285.38,630.68 294.05,634.87 294.05,643.25 285.38,647.44 276.70,643.25 276.70,634.87" fill="#481c6e" stroke="#481c6e" stroke-width="0.3"/>
<polygon points="302.73,630.68 311.40,634.87 311.40,643.25 302.73,647.44 294.05,643.25 294.05,634.87" fill="#453581" stroke="#453581" stroke-width="0.3"/>
<polygon points="320.07,630.68 328.75,634.87 328.75,643.25 320.07,647.44 311.40,643.25 311.40,634.87" fill="#482979" stroke="#482979" stroke-width="0.3"/>
<polygon points="337.43,630.68 346.10,634.87 346.10,643.25 337.43,647.44 328.75,643.25 328.75,634.87" fill="#470e61" stroke="#470e61" stroke-width="0.3"/>
<polygon points="372.13,630.68 380.80,634.87 380.80,643.25 372.13,647.44 363.45,643.25 363.45,634.87" fill="#440154" stroke="#440154" stroke-width="0.3"/>
<polygon points="259.35,618.11 268.03,622.30 268.03,630.68 259.35,634.87 250.68,630.68 250.68,622.30" fill="#440154" stroke="#440154" stroke-width="0.3"/>
<polygon points="294.05,618.11 302.73,622.30 302.73,630.68 294.05,634.87 285.38,630.68 285.38,622.30" fill="#440154" stroke="#440154" stroke-width="0.3"/>
<polygon points="311.40,618.11 320.07,622.30 320.07,630.68 311.40,634.87 302.72,630.68 302.72,622.30" fill="#482979" stroke="#482979" stroke-width="0.3"/>
<polygon points="328.75,618.11 337.43,622.30 337.43,630.68 328.75,634.87 320.07,630.68 320.07,622.30" fill="#481c6e" stroke="#481c6e" stroke-width="0.3"/>
<polygon points="346.10,618.11 354.78,622.30 354.78,630.68 346.10,634.87 337.43,630.68 337.43,622.30" fill="#440154" stroke="#440154" stroke-width="0.3"/>
<polygon points="363.45,618.11 372.13,622.30 372.13,630.68 363.45,634.87 354.78,630.68 354.78,622.30" fill="#440154" stroke="#440154" stroke-width="0.3"/>
<polygon points="268.03,605.54 276.70,609.73 276.70,618.11 268.03,622.30 259.35,618.11 259.35,609.73" fill="#440154" stroke="#440154" stroke-width="0.3"/>
<polygon points="285.38,605.54 294.05,609.73 294.05,618.11 285.38,622.30 276.70,618.11 276.70,609.73" fill="#440154" stroke="#440154" stroke-width="0.3"/>
<polygon points="302.73,605.54 311.40,609.73 311.40,618.11 302.73,622.30 294.05,618.11 294.05,609.73" fill="#440154" stroke="#440154" stroke-width="0.3"/>
<polygon points="337.43,605.54 346.10,609.73 346.10,618.11 337.43,622.30 328.75,618.11 328.75,609.73" fill="#440154" stroke="#440154" stroke-width="0.3"/>
<polygon points="354.78,605.54 363.45,609.73 363.45,618.11 354.78,622.30 346.10,618.11 346.10,609.73" fill="#440154" stroke="#440154" stroke-width="0.3"/>
<polygon points="311.40,592.97 320.07,597.16 320.07,605.54 311.40,609.73 302.72,605.54 302.72,597.16" fill="#440154" stroke="#440154" stroke-width="0.3"/>
<polygon points="328.75,592.97 337.43,597.16 337.43,605.54 328.75,609.73 320.07,605.54 320.07,597.16" fill="#440154" stroke="#440154" stroke-width="0.3"/>
<polygon points="302.73,580.40 311.40,584.59 311.40,592.97 302.73,597.16 294.05,592.97 294.05,584.59" fill="#440154" stroke="#440154" stroke-width="0.3"/>
<polygon points="320.07,580.40 328.75,584.59 328.75,592.97 320.07,597.16 311.40,592.97 311.40,584.59" fill="#470e61" stroke="#470e61" stroke-width="0.3"/>
<polygon points="337.43,580.40 346.10,584.59 346.10,592.97 337.43,597.16 328.75,592.97 328.75,584.59" fill="#440154" stroke="#440154" stroke-width="0.3"/>
<polygon points="311.40,567.83 320.07,572.02 320.07,580.40 311.40,584.59 302.72,580.40 302.72,572.02" fill="#470e61" stroke="#470e61" stroke-width="0.3"/>
<polygon points="320.07,555.26 328.75,559.45 328.75,567.83 320.07,572.02 311.40,567.83 311.40,559.45" fill="#440154" stroke="#440154" stroke-width="0.3"/>
<polygon points="337.43,555.26 346.10,559.45 346.10,567.83 337.43,572.02 328.75,567.83 328.75,559.45" fill="#470e61" stroke="#470e61" stroke-width="0.3"/>
<polygon points="346.10,542.69 354.78,546.88 354.78,555.26 346.10,559.45 337.43,555.26 337.43,546.88" fill="#440154" stroke="#440154" stroke-width="0.3"/>
<polygon points="328.75,517.55 337.43,521.74 337.43,530.12 328.75,534.31 320.07,530.12 320.07,521.74" fill="#440154" stroke="#440154" stroke-width="0.3"/>
<line x1="318.45" y1="470.9" x2="318.45" y2="870.3499999999999" stroke="#000" stroke-width="2.4"/>
<line x1="134.8" y1="685.15" x2="600.9" y2="685.15" stroke="#000" stroke-width="2.4"/>
<rect x="443.30" y="489.10" width="115.6" height="42.5" rx="6" ry="6" fill="#fff" stroke="#000" stroke-width="1.6"/>
<text x="500.60" y="522.95" font-size="35" text-anchor="middle" fill="#000">27.2%</text>
<rect x="134.8" y="470.9" width="466.10" height="399.45" fill="none" stroke="#333333" stroke-width="1.6"/>
<rect x="615.8" y="470.9" width="466.10" height="399.45" fill="#ffffff"/>
<line x1="700.80" y1="470.9" x2="700.80" y2="870.3499999999999" stroke="#ebebeb" stroke-width="1.3"/>
<line x1="803.30" y1="470.9" x2="803.30" y2="870.3499999999999" stroke="#ebebeb" stroke-width="1.3"/>
<line x1="921.80" y1="470.9" x2="921.80" y2="870.3499999999999" stroke="#ebebeb" stroke-width="1.3"/>
<line x1="1026.80" y1="470.9" x2="1026.80" y2="870.3499999999999" stroke="#ebebeb" stroke-width="1.3"/>
<line x1="1071.50" y1="470.9" x2="1071.50" y2="870.3499999999999" stroke="#ebebeb" stroke-width="1.3"/>
<line x1="615.8" y1="535.45" x2="1081.9" y2="535.45" stroke="#ebebeb" stroke-width="1.3"/>
<line x1="615.8" y1="659.45" x2="1081.9" y2="659.45" stroke="#ebebeb" stroke-width="1.3"/>
<line x1="615.8" y1="767.35" x2="1081.9" y2="767.35" stroke="#ebebeb" stroke-width="1.3"/>
<line x1="615.8" y1="861.55" x2="1081.9" y2="861.55" stroke="#ebebeb" stroke-width="1.3"/>
<line x1="655.30" y1="470.9" x2="655.30" y2="870.3499999999999" stroke="#ebebeb" stroke-width="2.3"/>
<line x1="745.00" y1="470.9" x2="745.00" y2="870.3499999999999" stroke="#ebebeb" stroke-width="2.3"/>
<line x1="861.50" y1="470.9" x2="861.50" y2="870.3499999999999" stroke="#ebebeb" stroke-width="2.3"/>
<line x1="982.00" y1="470.9" x2="982.00" y2="870.3499999999999" stroke="#ebebeb" stroke-width="2.3"/>
<line x1="615.8" y1="472.25" x2="1081.9" y2="472.25" stroke="#ebebeb" stroke-width="2.3"/>
<line x1="615.8" y1="598.45" x2="1081.9" y2="598.45" stroke="#ebebeb" stroke-width="2.3"/>
<line x1="615.8" y1="720.55" x2="1081.9" y2="720.55" stroke="#ebebeb" stroke-width="2.3"/>
<line x1="615.8" y1="814.45" x2="1081.9" y2="814.45" stroke="#ebebeb" stroke-width="2.3"/>
<polygon points="653.60,844.37 662.27,848.56 662.27,856.94 653.60,861.13 644.93,856.94 644.93,848.56" fill="#2f6b8e" stroke="#2f6b8e" stroke-width="0.3"/>
<polygon points="688.30,844.37 696.97,848.56 696.97,856.94 688.30,861.13 679.62,856.94 679.62,848.56" fill="#481c6e" stroke="#481c6e" stroke-width="0.3"/>
<polygon points="705.65,844.37 714.32,848.56 714.32,856.94 705.65,861.13 696.98,856.94 696.98,848.56" fill="#424186" stroke="#424186" stroke-width="0.3"/>
<polygon points="723.00,844.37 731.67,848.56 731.67,856.94 723.00,861.13 714.33,856.94 714.33,848.56" fill="#424186" stroke="#424186" stroke-width="0.3"/>
<polygon points="740.35,844.37 749.02,848.56 749.02,856.94 740.35,861.13 731.68,856.94 731.68,848.56" fill="#453581" stroke="#453581" stroke-width="0.3"/>
<polygon points="757.70,844.37 766.38,848.56 766.38,856.94 757.70,861.13 749.03,856.94 749.03,848.56" fill="#3d4d8a" stroke="#3d4d8a" stroke-width="0.3"/>
<polygon points="775.05,844.37 783.72,848.56 783.72,856.94 775.05,861.13 766.38,856.94 766.38,848.56" fill="#481c6e" stroke="#481c6e" stroke-width="0.3"/>
<polygon points="792.40,844.37 801.07,848.56 801.07,856.94 792.40,861.13 783.73,856.94 783.73,848.56" fill="#481c6e" stroke="#481c6e" stroke-width="0.3"/>
<polygon points="809.75,844.37 818.42,848.56 818.42,856.94 809.75,861.13 801.08,856.94 801.08,848.56" fill="#440154" stroke="#440154" stroke-width="0.3"/>
<polygon points="827.10,844.37 835.77,848.56 835.77,856.94 827.10,861.13 818.43,856.94 818.43,848.56" fill="#440154" stroke="#440154" stroke-width="0.3"/>
<polygon points="766.38,831.80 775.05,835.99 775.05,844.37 766.38,848.56 757.70,844.37 757.70,835.99" fill="#440154" stroke="#440154" stroke-width="0.3"/>
<polygon points="662.27,806.66 670.95,810.85 670.95,819.23 662.27,823.42 653.60,819.23 653.60,810.85" fill="#440154" stroke="#440154" stroke-width="0.3"/>
<polygon points="714.33,806.66 723.00,810.85 723.00,819.23 714.33,823.42 705.65,819.23 705.65,810.85" fill="#481c6e" stroke="#481c6e" stroke-width="0.3"/>
<polygon points="731.67,806.66 740.35,810.85 740.35,819.23 731.67,823.42 723.00,819.23 723.00,810.85" fill="#470e61" stroke="#470e61" stroke-width="0.3"/>
<polygon points="749.03,806.66 757.70,810.85 757.70,819.23 749.03,823.42 740.35,819.23 740.35,810.85" fill="#440154" stroke="#440154" stroke-width="0.3"/>
<polygon points="783.73,806.66 792.40,810.85 792.40,819.23 783.73,823.42 775.05,819.23 775.05,810.85" fill="#440154" stroke="#440154" stroke-width="0.3"/>
<polygon points="818.42,806.66 827.10,810.85 827.10,819.23 818.42,823.42 809.75,819.23 809.75,810.85" fill="#440154" stroke="#440154" stroke-width="0.3"/>
<polygon points="853.12,806.66 861.80,810.85 861.80,819.23 853.12,823.42 844.45,819.23 844.45,810.85" fill="#440154" stroke="#440154" stroke-width="0.3"/>
<polygon points="870.48,806.66 879.15,810.85 879.15,819.23 870.48,823.42 861.80,819.23 861.80,810.85" fill="#440154" stroke="#440154" stroke-width="0.3"/>
<polygon points="662.27,781.52 670.95,785.71 670.95,794.09 662.27,798.28 653.60,794.09 653.60,785.71" fill="#440154" stroke="#440154" stroke-width="0.3"/>
<polygon points="696.98,781.52 705.65,785.71 705.65,794.09 696.98,798.28 688.30,794.09 688.30,785.71" fill="#424186" stroke="#424186" stroke-width="0.3"/>
<polygon points="714.33,781.52 723.00,785.71 723.00,794.09 714.33,798.28 705.65,794.09 705.65,785.71" fill="#440154" stroke="#440154" stroke-width="0.3"/>
<polygon points="731.67,781.52 740.35,785.71 740.35,794.09 731.67,798.28 723.00,794.09 723.00,785.71" fill="#453581" stroke="#453581" stroke-width="0.3"/>
<polygon points="749.03,781.52 757.70,785.71 757.70,794.09 749.03,798.28 740.35,794.09 740.35,785.71" fill="#481c6e" stroke="#481c6e" stroke-width="0.3"/>
<polygon points="766.38,781.52 775.05,785.71 775.05,794.09 766.38,798.28 757.70,794.09 757.70,785.71" fill="#481c6e" stroke="#481c6e" stroke-width="0.3"/>
<polygon points="783.73,781.52 792.40,785.71 792.40,794.09 783.73,798.28 775.05,794.09 775.05,785.71" fill="#470e61" stroke="#470e61" stroke-width="0.3"/>
<polygon points="818.42,781.52 827.10,785.71 827.10,794.09 818.42,798.28 809.75,794.09 809.75,785.71" fill="#470e61" stroke="#470e61" stroke-width="0.3"/>
<polygon points="835.78,781.52 844.45,785.71 844.45,794.09 835.78,798.28 827.10,794.09 827.10,785.71" fill="#470e61" stroke="#470e61" stroke-width="0.3"/>
<polygon points="853.12,781.52 861.80,785.71 861.80,794.09 853.12,798.28 844.45,794.09 844.45,785.71" fill="#440154" stroke="#440154" stroke-width="0.3"/>
<polygon points="922.53,781.52 931.20,785.71 931.20,794.09 922.53,798.28 913.85,794.09 913.85,785.71" fill="#440154" stroke="#440154" stroke-width="0.3"/>
<polygon points="636.25,768.95 644.92,773.14 644.92,781.52 636.25,785.71 627.58,781.52 627.58,773.14" fill="#440154" stroke="#440154" stroke-width="0.3"/>
<polygon points="653.60,768.95 662.27,773.14 662.27,781.52 653.60,785.71 644.93,781.52 644.93,773.14" fill="#482979" stroke="#482979" stroke-width="0.3"/>
<polygon points="688.30,768.95 696.97,773.14 696.97,781.52 688.30,785.71 679.62,781.52 679.62,773.14" fill="#481c6e" stroke="#481c6e" stroke-width="0.3"/>
<polygon points="705.65,768.95 714.32,773.14 714.32,781.52 705.65,785.71 696.98,781.52 696.98,773.14" fill="#482979" stroke="#482979" stroke-width="0.3"/>
<polygon points="723.00,768.95 731.67,773.14 731.67,781.52 723.00,785.71 714.33,781.52 714.33,773.14" fill="#440154" stroke="#440154" stroke-width="0.3"/>
<polygon points="740.35,768.95 749.02,773.14 749.02,781.52 740.35,785.71 731.68,781.52 731.68,773.14" fill="#3d4d8a" stroke="#3d4d8a" stroke-width="0.3"/>
<polygon points="757.70,768.95 766.38,773.14 766.38,781.52 757.70,785.71 749.03,781.52 749.03,773.14" fill="#3d4d8a" stroke="#3d4d8a" stroke-width="0.3"/>
<polygon points="775.05,768.95 783.72,773.14 783.72,781.52 775.05,785.71 766.38,781.52 766.38,773.14" fill="#482979" stroke="#482979" stroke-width="0.3"/>
<polygon points="792.40,768.95 801.07,773.14 801.07,781.52 792.40,785.71 783.73,781.52 783.73,773.14" fill="#482979" stroke="#482979" stroke-width="0.3"/>
<polygon points="809.75,768.95 818.42,773.14 818.42,781.52 809.75,785.71 801.08,781.52 801.08,773.14" fill="#482979" stroke="#482979" stroke-width="0.3"/>
<polygon points="844.45,768.95 853.12,773.14 853.12,781.52 844.45,785.71 835.78,781.52 835.78,773.14" fill="#440154" stroke="#440154" stroke-width="0.3"/>
<polygon points="879.15,768.95 887.82,773.14 887.82,781.52 879.15,785.71 870.48,781.52 870.48,773.14" fill="#440154" stroke="#440154" stroke-width="0.3"/>
<polygon points="662.27,756.38 670.95,760.57 670.95,768.95 662.27,773.14 653.60,768.95 653.60,760.57" fill="#481c6e" stroke="#481c6e" stroke-width="0.3"/>
<polygon points="679.62,756.38 688.30,760.57 688.30,768.95 679.62,773.14 670.95,768.95 670.95,760.57" fill="#440154" stroke="#440154" stroke-width="0.3"/>
<polygon points="696.98,756.38 705.65,760.57 705.65,768.95 696.98,773.14 688.30,768.95 688.30,760.57" fill="#453581" stroke="#453581" stroke-width="0.3"/>
<polygon points="714.33,756.38 723.00,760.57 723.00,768.95 714.33,773.14 705.65,768.95 705.65,760.57" fill="#482979" stroke="#482979" stroke-width="0.3"/>
<polygon points="731.67,756.38 740.35,760.57 740.35,768.95 731.67,773.14 723.00,768.95 723.00,760.57" fill="#2f6b8e" stroke="#2f6b8e" stroke-width="0.3"/>
<polygon points="749.03,756.38 757.70,760.57 757.70,768.95 749.03,773.14 740.35,768.95 740.35,760.57" fill="#453581" stroke="#453581" stroke-width="0.3"/>
<polygon points="766.38,756.38 775.05,760.57 775.05,768.95 766.38,773.14 757.70,768.95 757.70,760.57" fill="#482979" stroke="#482979" stroke-width="0.3"/>
<polygon points="783.73,756.38 792.40,760.57 792.40,768.95 783.73,773.14 775.05,768.95 775.05,760.57" fill="#424186" stroke="#424186" stroke-width="0.3"/>
<polygon points="801.08,756.38 809.75,760.57 809.75,768.95 801.08,773.14 792.40,768.95 792.40,760.57" fill="#470e61" stroke="#470e61" stroke-width="0.3"/>
<polygon points="818.42,756.38 827.10,760.57 827.10,768.95 818.42,773.14 809.75,768.95 809.75,760.57" fill="#440154" stroke="#440154" stroke-width="0.3"/>
<polygon points="835.78,756.38 844.45,760.57 844.45,768.95 835.78,773.14 827.10,768.95 827.10,760.57" fill="#482979" stroke="#482979" stroke-width="0.3"/>
<polygon points="853.12,756.38 861.80,760.57 861.80,768.95 853.12,773.14 844.45,768.95 844.45,760.57" fill="#440154" stroke="#440154" stroke-width="0.3"/>
<polygon points="887.83,756.38 896.50,760.57 896.50,768.95 887.83,773.14 879.15,768.95 879.15,760.57" fill="#440154" stroke="#440154" stroke-width="0.3"/>
<polygon points="939.88,756.38 948.55,760.57 948.55,768.95 939.88,773.14 931.20,768.95 931.20,760.57" fill="#440154" stroke="#440154" stroke-width="0.3"/>
<polygon points="653.60,743.81 662.27,748.00 662.27,756.38 653.60,760.57 644.93,756.38 644.93,748.00" fill="#481c6e" stroke="#481c6e" stroke-width="0.3"/>
<polygon points="688.30,743.81 696.97,748.00 696.97,756.38 688.30,760.57 679.62,756.38 679.62,748.00" fill="#2f6b8e" stroke="#2f6b8e" stroke-width="0.3"/>
<polygon points="705.65,743.81 714.32,748.00 714.32,756.38 705.65,760.57 696.98,756.38 696.98,748.00" fill="#40bd72" stroke="#40bd72" stroke-width="0.3"/>
<polygon points="723.00,743.81 731.67,748.00 731.67,756.38 723.00,760.57 714.33,756.38 714.33,748.00" fill="#40bd72" stroke="#40bd72" stroke-width="0.3"/>
<polygon points="740.35,743.81 749.02,748.00 749.02,756.38 740.35,760.57 731.68,756.38 731.68,748.00" fill="#1f998a" stroke="#1f998a" stroke-width="0.3"/>
<polygon points="757.70,743.81 766.38,748.00 766.38,756.38 757.70,760.57 749.03,756.38 749.03,748.00" fill="#31b57b" stroke="#31b57b" stroke-width="0.3"/>
<polygon points="775.05,743.81 783.72,748.00 783.72,756.38 775.05,760.57 766.38,756.38 766.38,748.00" fill="#34618d" stroke="#34618d" stroke-width="0.3"/>
<polygon points="792.40,743.81 801.07,748.00 801.07,756.38 792.40,760.57 783.73,756.38 783.73,748.00" fill="#34618d" stroke="#34618d" stroke-width="0.3"/>
<polygon points="809.75,743.81 818.42,748.00 818.42,756.38 809.75,760.57 801.08,756.38 801.08,748.00" fill="#424186" stroke="#424186" stroke-width="0.3"/>
<polygon points="827.10,743.81 835.77,748.00 835.77,756.38 827.10,760.57 818.43,756.38 818.43,748.00" fill="#424186" stroke="#424186" stroke-width="0.3"/>
<polygon points="844.45,743.81 853.12,748.00 853.12,756.38 844.45,760.57 835.78,756.38 835.78,748.00" fill="#481c6e" stroke="#481c6e" stroke-width="0.3"/>
<polygon points="861.80,743.81 870.47,748.00 870.47,756.38 861.80,760.57 853.12,756.38 853.12,748.00" fill="#482979" stroke="#482979" stroke-width="0.3"/>
<polygon points="879.15,743.81 887.82,748.00 887.82,756.38 879.15,760.57 870.48,756.38 870.48,748.00" fill="#482979" stroke="#482979" stroke-width="0.3"/>
<polygon points="896.50,743.81 905.17,748.00 905.17,756.38 896.50,760.57 887.83,756.38 887.83,748.00" fill="#440154" stroke="#440154" stroke-width="0.3"/>
<polygon points="931.20,743.81 939.88,748.00 939.88,756.38 931.20,760.57 922.53,756.38 922.53,748.00" fill="#440154" stroke="#440154" stroke-width="0.3"/>
<polygon points="662.27,731.24 670.95,735.43 670.95,743.81 662.27,748.00 653.60,743.81 653.60,735.43" fill="#3d4d8a" stroke="#3d4d8a" stroke-width="0.3"/>
<polygon points="696.98,731.24 705.65,735.43 705.65,743.81 696.98,748.00 688.30,743.81 688.30,735.43" fill="#481c6e" stroke="#481c6e" stroke-width="0.3"/>
<polygon points="714.33,731.24 723.00,735.43 723.00,743.81 714.33,748.00 705.65,743.81 705.65,735.43" fill="#3d4d8a" stroke="#3d4d8a" stroke-width="0.3"/>
<polygon points="731.67,731.24 740.35,735.43 740.35,743.81 731.67,748.00 723.00,743.81 723.00,735.43" fill="#2f6b8e" stroke="#2f6b8e" stroke-width="0.3"/>
<polygon points="749.03,731.24 757.70,735.43 757.70,743.81 749.03,748.00 740.35,743.81 740.35,735.43" fill="#2b748e" stroke="#2b748e" stroke-width="0.3"/>
<polygon points="766.38,731.24 775.05,735.43 775.05,743.81 766.38,748.00 757.70,743.81 757.70,735.43" fill="#21918c" stroke="#21918c" stroke-width="0.3"/>
<polygon points="783.73,731.24 792.40,735.43 792.40,743.81 783.73,748.00 775.05,743.81 775.05,735.43" fill="#424186" stroke="#424186" stroke-width="0.3"/>
<polygon points="801.08,731.24 809.75,735.43 809.75,743.81 801.08,748.00 792.40,743.81 792.40,735.43" fill="#3d4d8a" stroke="#3d4d8a" stroke-width="0.3"/>
<polygon points="818.42,731.24 827.10,735.43 827.10,743.81 818.42,748.00 809.75,743.81 809.75,735.43" fill="#34618d" stroke="#34618d" stroke-width="0.3"/>
<polygon points="835.78,731.24 844.45,735.43 844.45,743.81 835.78,748.00 827.10,743.81 827.10,735.43" fill="#39568c" stroke="#39568c" stroke-width="0.3"/>
<polygon points="853.12,731.24 861.80,735.43 861.80,743.81 853.12,748.00 844.45,743.81 844.45,735.43" fill="#440154" stroke="#440154" stroke-width="0.3"/>
<polygon points="870.48,731.24 879.15,735.43 879.15,743.81 870.48,748.00 861.80,743.81 861.80,735.43" fill="#470e61" stroke="#470e61" stroke-width="0.3"/>
<polygon points="905.17,731.24 913.85,735.43 913.85,743.81 905.17,748.00 896.50,743.81 896.50,735.43" fill="#470e61" stroke="#470e61" stroke-width="0.3"/>
<polygon points="939.88,731.24 948.55,735.43 948.55,743.81 939.88,748.00 931.20,743.81 931.20,735.43" fill="#440154" stroke="#440154" stroke-width="0.3"/>
<polygon points="636.25,718.67 644.92,722.86 644.92,731.24 636.25,735.43 627.58,731.24 627.58,722.86" fill="#440154" stroke="#440154" stroke-width="0.3"/>
<polygon points="653.60,718.67 662.27,722.86 662.27,731.24 653.60,735.43 644.93,731.24 644.93,722.86" fill="#453581" stroke="#453581" stroke-width="0.3"/>
<polygon points="688.30,718.67 696.97,722.86 696.97,731.24 688.30,735.43 679.62,731.24 679.62,722.86" fill="#482979" stroke="#482979" stroke-width="0.3"/>
<polygon points="705.65,718.67 714.32,722.86 714.32,731.24 705.65,735.43 696.98,731.24 696.98,722.86" fill="#39568c" stroke="#39568c" stroke-width="0.3"/>
<polygon points="723.00,718.67 731.67,722.86 731.67,731.24 723.00,735.43 714.33,731.24 714.33,722.86" fill="#2f6b8e" stroke="#2f6b8e" stroke-width="0.3"/>
<polygon points="740.35,718.67 749.02,722.86 749.02,731.24 740.35,735.43 731.68,731.24 731.68,722.86" fill="#fde725" stroke="#fde725" stroke-width="0.3"/>
<polygon points="757.70,718.67 766.38,722.86 766.38,731.24 757.70,735.43 749.03,731.24 749.03,722.86" fill="#cde11d" stroke="#cde11d" stroke-width="0.3"/>
<polygon points="775.05,718.67 783.72,722.86 783.72,731.24 775.05,735.43 766.38,731.24 766.38,722.86" fill="#2f6b8e" stroke="#2f6b8e" stroke-width="0.3"/>
<polygon points="792.40,718.67 801.07,722.86 801.07,731.24 792.40,735.43 783.73,731.24 783.73,722.86" fill="#34618d" stroke="#34618d" stroke-width="0.3"/>
<polygon points="809.75,718.67 818.42,722.86 818.42,731.24 809.75,735.43 801.08,731.24 801.08,722.86" fill="#424186" stroke="#424186" stroke-width="0.3"/>
<polygon points="827.10,718.67 835.77,722.86 835.77,731.24 827.10,735.43 818.43,731.24 818.43,722.86" fill="#1fa287" stroke="#1fa287" stroke-width="0.3"/>
<polygon points="844.45,718.67 853.12,722.86 853.12,731.24 844.45,735.43 835.78,731.24 835.78,722.86" fill="#34618d" stroke="#34618d" stroke-width="0.3"/>
<polygon points="861.80,718.67 870.47,722.86 870.47,731.24 861.80,735.43 853.12,731.24 853.12,722.86" fill="#424186" stroke="#424186" stroke-width="0.3"/>
<polygon points="879.15,718.67 887.82,722.86 887.82,731.24 879.15,735.43 870.48,731.24 870.48,722.86" fill="#453581" stroke="#453581" stroke-width="0.3"/>
<polygon points="896.50,718.67 905.17,722.86 905.17,731.24 896.50,735.43 887.83,731.24 887.83,722.86" fill="#470e61" stroke="#470e61" stroke-width="0.3"/>
<polygon points="913.85,718.67 922.52,722.86 922.52,731.24 913.85,735.43 905.18,731.24 905.18,722.86" fill="#470e61" stroke="#470e61" stroke-width="0.3"/>
<polygon points="965.90,718.67 974.57,722.86 974.57,731.24 965.90,735.43 957.23,731.24 957.23,722.86" fill="#470e61" stroke="#470e61" stroke-width="0.3"/>
<polygon points="662.27,706.10 670.95,710.29 670.95,718.67 662.27,722.86 653.60,718.67 653.60,710.29" fill="#481c6e" stroke="#481c6e" stroke-width="0.3"/>
<polygon points="696.98,706.10 705.65,710.29 705.65,718.67 696.98,722.86 688.30,718.67 688.30,710.29" fill="#440154" stroke="#440154" stroke-width="0.3"/>
<polygon points="714.33,706.10 723.00,710.29 723.00,718.67 714.33,722.86 705.65,718.67 705.65,710.29" fill="#24878e" stroke="#24878e" stroke-width="0.3"/>
<polygon points="731.67,706.10 740.35,710.29 740.35,718.67 731.67,722.86 723.00,718.67 723.00,710.29" fill="#1fa287" stroke="#1fa287" stroke-width="0.3"/>
<polygon points="749.03,706.10 757.70,710.29 757.70,718.67 749.03,722.86 740.35,718.67 740.35,710.29" fill="#7fd34e" stroke="#7fd34e" stroke-width="0.3"/>
<polygon points="766.38,706.10 775.05,710.29 775.05,718.67 766.38,722.86 757.70,718.67 757.70,710.29" fill="#31b57b" stroke="#31b57b" stroke-width="0.3"/>
<polygon points="783.73,706.10 792.40,710.29 792.40,718.67 783.73,722.86 775.05,718.67 775.05,710.29" fill="#cde11d" stroke="#cde11d" stroke-width="0.3"/>
<polygon points="801.08,706.10 809.75,710.29 809.75,718.67 801.08,722.86 792.40,718.67 792.40,710.29" fill="#2b748e" stroke="#2b748e" stroke-width="0.3"/>
<polygon points="818.42,706.10 827.10,710.29 827.10,718.67 818.42,722.86 809.75,718.67 809.75,710.29" fill="#2b748e" stroke="#2b748e" stroke-width="0.3"/>
<polygon points="835.78,706.10 844.45,710.29 844.45,718.67 835.78,722.86 827.10,718.67 827.10,710.29" fill="#2b748e" stroke="#2b748e" stroke-width="0.3"/>
<polygon points="853.12,706.10 861.80,710.29 861.80,718.67 853.12,722.86 844.45,718.67 844.45,710.29" fill="#34618d" stroke="#34618d" stroke-width="0.3"/>
<polygon points="870.48,706.10 879.15,710.29 879.15,718.67 870.48,722.86 861.80,718.67 861.80,710.29" fill="#277e8e" stroke="#277e8e" stroke-width="0.3"/>
<polygon points="887.83,706.10 896.50,710.29 896.50,718.67 887.83,722.86 879.15,718.67 879.15,710.29" fill="#3d4d8a" stroke="#3d4d8a" stroke-width="0.3"/>
<polygon points="905.17,706.10 913.85,710.29 913.85,718.67 905.17,722.86 896.50,718.67 896.50,710.29" fill="#39568c" stroke="#39568c" stroke-width="0.3"/>
<polygon points="922.53,706.10 931.20,710.29 931.20,718.67 922.53,722.86 913.85,718.67 913.85,710.29" fill="#481c6e" stroke="#481c6e" stroke-width="0.3"/>
<polygon points="939.88,706.10 948.55,710.29 948.55,718.67 939.88,722.86 931.20,718.67 931.20,710.29" fill="#481c6e" stroke="#481c6e" stroke-width="0.3"/>
<polygon points="653.60,693.53 662.27,697.72 662.27,706.10 653.60,710.29 644.93,706.10 644.93,697.72" fill="#470e61" stroke="#470e61" stroke-width="0.3"/>
<polygon points="688.30,693.53 696.97,697.72 696.97,706.10 688.30,710.29 679.62,706.10 679.62,697.72" fill="#481c6e" stroke="#481c6e" stroke-width="0.3"/>
<polygon points="705.65,693.53 714.32,697.72 714.32,706.10 705.65,710.29 696.98,706.10 696.98,697.72" fill="#453581" stroke="#453581" stroke-width="0.3"/>
<polygon points="723.00,693.53 731.67,697.72 731.67,706.10 723.00,710.29 714.33,706.10 714.33,697.72" fill="#481c6e" stroke="#481c6e" stroke-width="0.3"/>
<polygon points="740.35,693.53 749.02,697.72 749.02,706.10 740.35,710.29 731.68,706.10 731.68,697.72" fill="#1fa287" stroke="#1fa287" stroke-width="0.3"/>
<polygon points="757.70,693.53 766.38,697.72 766.38,706.10 757.70,710.29 749.03,706.10 749.03,697.72" fill="#453581" stroke="#453581" stroke-width="0.3"/>
<polygon points="775.05,693.53 783.72,697.72 783.72,706.10 775.05,710.29 766.38,706.10 766.38,697.72" fill="#40bd72" stroke="#40bd72" stroke-width="0.3"/>
<polygon points="792.40,693.53 801.07,697.72 801.07,706.10 792.40,710.29 783.73,706.10 783.73,697.72" fill="#1f998a" stroke="#1f998a" stroke-width="0.3"/>
<polygon points="809.75,693.53 818.42,697.72 818.42,706.10 809.75,710.29 801.08,706.10 801.08,697.72" fill="#2b748e" stroke="#2b748e" stroke-width="0.3"/>
<polygon points="827.10,693.53 835.77,697.72 835.77,706.10 827.10,710.29 818.43,706.10 818.43,697.72" fill="#40bd72" stroke="#40bd72" stroke-width="0.3"/>
<polygon points="844.45,693.53 853.12,697.72 853.12,706.10 844.45,710.29 835.78,706.10 835.78,697.72" fill="#31b57b" stroke="#31b57b" stroke-width="0.3"/>
<polygon points="861.80,693.53 870.47,697.72 870.47,706.10 861.80,710.29 853.12,706.10 853.12,697.72" fill="#2b748e" stroke="#2b748e" stroke-width="0.3"/>
<polygon points="879.15,693.53 887.82,697.72 887.82,706.10 879.15,710.29 870.48,706.10 870.48,697.72" fill="#277e8e" stroke="#277e8e" stroke-width="0.3"/>
<polygon points="896.50,693.53 905.17,697.72 905.17,706.10 896.50,710.29 887.83,706.10 887.83,697.72" fill="#277e8e" stroke="#277e8e" stroke-width="0.3"/>
<polygon points="913.85,693.53 922.52,697.72 922.52,706.10 913.85,710.29 905.18,706.10 905.18,697.72" fill="#277e8e" stroke="#277e8e" stroke-width="0.3"/>
<polygon points="931.20,693.53 939.88,697.72 939.88,706.10 931.20,710.29 922.53,706.10 922.53,697.72" fill="#482979" stroke="#482979" stroke-width="0.3"/>
<polygon points="948.55,693.53 957.23,697.72 957.23,706.10 948.55,710.29 939.88,706.10 939.88,697.72" fill="#470e61" stroke="#470e61" stroke-width="0.3"/>
<polygon points="1000.60,693.53 1009.27,697.72 1009.27,706.10 1000.60,710.29 991.93,706.10 991.93,697.72" fill="#440154" stroke="#440154" stroke-width="0.3"/>
<polygon points="714.33,680.96 723.00,685.15 723.00,693.53 714.33,697.72 705.65,693.53 705.65,685.15" fill="#453581" stroke="#453581" stroke-width="0.3"/>
<polygon points="731.67,680.96 740.35,685.15 740.35,693.53 731.67,697.72 723.00,693.53 723.00,685.15" fill="#3d4d8a" stroke="#3d4d8a" stroke-width="0.3"/>
<polygon points="749.03,680.96 757.70,685.15 757.70,693.53 749.03,697.72 740.35,693.53 740.35,685.15" fill="#40bd72" stroke="#40bd72" stroke-width="0.3"/>
<polygon points="766.38,680.96 775.05,685.15 775.05,693.53 766.38,697.72 757.70,693.53 757.70,685.15" fill="#54c568" stroke="#54c568" stroke-width="0.3"/>
<polygon points="783.73,680.96 792.40,685.15 792.40,693.53 783.73,697.72 775.05,693.53 775.05,685.15" fill="#34618d" stroke="#34618d" stroke-width="0.3"/>
<polygon points="801.08,680.96 809.75,685.15 809.75,693.53 801.08,697.72 792.40,693.53 792.40,685.15" fill="#1fa287" stroke="#1fa287" stroke-width="0.3"/>
<polygon points="818.42,680.96 827.10,685.15 827.10,693.53 818.42,697.72 809.75,693.53 809.75,685.15" fill="#31b57b" stroke="#31b57b" stroke-width="0.3"/>
<polygon points="835.78,680.96 844.45,685.15 844.45,693.53 835.78,697.72 827.10,693.53 827.10,685.15" fill="#34618d" stroke="#34618d" stroke-width="0.3"/>
<polygon points="853.12,680.96 861.80,685.15 861.80,693.53 853.12,697.72 844.45,693.53 844.45,685.15" fill="#98d83e" stroke="#98d83e" stroke-width="0.3"/>
<polygon points="870.48,680.96 879.15,685.15 879.15,693.53 870.48,697.72 861.80,693.53 861.80,685.15" fill="#1f998a" stroke="#1f998a" stroke-width="0.3"/>
<polygon points="887.83,680.96 896.50,685.15 896.50,693.53 887.83,697.72 879.15,693.53 879.15,685.15" fill="#67cc5c" stroke="#67cc5c" stroke-width="0.3"/>
<polygon points="905.17,680.96 913.85,685.15 913.85,693.53 905.17,697.72 896.50,693.53 896.50,685.15" fill="#40bd72" stroke="#40bd72" stroke-width="0.3"/>
<polygon points="922.53,680.96 931.20,685.15 931.20,693.53 922.53,697.72 913.85,693.53 913.85,685.15" fill="#2f6b8e" stroke="#2f6b8e" stroke-width="0.3"/>
<polygon points="939.88,680.96 948.55,685.15 948.55,693.53 939.88,697.72 931.20,693.53 931.20,685.15" fill="#482979" stroke="#482979" stroke-width="0.3"/>
<polygon points="957.23,680.96 965.90,685.15 965.90,693.53 957.23,697.72 948.55,693.53 948.55,685.15" fill="#453581" stroke="#453581" stroke-width="0.3"/>
<polygon points="974.58,680.96 983.25,685.15 983.25,693.53 974.58,697.72 965.90,693.53 965.90,685.15" fill="#481c6e" stroke="#481c6e" stroke-width="0.3"/>
<polygon points="991.92,680.96 1000.60,685.15 1000.60,693.53 991.92,697.72 983.25,693.53 983.25,685.15" fill="#440154" stroke="#440154" stroke-width="0.3"/>
<polygon points="1009.27,680.96 1017.95,685.15 1017.95,693.53 1009.27,697.72 1000.60,693.53 1000.60,685.15" fill="#470e61" stroke="#470e61" stroke-width="0.3"/>
<polygon points="740.35,668.39 749.02,672.58 749.02,680.96 740.35,685.15 731.68,680.96 731.68,672.58" fill="#453581" stroke="#453581" stroke-width="0.3"/>
<polygon points="775.05,668.39 783.72,672.58 783.72,680.96 775.05,685.15 766.38,680.96 766.38,672.58" fill="#440154" stroke="#440154" stroke-width="0.3"/>
<polygon points="792.40,668.39 801.07,672.58 801.07,680.96 792.40,685.15 783.73,680.96 783.73,672.58" fill="#481c6e" stroke="#481c6e" stroke-width="0.3"/>
<polygon points="809.75,668.39 818.42,672.58 818.42,680.96 809.75,685.15 801.08,680.96 801.08,672.58" fill="#25ac82" stroke="#25ac82" stroke-width="0.3"/>
<polygon points="827.10,668.39 835.77,672.58 835.77,680.96 827.10,685.15 818.43,680.96 818.43,672.58" fill="#277e8e" stroke="#277e8e" stroke-width="0.3"/>
<polygon points="844.45,668.39 853.12,672.58 853.12,680.96 844.45,685.15 835.78,680.96 835.78,672.58" fill="#1f998a" stroke="#1f998a" stroke-width="0.3"/>
<polygon points="861.80,668.39 870.47,672.58 870.47,680.96 861.80,685.15 853.12,680.96 853.12,672.58" fill="#277e8e" stroke="#277e8e" stroke-width="0.3"/>
<polygon points="879.15,668.39 887.82,672.58 887.82,680.96 879.15,685.15 870.48,680.96 870.48,672.58" fill="#24878e" stroke="#24878e" stroke-width="0.3"/>
<polygon points="896.50,668.39 905.17,672.58 905.17,680.96 896.50,685.15 887.83,680.96 887.83,672.58" fill="#24878e" stroke="#24878e" stroke-width="0.3"/>
<polygon points="913.85,668.39 922.52,672.58 922.52,680.96 913.85,685.15 905.18,680.96 905.18,672.58" fill="#3d4d8a" stroke="#3d4d8a" stroke-width="0.3"/>
<polygon points="931.20,668.39 939.88,672.58 939.88,680.96 931.20,685.15 922.53,680.96 922.53,672.58" fill="#3d4d8a" stroke="#3d4d8a" stroke-width="0.3"/>
<polygon points="948.55,668.39 957.23,672.58 957.23,680.96 948.55,685.15 939.88,680.96 939.88,672.58" fill="#424186" stroke="#424186" stroke-width="0.3"/>
<polygon points="965.90,668.39 974.57,672.58 974.57,680.96 965.90,685.15 957.23,680.96 957.23,672.58" fill="#481c6e" stroke="#481c6e" stroke-width="0.3"/>
<polygon points="1000.60,668.39 1009.27,672.58 1009.27,680.96 1000.60,685.15 991.93,680.96 991.93,672.58" fill="#440154" stroke="#440154" stroke-width="0.3"/>
<polygon points="757.70,668.39 766.38,672.58 766.38,680.96 757.70,685.15 749.03,680.96 749.03,672.58" fill="#440154" stroke="#440154" stroke-width="0.3"/>
<polygon points="731.67,655.82 740.35,660.01 740.35,668.39 731.67,672.58 723.00,668.39 723.00,660.01" fill="#481c6e" stroke="#481c6e" stroke-width="0.3"/>
<polygon points="766.38,655.82 775.05,660.01 775.05,668.39 766.38,672.58 757.70,668.39 757.70,660.01" fill="#440154" stroke="#440154" stroke-width="0.3"/>
<polygon points="783.73,655.82 792.40,660.01 792.40,668.39 783.73,672.58 775.05,668.39 775.05,660.01" fill="#453581" stroke="#453581" stroke-width="0.3"/>
<polygon points="801.08,655.82 809.75,660.01 809.75,668.39 801.08,672.58 792.40,668.39 792.40,660.01" fill="#3d4d8a" stroke="#3d4d8a" stroke-width="0.3"/>
<polygon points="818.42,655.82 827.10,660.01 827.10,668.39 818.42,672.58 809.75,668.39 809.75,660.01" fill="#424186" stroke="#424186" stroke-width="0.3"/>
<polygon points="835.78,655.82 844.45,660.01 844.45,668.39 835.78,672.58 827.10,668.39 827.10,660.01" fill="#2b748e" stroke="#2b748e" stroke-width="0.3"/>
<polygon points="853.12,655.82 861.80,660.01 861.80,668.39 853.12,672.58 844.45,668.39 844.45,660.01" fill="#2f6b8e" stroke="#2f6b8e" stroke-width="0.3"/>
<polygon points="870.48,655.82 879.15,660.01 879.15,668.39 870.48,672.58 861.80,668.39 861.80,660.01" fill="#424186" stroke="#424186" stroke-width="0.3"/>
<polygon points="887.83,655.82 896.50,660.01 896.50,668.39 887.83,672.58 879.15,668.39 879.15,660.01" fill="#2b748e" stroke="#2b748e" stroke-width="0.3"/>
<polygon points="905.17,655.82 913.85,660.01 913.85,668.39 905.17,672.58 896.50,668.39 896.50,660.01" fill="#21918c" stroke="#21918c" stroke-width="0.3"/>
<polygon points="922.53,655.82 931.20,660.01 931.20,668.39 922.53,672.58 913.85,668.39 913.85,660.01" fill="#2f6b8e" stroke="#2f6b8e" stroke-width="0.3"/>
<polygon points="939.88,655.82 948.55,660.01 948.55,668.39 939.88,672.58 931.20,668.39 931.20,660.01" fill="#21918c" stroke="#21918c" stroke-width="0.3"/>
<polygon points="957.23,655.82 965.90,660.01 965.90,668.39 957.23,672.58 948.55,668.39 948.55,660.01" fill="#34618d" stroke="#34618d" stroke-width="0.3"/>
<polygon points="974.58,655.82 983.25,660.01 983.25,668.39 974.58,672.58 965.90,668.39 965.90,660.01" fill="#453581" stroke="#453581" stroke-width="0.3"/>
<polygon points="991.92,655.82 1000.60,660.01 1000.60,668.39 991.92,672.58 983.25,668.39 983.25,660.01" fill="#440154" stroke="#440154" stroke-width="0.3"/>
<polygon points="1009.27,655.82 1017.95,660.01 1017.95,668.39 1009.27,672.58 1000.60,668.39 1000.60,660.01" fill="#440154" stroke="#440154" stroke-width="0.3"/>
<polygon points="1026.62,655.82 1035.30,660.01 1035.30,668.39 1026.62,672.58 1017.95,668.39 1017.95,660.01" fill="#440154" stroke="#440154" stroke-width="0.3"/>
<polygon points="1043.97,655.82 1052.65,660.01 1052.65,668.39 1043.97,672.58 1035.30,668.39 1035.30,660.01" fill="#440154" stroke="#440154" stroke-width="0.3"/>
<polygon points="1061.32,655.82 1070.00,660.01 1070.00,668.39 1061.32,672.58 1052.65,668.39 1052.65,660.01" fill="#440154" stroke="#440154" stroke-width="0.3"/>
<polygon points="740.35,643.25 749.02,647.44 749.02,655.82 740.35,660.01 731.68,655.82 731.68,647.44" fill="#440154" stroke="#440154" stroke-width="0.3"/>
<polygon points="809.75,643.25 818.42,647.44 818.42,655.82 809.75,660.01 801.08,655.82 801.08,647.44" fill="#39568c" stroke="#39568c" stroke-width="0.3"/>
<polygon points="827.10,643.25 835.77,647.44 835.77,655.82 827.10,660.01 818.43,655.82 818.43,647.44" fill="#481c6e" stroke="#481c6e" stroke-width="0.3"/>
<polygon points="844.45,643.25 853.12,647.44 853.12,655.82 844.45,660.01 835.78,655.82 835.78,647.44" fill="#34618d" stroke="#34618d" stroke-width="0.3"/>
<polygon points="861.80,643.25 870.47,647.44 870.47,655.82 861.80,660.01 853.12,655.82 853.12,647.44" fill="#424186" stroke="#424186" stroke-width="0.3"/>
<polygon points="879.15,643.25 887.82,647.44 887.82,655.82 879.15,660.01 870.48,655.82 870.48,647.44" fill="#482979" stroke="#482979" stroke-width="0.3"/>
<polygon points="896.50,643.25 905.17,647.44 905.17,655.82 896.50,660.01 887.83,655.82 887.83,647.44" fill="#3d4d8a" stroke="#3d4d8a" stroke-width="0.3"/>
<polygon points="913.85,643.25 922.52,647.44 922.52,655.82 913.85,660.01 905.18,655.82 905.18,647.44" fill="#34618d" stroke="#34618d" stroke-width="0.3"/>
<polygon points="931.20,643.25 939.88,647.44 939.88,655.82 931.20,660.01 922.53,655.82 922.53,647.44" fill="#424186" stroke="#424186" stroke-width="0.3"/>
<polygon points="948.55,643.25 957.23,647.44 957.23,655.82 948.55,660.01 939.88,655.82 939.88,647.44" fill="#2b748e" stroke="#2b748e" stroke-width="0.3"/>
<polygon points="965.90,643.25 974.57,647.44 974.57,655.82 965.90,660.01 957.23,655.82 957.23,647.44" fill="#453581" stroke="#453581" stroke-width="0.3"/>
<polygon points="983.25,643.25 991.92,647.44 991.92,655.82 983.25,660.01 974.58,655.82 974.58,647.44" fill="#470e61" stroke="#470e61" stroke-width="0.3"/>
<polygon points="1000.60,643.25 1009.27,647.44 1009.27,655.82 1000.60,660.01 991.93,655.82 991.93,647.44" fill="#440154" stroke="#440154" stroke-width="0.3"/>
<polygon points="1017.95,643.25 1026.62,647.44 1026.62,655.82 1017.95,660.01 1009.28,655.82 1009.28,647.44" fill="#440154" stroke="#440154" stroke-width="0.3"/>
<polygon points="1035.30,643.25 1043.98,647.44 1043.98,655.82 1035.30,660.01 1026.63,655.82 1026.63,647.44" fill="#440154" stroke="#440154" stroke-width="0.3"/>
<polygon points="1052.65,643.25 1061.33,647.44 1061.33,655.82 1052.65,660.01 1043.98,655.82 1043.98,647.44" fill="#440154" stroke="#440154" stroke-width="0.3"/>
<polygon points="723.00,643.25 731.67,647.44 731.67,655.82 723.00,660.01 714.33,655.82 714.33,647.44" fill="#440154" stroke="#440154" stroke-width="0.3"/>
<polygon points="757.70,643.25 766.38,647.44 766.38,655.82 757.70,660.01 749.03,655.82 749.03,647.44" fill="#440154" stroke="#440154" stroke-width="0.3"/>
<polygon points="792.40,643.25 801.07,647.44 801.07,655.82 792.40,660.01 783.73,655.82 783.73,647.44" fill="#470e61" stroke="#470e61" stroke-width="0.3"/>
<polygon points="749.03,630.68 757.70,634.87 757.70,643.25 749.03,647.44 740.35,643.25 740.35,634.87" fill="#481c6e" stroke="#481c6e" stroke-width="0.3"/>
<polygon points="766.38,630.68 775.05,634.87 775.05,643.25 766.38,647.44 757.70,643.25 757.70,634.87" fill="#440154" stroke="#440154" stroke-width="0.3"/>
<polygon points="783.73,630.68 792.40,634.87 792.40,643.25 783.73,647.44 775.05,643.25 775.05,634.87" fill="#481c6e" stroke="#481c6e" stroke-width="0.3"/>
<polygon points="801.08,630.68 809.75,634.87 809.75,643.25 801.08,647.44 792.40,643.25 792.40,634.87" fill="#440154" stroke="#440154" stroke-width="0.3"/>
<polygon points="818.42,630.68 827.10,634.87 827.10,643.25 818.42,647.44 809.75,643.25 809.75,634.87" fill="#470e61" stroke="#470e61" stroke-width="0.3"/>
<polygon points="853.12,630.68 861.80,634.87 861.80,643.25 853.12,647.44 844.45,643.25 844.45,634.87" fill="#470e61" stroke="#470e61" stroke-width="0.3"/>
<polygon points="870.48,630.68 879.15,634.87 879.15,643.25 870.48,647.44 861.80,643.25 861.80,634.87" fill="#470e61" stroke="#470e61" stroke-width="0.3"/>
<polygon points="887.83,630.68 896.50,634.87 896.50,643.25 887.83,647.44 879.15,643.25 879.15,634.87" fill="#470e61" stroke="#470e61" stroke-width="0.3"/>
<polygon points="905.17,630.68 913.85,634.87 913.85,643.25 905.17,647.44 896.50,643.25 896.50,634.87" fill="#470e61" stroke="#470e61" stroke-width="0.3"/>
<polygon points="922.53,630.68 931.20,634.87 931.20,643.25 922.53,647.44 913.85,643.25 913.85,634.87" fill="#440154" stroke="#440154" stroke-width="0.3"/>
<polygon points="939.88,630.68 948.55,634.87 948.55,643.25 939.88,647.44 931.20,643.25 931.20,634.87" fill="#440154" stroke="#440154" stroke-width="0.3"/>
<polygon points="957.23,630.68 965.90,634.87 965.90,643.25 957.23,647.44 948.55,643.25 948.55,634.87" fill="#453581" stroke="#453581" stroke-width="0.3"/>
<polygon points="974.58,630.68 983.25,634.87 983.25,643.25 974.58,647.44 965.90,643.25 965.90,634.87" fill="#440154" stroke="#440154" stroke-width="0.3"/>
<polygon points="991.92,630.68 1000.60,634.87 1000.60,643.25 991.92,647.44 983.25,643.25 983.25,634.87" fill="#481c6e" stroke="#481c6e" stroke-width="0.3"/>
<polygon points="731.67,630.68 740.35,634.87 740.35,643.25 731.67,647.44 723.00,643.25 723.00,634.87" fill="#440154" stroke="#440154" stroke-width="0.3"/>
<polygon points="740.35,618.11 749.02,622.30 749.02,630.68 740.35,634.87 731.68,630.68 731.68,622.30" fill="#481c6e" stroke="#481c6e" stroke-width="0.3"/>
<polygon points="757.70,618.11 766.38,622.30 766.38,630.68 757.70,634.87 749.03,630.68 749.03,622.30" fill="#440154" stroke="#440154" stroke-width="0.3"/>
<polygon points="809.75,618.11 818.42,622.30 818.42,630.68 809.75,634.87 801.08,630.68 801.08,622.30" fill="#482979" stroke="#482979" stroke-width="0.3"/>
<polygon points="844.45,618.11 853.12,622.30 853.12,630.68 844.45,634.87 835.78,630.68 835.78,622.30" fill="#470e61" stroke="#470e61" stroke-width="0.3"/>
<polygon points="879.15,618.11 887.82,622.30 887.82,630.68 879.15,634.87 870.48,630.68 870.48,622.30" fill="#440154" stroke="#440154" stroke-width="0.3"/>
<polygon points="896.50,618.11 905.17,622.30 905.17,630.68 896.50,634.87 887.83,630.68 887.83,622.30" fill="#470e61" stroke="#470e61" stroke-width="0.3"/>
<polygon points="913.85,618.11 922.52,622.30 922.52,630.68 913.85,634.87 905.18,630.68 905.18,622.30" fill="#440154" stroke="#440154" stroke-width="0.3"/>
<polygon points="931.20,618.11 939.88,622.30 939.88,630.68 931.20,634.87 922.53,630.68 922.53,622.30" fill="#482979" stroke="#482979" stroke-width="0.3"/>
<polygon points="948.55,618.11 957.23,622.30 957.23,630.68 948.55,634.87 939.88,630.68 939.88,622.30" fill="#482979" stroke="#482979" stroke-width="0.3"/>
<polygon points="965.90,618.11 974.57,622.30 974.57,630.68 965.90,634.87 957.23,630.68 957.23,622.30" fill="#440154" stroke="#440154" stroke-width="0.3"/>
<polygon points="983.25,618.11 991.92,622.30 991.92,630.68 983.25,634.87 974.58,630.68 974.58,622.30" fill="#470e61" stroke="#470e61" stroke-width="0.3"/>
<polygon points="1000.60,618.11 1009.27,622.30 1009.27,630.68 1000.60,634.87 991.93,630.68 991.93,622.30" fill="#481c6e" stroke="#481c6e" stroke-width="0.3"/>
<polygon points="1035.30,618.11 1043.98,622.30 1043.98,630.68 1035.30,634.87 1026.63,630.68 1026.63,622.30" fill="#440154" stroke="#440154" stroke-width="0.3"/>
<polygon points="775.05,618.11 783.72,622.30 783.72,630.68 775.05,634.87 766.38,630.68 766.38,622.30" fill="#481c6e" stroke="#481c6e" stroke-width="0.3"/>
<polygon points="792.40,618.11 801.07,622.30 801.07,630.68 792.40,634.87 783.73,630.68 783.73,622.30" fill="#440154" stroke="#440154" stroke-width="0.3"/>
<polygon points="783.73,605.54 792.40,609.73 792.40,618.11 783.73,622.30 775.05,618.11 775.05,609.73" fill="#453581" stroke="#453581" stroke-width="0.3"/>
<polygon points="818.42,605.54 827.10,609.73 827.10,618.11 818.42,622.30 809.75,618.11 809.75,609.73" fill="#440154" stroke="#440154" stroke-width="0.3"/>
<polygon points="853.12,605.54 861.80,609.73 861.80,618.11 853.12,622.30 844.45,618.11 844.45,609.73" fill="#440154" stroke="#440154" stroke-width="0.3"/>
<polygon points="887.83,605.54 896.50,609.73 896.50,618.11 887.83,622.30 879.15,618.11 879.15,609.73" fill="#470e61" stroke="#470e61" stroke-width="0.3"/>
<polygon points="922.53,605.54 931.20,609.73 931.20,618.11 922.53,622.30 913.85,618.11 913.85,609.73" fill="#470e61" stroke="#470e61" stroke-width="0.3"/>
<polygon points="939.88,605.54 948.55,609.73 948.55,618.11 939.88,622.30 931.20,618.11 931.20,609.73" fill="#481c6e" stroke="#481c6e" stroke-width="0.3"/>
<polygon points="1009.27,605.54 1017.95,609.73 1017.95,618.11 1009.27,622.30 1000.60,618.11 1000.60,609.73" fill="#440154" stroke="#440154" stroke-width="0.3"/>
<polygon points="1026.62,605.54 1035.30,609.73 1035.30,618.11 1026.62,622.30 1017.95,618.11 1017.95,609.73" fill="#440154" stroke="#440154" stroke-width="0.3"/>
<polygon points="757.70,592.97 766.38,597.16 766.38,605.54 757.70,609.73 749.03,605.54 749.03,597.16" fill="#440154" stroke="#440154" stroke-width="0.3"/>
<polygon points="809.75,592.97 818.42,597.16 818.42,605.54 809.75,609.73 801.08,605.54 801.08,597.16" fill="#440154" stroke="#440154" stroke-width="0.3"/>
<polygon points="827.10,592.97 835.77,597.16 835.77,605.54 827.10,609.73 818.43,605.54 818.43,597.16" fill="#440154" stroke="#440154" stroke-width="0.3"/>
<polygon points="844.45,592.97 853.12,597.16 853.12,605.54 844.45,609.73 835.78,605.54 835.78,597.16" fill="#440154" stroke="#440154" stroke-width="0.3"/>
<polygon points="896.50,592.97 905.17,597.16 905.17,605.54 896.50,609.73 887.83,605.54 887.83,597.16" fill="#440154" stroke="#440154" stroke-width="0.3"/>
<polygon points="965.90,592.97 974.57,597.16 974.57,605.54 965.90,609.73 957.23,605.54 957.23,597.16" fill="#440154" stroke="#440154" stroke-width="0.3"/>
<polygon points="775.05,567.83 783.72,572.02 783.72,580.40 775.05,584.59 766.38,580.40 766.38,572.02" fill="#440154" stroke="#440154" stroke-width="0.3"/>
<polygon points="792.40,567.83 801.07,572.02 801.07,580.40 792.40,584.59 783.73,580.40 783.73,572.02" fill="#440154" stroke="#440154" stroke-width="0.3"/>
<polygon points="827.10,567.83 835.77,572.02 835.77,580.40 827.10,584.59 818.43,580.40 818.43,572.02" fill="#470e61" stroke="#470e61" stroke-width="0.3"/>
<polygon points="844.45,567.83 853.12,572.02 853.12,580.40 844.45,584.59 835.78,580.40 835.78,572.02" fill="#440154" stroke="#440154" stroke-width="0.3"/>
<polygon points="879.15,567.83 887.82,572.02 887.82,580.40 879.15,584.59 870.48,580.40 870.48,572.02" fill="#440154" stroke="#440154" stroke-width="0.3"/>
<polygon points="801.08,555.26 809.75,559.45 809.75,567.83 801.08,572.02 792.40,567.83 792.40,559.45" fill="#440154" stroke="#440154" stroke-width="0.3"/>
<polygon points="853.12,555.26 861.80,559.45 861.80,567.83 853.12,572.02 844.45,567.83 844.45,559.45" fill="#440154" stroke="#440154" stroke-width="0.3"/>
<polygon points="870.48,555.26 879.15,559.45 879.15,567.83 870.48,572.02 861.80,567.83 861.80,559.45" fill="#440154" stroke="#440154" stroke-width="0.3"/>
<polygon points="887.83,479.84 896.50,484.03 896.50,492.41 887.83,496.60 879.15,492.41 879.15,484.03" fill="#440154" stroke="#440154" stroke-width="0.3"/>
<line x1="799.45" y1="470.9" x2="799.45" y2="870.3499999999999" stroke="#000" stroke-width="2.4"/>
<line x1="615.8" y1="685.15" x2="1081.9" y2="685.15" stroke="#000" stroke-width="2.4"/>
<rect x="924.30" y="489.10" width="115.6" height="42.5" rx="6" ry="6" fill="#fff" stroke="#000" stroke-width="1.6"/>
<text x="981.60" y="522.95" font-size="35" text-anchor="middle" fill="#000">72.8%</text>
<rect x="615.8" y="470.9" width="466.10" height="399.45" fill="none" stroke="#333333" stroke-width="1.6"/>
<rect x="134.8" y="885.05" width="466.10" height="399.45" fill="#ffffff"/>
<line x1="219.80" y1="885.05" x2="219.80" y2="1284.5" stroke="#ebebeb" stroke-width="1.3"/>
<line x1="322.30" y1="885.05" x2="322.30" y2="1284.5" stroke="#ebebeb" stroke-width="1.3"/>
<line x1="440.80" y1="885.05" x2="440.80" y2="1284.5" stroke="#ebebeb" stroke-width="1.3"/>
<line x1="545.80" y1="885.05" x2="545.80" y2="1284.5" stroke="#ebebeb" stroke-width="1.3"/>
<line x1="590.50" y1="885.05" x2="590.50" y2="1284.5" stroke="#ebebeb" stroke-width="1.3"/>
<line x1="134.8" y1="949.60" x2="600.9" y2="949.60" stroke="#ebebeb" stroke-width="1.3"/>
<line x1="134.8" y1="1073.60" x2="600.9" y2="1073.60" stroke="#ebebeb" stroke-width="1.3"/>
<line x1="134.8" y1="1181.50" x2="600.9" y2="1181.50" stroke="#ebebeb" stroke-width="1.3"/>
<line x1="134.8" y1="1275.70" x2="600.9" y2="1275.70" stroke="#ebebeb" stroke-width="1.3"/>
<line x1="174.30" y1="885.05" x2="174.30" y2="1284.5" stroke="#ebebeb" stroke-width="2.3"/>
<line x1="264.00" y1="885.05" x2="264.00" y2="1284.5" stroke="#ebebeb" stroke-width="2.3"/>
<line x1="380.50" y1="885.05" x2="380.50" y2="1284.5" stroke="#ebebeb" stroke-width="2.3"/>
<line x1="501.00" y1="885.05" x2="501.00" y2="1284.5" stroke="#ebebeb" stroke-width="2.3"/>
<line x1="134.8" y1="886.40" x2="600.9" y2="886.40" stroke="#ebebeb" stroke-width="2.3"/>
<line x1="134.8" y1="1012.60" x2="600.9" y2="1012.60" stroke="#ebebeb" stroke-width="2.3"/>
<line x1="134.8" y1="1134.70" x2="600.9" y2="1134.70" stroke="#ebebeb" stroke-width="2.3"/>
<line x1="134.8" y1="1228.60" x2="600.9" y2="1228.60" stroke="#ebebeb" stroke-width="2.3"/>
<polygon points="172.60,1258.52 181.28,1262.71 181.28,1271.09 172.60,1275.28 163.92,1271.09 163.92,1262.71" fill="#440154" stroke="#440154" stroke-width="0.3"/>
<polygon points="242.00,1258.52 250.68,1262.71 250.68,1271.09 242.00,1275.28 233.32,1271.09 233.32,1262.71" fill="#440154" stroke="#440154" stroke-width="0.3"/>
<polygon points="259.35,1258.52 268.03,1262.71 268.03,1271.09 259.35,1275.28 250.68,1271.09 250.68,1262.71" fill="#470e61" stroke="#470e61" stroke-width="0.3"/>
<polygon points="276.70,1258.52 285.38,1262.71 285.38,1271.09 276.70,1275.28 268.02,1271.09 268.02,1262.71" fill="#470e61" stroke="#470e61" stroke-width="0.3"/>
<polygon points="294.05,1258.52 302.73,1262.71 302.73,1271.09 294.05,1275.28 285.38,1271.09 285.38,1262.71" fill="#481c6e" stroke="#481c6e" stroke-width="0.3"/>
<polygon points="328.75,1258.52 337.43,1262.71 337.43,1271.09 328.75,1275.28 320.07,1271.09 320.07,1262.71" fill="#470e61" stroke="#470e61" stroke-width="0.3"/>
<polygon points="363.45,1258.52 372.13,1262.71 372.13,1271.09 363.45,1275.28 354.78,1271.09 354.78,1262.71" fill="#440154" stroke="#440154" stroke-width="0.3"/>
<polygon points="398.15,1258.52 406.82,1262.71 406.82,1271.09 398.15,1275.28 389.47,1271.09 389.47,1262.71" fill="#440154" stroke="#440154" stroke-width="0.3"/>
<polygon points="320.07,1220.81 328.75,1225.00 328.75,1233.38 320.07,1237.57 311.40,1233.38 311.40,1225.00" fill="#440154" stroke="#440154" stroke-width="0.3"/>
<polygon points="250.68,1195.67 259.35,1199.86 259.35,1208.24 250.68,1212.43 242.00,1208.24 242.00,1199.86" fill="#440154" stroke="#440154" stroke-width="0.3"/>
<polygon points="268.03,1195.67 276.70,1199.86 276.70,1208.24 268.03,1212.43 259.35,1208.24 259.35,1199.86" fill="#440154" stroke="#440154" stroke-width="0.3"/>
<polygon points="285.38,1195.67 294.05,1199.86 294.05,1208.24 285.38,1212.43 276.70,1208.24 276.70,1199.86" fill="#470e61" stroke="#470e61" stroke-width="0.3"/>
<polygon points="302.73,1195.67 311.40,1199.86 311.40,1208.24 302.73,1212.43 294.05,1208.24 294.05,1199.86" fill="#440154" stroke="#440154" stroke-width="0.3"/>
<polygon points="337.43,1195.67 346.10,1199.86 346.10,1208.24 337.43,1212.43 328.75,1208.24 328.75,1199.86" fill="#440154" stroke="#440154" stroke-width="0.3"/>
<polygon points="580.32,1195.67 589.00,1199.86 589.00,1208.24 580.32,1212.43 571.65,1208.24 571.65,1199.86" fill="#440154" stroke="#440154" stroke-width="0.3"/>
<polygon points="276.70,1183.10 285.38,1187.29 285.38,1195.67 276.70,1199.86 268.02,1195.67 268.02,1187.29" fill="#470e61" stroke="#470e61" stroke-width="0.3"/>
<polygon points="311.40,1183.10 320.07,1187.29 320.07,1195.67 311.40,1199.86 302.72,1195.67 302.72,1187.29" fill="#440154" stroke="#440154" stroke-width="0.3"/>
<polygon points="328.75,1183.10 337.43,1187.29 337.43,1195.67 328.75,1199.86 320.07,1195.67 320.07,1187.29" fill="#481c6e" stroke="#481c6e" stroke-width="0.3"/>
<polygon points="380.80,1183.10 389.48,1187.29 389.48,1195.67 380.80,1199.86 372.12,1195.67 372.12,1187.29" fill="#440154" stroke="#440154" stroke-width="0.3"/>
<polygon points="484.90,1183.10 493.57,1187.29 493.57,1195.67 484.90,1199.86 476.22,1195.67 476.22,1187.29" fill="#440154" stroke="#440154" stroke-width="0.3"/>
<polygon points="215.98,1170.53 224.65,1174.72 224.65,1183.10 215.98,1187.29 207.30,1183.10 207.30,1174.72" fill="#440154" stroke="#440154" stroke-width="0.3"/>
<polygon points="250.68,1170.53 259.35,1174.72 259.35,1183.10 250.68,1187.29 242.00,1183.10 242.00,1174.72" fill="#440154" stroke="#440154" stroke-width="0.3"/>
<polygon points="268.03,1170.53 276.70,1174.72 276.70,1183.10 268.03,1187.29 259.35,1183.10 259.35,1174.72" fill="#440154" stroke="#440154" stroke-width="0.3"/>
<polygon points="285.38,1170.53 294.05,1174.72 294.05,1183.10 285.38,1187.29 276.70,1183.10 276.70,1174.72" fill="#470e61" stroke="#470e61" stroke-width="0.3"/>
<polygon points="302.73,1170.53 311.40,1174.72 311.40,1183.10 302.73,1187.29 294.05,1183.10 294.05,1174.72" fill="#470e61" stroke="#470e61" stroke-width="0.3"/>
<polygon points="320.07,1170.53 328.75,1174.72 328.75,1183.10 320.07,1187.29 311.40,1183.10 311.40,1174.72" fill="#470e61" stroke="#470e61" stroke-width="0.3"/>
<polygon points="372.13,1170.53 380.80,1174.72 380.80,1183.10 372.13,1187.29 363.45,1183.10 363.45,1174.72" fill="#440154" stroke="#440154" stroke-width="0.3"/>
<polygon points="476.23,1170.53 484.90,1174.72 484.90,1183.10 476.23,1187.29 467.55,1183.10 467.55,1174.72" fill="#440154" stroke="#440154" stroke-width="0.3"/>
<polygon points="224.65,1157.96 233.33,1162.15 233.33,1170.53 224.65,1174.72 215.97,1170.53 215.97,1162.15" fill="#453581" stroke="#453581" stroke-width="0.3"/>
<polygon points="242.00,1157.96 250.68,1162.15 250.68,1170.53 242.00,1174.72 233.32,1170.53 233.32,1162.15" fill="#470e61" stroke="#470e61" stroke-width="0.3"/>
<polygon points="259.35,1157.96 268.03,1162.15 268.03,1170.53 259.35,1174.72 250.68,1170.53 250.68,1162.15" fill="#482979" stroke="#482979" stroke-width="0.3"/>
<polygon points="276.70,1157.96 285.38,1162.15 285.38,1170.53 276.70,1174.72 268.02,1170.53 268.02,1162.15" fill="#3d4d8a" stroke="#3d4d8a" stroke-width="0.3"/>
<polygon points="294.05,1157.96 302.73,1162.15 302.73,1170.53 294.05,1174.72 285.38,1170.53 285.38,1162.15" fill="#482979" stroke="#482979" stroke-width="0.3"/>
<polygon points="311.40,1157.96 320.07,1162.15 320.07,1170.53 311.40,1174.72 302.72,1170.53 302.72,1162.15" fill="#3d4d8a" stroke="#3d4d8a" stroke-width="0.3"/>
<polygon points="328.75,1157.96 337.43,1162.15 337.43,1170.53 328.75,1174.72 320.07,1170.53 320.07,1162.15" fill="#470e61" stroke="#470e61" stroke-width="0.3"/>
<polygon points="346.10,1157.96 354.78,1162.15 354.78,1170.53 346.10,1174.72 337.43,1170.53 337.43,1162.15" fill="#482979" stroke="#482979" stroke-width="0.3"/>
<polygon points="363.45,1157.96 372.13,1162.15 372.13,1170.53 363.45,1174.72 354.78,1170.53 354.78,1162.15" fill="#481c6e" stroke="#481c6e" stroke-width="0.3"/>
<polygon points="484.90,1157.96 493.57,1162.15 493.57,1170.53 484.90,1174.72 476.22,1170.53 476.22,1162.15" fill="#440154" stroke="#440154" stroke-width="0.3"/>
<polygon points="215.98,1145.39 224.65,1149.58 224.65,1157.96 215.98,1162.15 207.30,1157.96 207.30,1149.58" fill="#440154" stroke="#440154" stroke-width="0.3"/>
<polygon points="233.33,1145.39 242.00,1149.58 242.00,1157.96 233.33,1162.15 224.65,1157.96 224.65,1149.58" fill="#440154" stroke="#440154" stroke-width="0.3"/>
<polygon points="250.68,1145.39 259.35,1149.58 259.35,1157.96 250.68,1162.15 242.00,1157.96 242.00,1149.58" fill="#482979" stroke="#482979" stroke-width="0.3"/>
<polygon points="268.03,1145.39 276.70,1149.58 276.70,1157.96 268.03,1162.15 259.35,1157.96 259.35,1149.58" fill="#482979" stroke="#482979" stroke-width="0.3"/>
<polygon points="285.38,1145.39 294.05,1149.58 294.05,1157.96 285.38,1162.15 276.70,1157.96 276.70,1149.58" fill="#482979" stroke="#482979" stroke-width="0.3"/>
<polygon points="302.73,1145.39 311.40,1149.58 311.40,1157.96 302.73,1162.15 294.05,1157.96 294.05,1149.58" fill="#482979" stroke="#482979" stroke-width="0.3"/>
<polygon points="320.07,1145.39 328.75,1149.58 328.75,1157.96 320.07,1162.15 311.40,1157.96 311.40,1149.58" fill="#481c6e" stroke="#481c6e" stroke-width="0.3"/>
<polygon points="337.43,1145.39 346.10,1149.58 346.10,1157.96 337.43,1162.15 328.75,1157.96 328.75,1149.58" fill="#440154" stroke="#440154" stroke-width="0.3"/>
<polygon points="406.82,1145.39 415.50,1149.58 415.50,1157.96 406.82,1162.15 398.15,1157.96 398.15,1149.58" fill="#440154" stroke="#440154" stroke-width="0.3"/>
<polygon points="172.60,1132.82 181.28,1137.01 181.28,1145.39 172.60,1149.58 163.92,1145.39 163.92,1137.01" fill="#440154" stroke="#440154" stroke-width="0.3"/>
<polygon points="207.30,1132.82 215.98,1137.01 215.98,1145.39 207.30,1149.58 198.62,1145.39 198.62,1137.01" fill="#440154" stroke="#440154" stroke-width="0.3"/>
<polygon points="242.00,1132.82 250.68,1137.01 250.68,1145.39 242.00,1149.58 233.32,1145.39 233.32,1137.01" fill="#440154" stroke="#440154" stroke-width="0.3"/>
<polygon points="259.35,1132.82 268.03,1137.01 268.03,1145.39 259.35,1149.58 250.68,1145.39 250.68,1137.01" fill="#470e61" stroke="#470e61" stroke-width="0.3"/>
<polygon points="276.70,1132.82 285.38,1137.01 285.38,1145.39 276.70,1149.58 268.02,1145.39 268.02,1137.01" fill="#470e61" stroke="#470e61" stroke-width="0.3"/>
<polygon points="294.05,1132.82 302.73,1137.01 302.73,1145.39 294.05,1149.58 285.38,1145.39 285.38,1137.01" fill="#3d4d8a" stroke="#3d4d8a" stroke-width="0.3"/>
<polygon points="311.40,1132.82 320.07,1137.01 320.07,1145.39 311.40,1149.58 302.72,1145.39 302.72,1137.01" fill="#453581" stroke="#453581" stroke-width="0.3"/>
<polygon points="328.75,1132.82 337.43,1137.01 337.43,1145.39 328.75,1149.58 320.07,1145.39 320.07,1137.01" fill="#39568c" stroke="#39568c" stroke-width="0.3"/>
<polygon points="346.10,1132.82 354.78,1137.01 354.78,1145.39 346.10,1149.58 337.43,1145.39 337.43,1137.01" fill="#424186" stroke="#424186" stroke-width="0.3"/>
<polygon points="363.45,1132.82 372.13,1137.01 372.13,1145.39 363.45,1149.58 354.78,1145.39 354.78,1137.01" fill="#481c6e" stroke="#481c6e" stroke-width="0.3"/>
<polygon points="380.80,1132.82 389.48,1137.01 389.48,1145.39 380.80,1149.58 372.12,1145.39 372.12,1137.01" fill="#440154" stroke="#440154" stroke-width="0.3"/>
<polygon points="181.28,1120.25 189.95,1124.44 189.95,1132.82 181.28,1137.01 172.60,1132.82 172.60,1124.44" fill="#440154" stroke="#440154" stroke-width="0.3"/>
<polygon points="233.33,1120.25 242.00,1124.44 242.00,1132.82 233.33,1137.01 224.65,1132.82 224.65,1124.44" fill="#481c6e" stroke="#481c6e" stroke-width="0.3"/>
<polygon points="250.68,1120.25 259.35,1124.44 259.35,1132.82 250.68,1137.01 242.00,1132.82 242.00,1124.44" fill="#453581" stroke="#453581" stroke-width="0.3"/>
<polygon points="268.03,1120.25 276.70,1124.44 276.70,1132.82 268.03,1137.01 259.35,1132.82 259.35,1124.44" fill="#2f6b8e" stroke="#2f6b8e" stroke-width="0.3"/>
<polygon points="285.38,1120.25 294.05,1124.44 294.05,1132.82 285.38,1137.01 276.70,1132.82 276.70,1124.44" fill="#424186" stroke="#424186" stroke-width="0.3"/>
<polygon points="302.73,1120.25 311.40,1124.44 311.40,1132.82 302.73,1137.01 294.05,1132.82 294.05,1124.44" fill="#25ac82" stroke="#25ac82" stroke-width="0.3"/>
<polygon points="320.07,1120.25 328.75,1124.44 328.75,1132.82 320.07,1137.01 311.40,1132.82 311.40,1124.44" fill="#24878e" stroke="#24878e" stroke-width="0.3"/>
<polygon points="337.43,1120.25 346.10,1124.44 346.10,1132.82 337.43,1137.01 328.75,1132.82 328.75,1124.44" fill="#277e8e" stroke="#277e8e" stroke-width="0.3"/>
<polygon points="354.78,1120.25 363.45,1124.44 363.45,1132.82 354.78,1137.01 346.10,1132.82 346.10,1124.44" fill="#424186" stroke="#424186" stroke-width="0.3"/>
<polygon points="458.88,1120.25 467.55,1124.44 467.55,1132.82 458.88,1137.01 450.20,1132.82 450.20,1124.44" fill="#440154" stroke="#440154" stroke-width="0.3"/>
<polygon points="172.60,1107.68 181.28,1111.87 181.28,1120.25 172.60,1124.44 163.92,1120.25 163.92,1111.87" fill="#440154" stroke="#440154" stroke-width="0.3"/>
<polygon points="224.65,1107.68 233.33,1111.87 233.33,1120.25 224.65,1124.44 215.97,1120.25 215.97,1111.87" fill="#440154" stroke="#440154" stroke-width="0.3"/>
<polygon points="242.00,1107.68 250.68,1111.87 250.68,1120.25 242.00,1124.44 233.32,1120.25 233.32,1111.87" fill="#470e61" stroke="#470e61" stroke-width="0.3"/>
<polygon points="259.35,1107.68 268.03,1111.87 268.03,1120.25 259.35,1124.44 250.68,1120.25 250.68,1111.87" fill="#482979" stroke="#482979" stroke-width="0.3"/>
<polygon points="276.70,1107.68 285.38,1111.87 285.38,1120.25 276.70,1124.44 268.02,1120.25 268.02,1111.87" fill="#424186" stroke="#424186" stroke-width="0.3"/>
<polygon points="294.05,1107.68 302.73,1111.87 302.73,1120.25 294.05,1124.44 285.38,1120.25 285.38,1111.87" fill="#424186" stroke="#424186" stroke-width="0.3"/>
<polygon points="311.40,1107.68 320.07,1111.87 320.07,1120.25 311.40,1124.44 302.72,1120.25 302.72,1111.87" fill="#277e8e" stroke="#277e8e" stroke-width="0.3"/>
<polygon points="328.75,1107.68 337.43,1111.87 337.43,1120.25 328.75,1124.44 320.07,1120.25 320.07,1111.87" fill="#21918c" stroke="#21918c" stroke-width="0.3"/>
<polygon points="346.10,1107.68 354.78,1111.87 354.78,1120.25 346.10,1124.44 337.43,1120.25 337.43,1111.87" fill="#34618d" stroke="#34618d" stroke-width="0.3"/>
<polygon points="363.45,1107.68 372.13,1111.87 372.13,1120.25 363.45,1124.44 354.78,1120.25 354.78,1111.87" fill="#453581" stroke="#453581" stroke-width="0.3"/>
<polygon points="380.80,1107.68 389.48,1111.87 389.48,1120.25 380.80,1124.44 372.12,1120.25 372.12,1111.87" fill="#440154" stroke="#440154" stroke-width="0.3"/>
<polygon points="398.15,1107.68 406.82,1111.87 406.82,1120.25 398.15,1124.44 389.47,1120.25 389.47,1111.87" fill="#481c6e" stroke="#481c6e" stroke-width="0.3"/>
<polygon points="415.50,1107.68 424.18,1111.87 424.18,1120.25 415.50,1124.44 406.82,1120.25 406.82,1111.87" fill="#470e61" stroke="#470e61" stroke-width="0.3"/>
<polygon points="233.33,1095.11 242.00,1099.30 242.00,1107.68 233.33,1111.87 224.65,1107.68 224.65,1099.30" fill="#481c6e" stroke="#481c6e" stroke-width="0.3"/>
<polygon points="268.03,1095.11 276.70,1099.30 276.70,1107.68 268.03,1111.87 259.35,1107.68 259.35,1099.30" fill="#481c6e" stroke="#481c6e" stroke-width="0.3"/>
<polygon points="285.38,1095.11 294.05,1099.30 294.05,1107.68 285.38,1111.87 276.70,1107.68 276.70,1099.30" fill="#39568c" stroke="#39568c" stroke-width="0.3"/>
<polygon points="302.73,1095.11 311.40,1099.30 311.40,1107.68 302.73,1111.87 294.05,1107.68 294.05,1099.30" fill="#40bd72" stroke="#40bd72" stroke-width="0.3"/>
<polygon points="320.07,1095.11 328.75,1099.30 328.75,1107.68 320.07,1111.87 311.40,1107.68 311.40,1099.30" fill="#24878e" stroke="#24878e" stroke-width="0.3"/>
<polygon points="337.43,1095.11 346.10,1099.30 346.10,1107.68 337.43,1111.87 328.75,1107.68 328.75,1099.30" fill="#277e8e" stroke="#277e8e" stroke-width="0.3"/>
<polygon points="354.78,1095.11 363.45,1099.30 363.45,1107.68 354.78,1111.87 346.10,1107.68 346.10,1099.30" fill="#424186" stroke="#424186" stroke-width="0.3"/>
<polygon points="372.13,1095.11 380.80,1099.30 380.80,1107.68 372.13,1111.87 363.45,1107.68 363.45,1099.30" fill="#481c6e" stroke="#481c6e" stroke-width="0.3"/>
<polygon points="389.48,1095.11 398.15,1099.30 398.15,1107.68 389.48,1111.87 380.80,1107.68 380.80,1099.30" fill="#482979" stroke="#482979" stroke-width="0.3"/>
<polygon points="406.82,1095.11 415.50,1099.30 415.50,1107.68 406.82,1111.87 398.15,1107.68 398.15,1099.30" fill="#440154" stroke="#440154" stroke-width="0.3"/>
<polygon points="476.23,1095.11 484.90,1099.30 484.90,1107.68 476.23,1111.87 467.55,1107.68 467.55,1099.30" fill="#440154" stroke="#440154" stroke-width="0.3"/>
<polygon points="172.60,1082.54 181.28,1086.73 181.28,1095.11 172.60,1099.30 163.92,1095.11 163.92,1086.73" fill="#440154" stroke="#440154" stroke-width="0.3"/>
<polygon points="189.95,1082.54 198.62,1086.73 198.62,1095.11 189.95,1099.30 181.27,1095.11 181.27,1086.73" fill="#440154" stroke="#440154" stroke-width="0.3"/>
<polygon points="207.30,1082.54 215.98,1086.73 215.98,1095.11 207.30,1099.30 198.62,1095.11 198.62,1086.73" fill="#440154" stroke="#440154" stroke-width="0.3"/>
<polygon points="224.65,1082.54 233.33,1086.73 233.33,1095.11 224.65,1099.30 215.97,1095.11 215.97,1086.73" fill="#482979" stroke="#482979" stroke-width="0.3"/>
<polygon points="242.00,1082.54 250.68,1086.73 250.68,1095.11 242.00,1099.30 233.32,1095.11 233.32,1086.73" fill="#424186" stroke="#424186" stroke-width="0.3"/>
<polygon points="259.35,1082.54 268.03,1086.73 268.03,1095.11 259.35,1099.30 250.68,1095.11 250.68,1086.73" fill="#482979" stroke="#482979" stroke-width="0.3"/>
<polygon points="276.70,1082.54 285.38,1086.73 285.38,1095.11 276.70,1099.30 268.02,1095.11 268.02,1086.73" fill="#277e8e" stroke="#277e8e" stroke-width="0.3"/>
<polygon points="294.05,1082.54 302.73,1086.73 302.73,1095.11 294.05,1099.30 285.38,1095.11 285.38,1086.73" fill="#24878e" stroke="#24878e" stroke-width="0.3"/>
<polygon points="311.40,1082.54 320.07,1086.73 320.07,1095.11 311.40,1099.30 302.72,1095.11 302.72,1086.73" fill="#2f6b8e" stroke="#2f6b8e" stroke-width="0.3"/>
<polygon points="328.75,1082.54 337.43,1086.73 337.43,1095.11 328.75,1099.30 320.07,1095.11 320.07,1086.73" fill="#34618d" stroke="#34618d" stroke-width="0.3"/>
<polygon points="346.10,1082.54 354.78,1086.73 354.78,1095.11 346.10,1099.30 337.43,1095.11 337.43,1086.73" fill="#482979" stroke="#482979" stroke-width="0.3"/>
<polygon points="363.45,1082.54 372.13,1086.73 372.13,1095.11 363.45,1099.30 354.78,1095.11 354.78,1086.73" fill="#424186" stroke="#424186" stroke-width="0.3"/>
<polygon points="380.80,1082.54 389.48,1086.73 389.48,1095.11 380.80,1099.30 372.12,1095.11 372.12,1086.73" fill="#481c6e" stroke="#481c6e" stroke-width="0.3"/>
<polygon points="398.15,1082.54 406.82,1086.73 406.82,1095.11 398.15,1099.30 389.47,1095.11 389.47,1086.73" fill="#440154" stroke="#440154" stroke-width="0.3"/>
<polygon points="450.20,1082.54 458.88,1086.73 458.88,1095.11 450.20,1099.30 441.53,1095.11 441.53,1086.73" fill="#440154" stroke="#440154" stroke-width="0.3"/>
<polygon points="519.60,1082.54 528.27,1086.73 528.27,1095.11 519.60,1099.30 510.93,1095.11 510.93,1086.73" fill="#440154" stroke="#440154" stroke-width="0.3"/>
<polygon points="215.98,1069.97 224.65,1074.16 224.65,1082.54 215.98,1086.73 207.30,1082.54 207.30,1074.16" fill="#440154" stroke="#440154" stroke-width="0.3"/>
<polygon points="233.33,1069.97 242.00,1074.16 242.00,1082.54 233.33,1086.73 224.65,1082.54 224.65,1074.16" fill="#481c6e" stroke="#481c6e" stroke-width="0.3"/>
<polygon points="250.68,1069.97 259.35,1074.16 259.35,1082.54 250.68,1086.73 242.00,1082.54 242.00,1074.16" fill="#481c6e" stroke="#481c6e" stroke-width="0.3"/>
<polygon points="268.03,1069.97 276.70,1074.16 276.70,1082.54 268.03,1086.73 259.35,1082.54 259.35,1074.16" fill="#424186" stroke="#424186" stroke-width="0.3"/>
<polygon points="285.38,1069.97 294.05,1074.16 294.05,1082.54 285.38,1086.73 276.70,1082.54 276.70,1074.16" fill="#2b748e" stroke="#2b748e" stroke-width="0.3"/>
<polygon points="302.73,1069.97 311.40,1074.16 311.40,1082.54 302.73,1086.73 294.05,1082.54 294.05,1074.16" fill="#2b748e" stroke="#2b748e" stroke-width="0.3"/>
<polygon points="320.07,1069.97 328.75,1074.16 328.75,1082.54 320.07,1086.73 311.40,1082.54 311.40,1074.16" fill="#424186" stroke="#424186" stroke-width="0.3"/>
<polygon points="337.43,1069.97 346.10,1074.16 346.10,1082.54 337.43,1086.73 328.75,1082.54 328.75,1074.16" fill="#453581" stroke="#453581" stroke-width="0.3"/>
<polygon points="354.78,1069.97 363.45,1074.16 363.45,1082.54 354.78,1086.73 346.10,1082.54 346.10,1074.16" fill="#481c6e" stroke="#481c6e" stroke-width="0.3"/>
<polygon points="372.13,1069.97 380.80,1074.16 380.80,1082.54 372.13,1086.73 363.45,1082.54 363.45,1074.16" fill="#470e61" stroke="#470e61" stroke-width="0.3"/>
<polygon points="389.48,1069.97 398.15,1074.16 398.15,1082.54 389.48,1086.73 380.80,1082.54 380.80,1074.16" fill="#440154" stroke="#440154" stroke-width="0.3"/>
<polygon points="406.82,1069.97 415.50,1074.16 415.50,1082.54 406.82,1086.73 398.15,1082.54 398.15,1074.16" fill="#440154" stroke="#440154" stroke-width="0.3"/>
<polygon points="441.53,1069.97 450.20,1074.16 450.20,1082.54 441.53,1086.73 432.85,1082.54 432.85,1074.16" fill="#440154" stroke="#440154" stroke-width="0.3"/>
<polygon points="242.00,1057.40 250.68,1061.59 250.68,1069.97 242.00,1074.16 233.32,1069.97 233.32,1061.59" fill="#440154" stroke="#440154" stroke-width="0.3"/>
<polygon points="259.35,1057.40 268.03,1061.59 268.03,1069.97 259.35,1074.16 250.68,1069.97 250.68,1061.59" fill="#440154" stroke="#440154" stroke-width="0.3"/>
<polygon points="276.70,1057.40 285.38,1061.59 285.38,1069.97 276.70,1074.16 268.02,1069.97 268.02,1061.59" fill="#424186" stroke="#424186" stroke-width="0.3"/>
<polygon points="294.05,1057.40 302.73,1061.59 302.73,1069.97 294.05,1074.16 285.38,1069.97 285.38,1061.59" fill="#3d4d8a" stroke="#3d4d8a" stroke-width="0.3"/>
<polygon points="311.40,1057.40 320.07,1061.59 320.07,1069.97 311.40,1074.16 302.72,1069.97 302.72,1061.59" fill="#424186" stroke="#424186" stroke-width="0.3"/>
<polygon points="328.75,1057.40 337.43,1061.59 337.43,1069.97 328.75,1074.16 320.07,1069.97 320.07,1061.59" fill="#440154" stroke="#440154" stroke-width="0.3"/>
<polygon points="346.10,1057.40 354.78,1061.59 354.78,1069.97 346.10,1074.16 337.43,1069.97 337.43,1061.59" fill="#481c6e" stroke="#481c6e" stroke-width="0.3"/>
<polygon points="363.45,1057.40 372.13,1061.59 372.13,1069.97 363.45,1074.16 354.78,1069.97 354.78,1061.59" fill="#440154" stroke="#440154" stroke-width="0.3"/>
<polygon points="380.80,1057.40 389.48,1061.59 389.48,1069.97 380.80,1074.16 372.12,1069.97 372.12,1061.59" fill="#440154" stroke="#440154" stroke-width="0.3"/>
<polygon points="250.68,1044.83 259.35,1049.02 259.35,1057.40 250.68,1061.59 242.00,1057.40 242.00,1049.02" fill="#440154" stroke="#440154" stroke-width="0.3"/>
<polygon points="268.03,1044.83 276.70,1049.02 276.70,1057.40 268.03,1061.59 259.35,1057.40 259.35,1049.02" fill="#482979" stroke="#482979" stroke-width="0.3"/>
<polygon points="285.38,1044.83 294.05,1049.02 294.05,1057.40 285.38,1061.59 276.70,1057.40 276.70,1049.02" fill="#481c6e" stroke="#481c6e" stroke-width="0.3"/>
<polygon points="302.73,1044.83 311.40,1049.02 311.40,1057.40 302.73,1061.59 294.05,1057.40 294.05,1049.02" fill="#482979" stroke="#482979" stroke-width="0.3"/>
<polygon points="320.07,1044.83 328.75,1049.02 328.75,1057.40 320.07,1061.59 311.40,1057.40 311.40,1049.02" fill="#481c6e" stroke="#481c6e" stroke-width="0.3"/>
<polygon points="337.43,1044.83 346.10,1049.02 346.10,1057.40 337.43,1061.59 328.75,1057.40 328.75,1049.02" fill="#481c6e" stroke="#481c6e" stroke-width="0.3"/>
<polygon points="372.13,1044.83 380.80,1049.02 380.80,1057.40 372.13,1061.59 363.45,1057.40 363.45,1049.02" fill="#440154" stroke="#440154" stroke-width="0.3"/>
<polygon points="259.35,1032.26 268.03,1036.45 268.03,1044.83 259.35,1049.02 250.68,1044.83 250.68,1036.45" fill="#481c6e" stroke="#481c6e" stroke-width="0.3"/>
<polygon points="276.70,1032.26 285.38,1036.45 285.38,1044.83 276.70,1049.02 268.02,1044.83 268.02,1036.45" fill="#440154" stroke="#440154" stroke-width="0.3"/>
<polygon points="294.05,1032.26 302.73,1036.45 302.73,1044.83 294.05,1049.02 285.38,1044.83 285.38,1036.45" fill="#481c6e" stroke="#481c6e" stroke-width="0.3"/>
<polygon points="311.40,1032.26 320.07,1036.45 320.07,1044.83 311.40,1049.02 302.72,1044.83 302.72,1036.45" fill="#424186" stroke="#424186" stroke-width="0.3"/>
<polygon points="328.75,1032.26 337.43,1036.45 337.43,1044.83 328.75,1049.02 320.07,1044.83 320.07,1036.45" fill="#482979" stroke="#482979" stroke-width="0.3"/>
<polygon points="346.10,1032.26 354.78,1036.45 354.78,1044.83 346.10,1049.02 337.43,1044.83 337.43,1036.45" fill="#440154" stroke="#440154" stroke-width="0.3"/>
<polygon points="363.45,1032.26 372.13,1036.45 372.13,1044.83 363.45,1049.02 354.78,1044.83 354.78,1036.45" fill="#440154" stroke="#440154" stroke-width="0.3"/>
<polygon points="268.03,1019.69 276.70,1023.88 276.70,1032.26 268.03,1036.45 259.35,1032.26 259.35,1023.88" fill="#440154" stroke="#440154" stroke-width="0.3"/>
<polygon points="285.38,1019.69 294.05,1023.88 294.05,1032.26 285.38,1036.45 276.70,1032.26 276.70,1023.88" fill="#440154" stroke="#440154" stroke-width="0.3"/>
<polygon points="302.73,1019.69 311.40,1023.88 311.40,1032.26 302.73,1036.45 294.05,1032.26 294.05,1023.88" fill="#470e61" stroke="#470e61" stroke-width="0.3"/>
<polygon points="337.43,1019.69 346.10,1023.88 346.10,1032.26 337.43,1036.45 328.75,1032.26 328.75,1023.88" fill="#440154" stroke="#440154" stroke-width="0.3"/>
<polygon points="354.78,1019.69 363.45,1023.88 363.45,1032.26 354.78,1036.45 346.10,1032.26 346.10,1023.88" fill="#440154" stroke="#440154" stroke-width="0.3"/>
<polygon points="328.75,1007.12 337.43,1011.31 337.43,1019.69 328.75,1023.88 320.07,1019.69 320.07,1011.31" fill="#470e61" stroke="#470e61" stroke-width="0.3"/>
<polygon points="302.73,994.55 311.40,998.74 311.40,1007.12 302.73,1011.31 294.05,1007.12 294.05,998.74" fill="#440154" stroke="#440154" stroke-width="0.3"/>
<polygon points="320.07,994.55 328.75,998.74 328.75,1007.12 320.07,1011.31 311.40,1007.12 311.40,998.74" fill="#470e61" stroke="#470e61" stroke-width="0.3"/>
<polygon points="337.43,994.55 346.10,998.74 346.10,1007.12 337.43,1011.31 328.75,1007.12 328.75,998.74" fill="#440154" stroke="#440154" stroke-width="0.3"/>
<polygon points="320.07,969.41 328.75,973.60 328.75,981.98 320.07,986.17 311.40,981.98 311.40,973.60" fill="#440154" stroke="#440154" stroke-width="0.3"/>
<polygon points="337.43,969.41 346.10,973.60 346.10,981.98 337.43,986.17 328.75,981.98 328.75,973.60" fill="#470e61" stroke="#470e61" stroke-width="0.3"/>
<polygon points="346.10,956.84 354.78,961.03 354.78,969.41 346.10,973.60 337.43,969.41 337.43,961.03" fill="#440154" stroke="#440154" stroke-width="0.3"/>
<polygon points="328.75,931.70 337.43,935.89 337.43,944.27 328.75,948.46 320.07,944.27 320.07,935.89" fill="#440154" stroke="#440154" stroke-width="0.3"/>
<line x1="318.45" y1="885.05" x2="318.45" y2="1284.5" stroke="#000" stroke-width="2.4"/>
<line x1="134.8" y1="1099.30" x2="600.9" y2="1099.30" stroke="#000" stroke-width="2.4"/>
<rect x="443.30" y="903.25" width="115.6" height="42.5" rx="6" ry="6" fill="#fff" stroke="#000" stroke-width="1.6"/>
<text x="500.60" y="937.10" font-size="35" text-anchor="middle" fill="#000">27.1%</text>
<rect x="134.8" y="885.05" width="466.10" height="399.45" fill="none" stroke="#333333" stroke-width="1.6"/>
<rect x="615.8" y="885.05" width="466.10" height="399.45" fill="#ffffff"/>
<line x1="700.80" y1="885.05" x2="700.80" y2="1284.5" stroke="#ebebeb" stroke-width="1.3"/>
<line x1="803.30" y1="885.05" x2="803.30" y2="1284.5" stroke="#ebebeb" stroke-width="1.3"/>
<line x1="921.80" y1="885.05" x2="921.80" y2="1284.5" stroke="#ebebeb" stroke-width="1.3"/>
<line x1="1026.80" y1="885.05" x2="1026.80" y2="1284.5" stroke="#ebebeb" stroke-width="1.3"/>
<line x1="1071.50" y1="885.05" x2="1071.50" y2="1284.5" stroke="#ebebeb" stroke-width="1.3"/>
<line x1="615.8" y1="949.60" x2="1081.9" y2="949.60" stroke="#ebebeb" stroke-width="1.3"/>
<line x1="615.8" y1="1073.60" x2="1081.9" y2="1073.60" stroke="#ebebeb" stroke-width="1.3"/>
<line x1="615.8" y1="1181.50" x2="1081.9" y2="1181.50" stroke="#ebebeb" stroke-width="1.3"/>
<line x1="615.8" y1="1275.70" x2="1081.9" y2="1275.70" stroke="#ebebeb" stroke-width="1.3"/>
<line x1="655.30" y1="885.05" x2="655.30" y2="1284.5" stroke="#ebebeb" stroke-width="2.3"/>
<line x1="745.00" y1="885.05" x2="745.00" y2="1284.5" stroke="#ebebeb" stroke-width="2.3"/>
<line x1="861.50" y1="885.05" x2="861.50" y2="1284.5" stroke="#ebebeb" stroke-width="2.3"/>
<line x1="982.00" y1="885.05" x2="982.00" y2="1284.5" stroke="#ebebeb" stroke-width="2.3"/>
<line x1="615.8" y1="886.40" x2="1081.9" y2="886.40" stroke="#ebebeb" stroke-width="2.3"/>
<line x1="615.8" y1="1012.60" x2="1081.9" y2="1012.60" stroke="#ebebeb" stroke-width="2.3"/>
<line x1="615.8" y1="1134.70" x2="1081.9" y2="1134.70" stroke="#ebebeb" stroke-width="2.3"/>
<line x1="615.8" y1="1228.60" x2="1081.9" y2="1228.60" stroke="#ebebeb" stroke-width="2.3"/>
<polygon points="653.60,1258.52 662.27,1262.71 662.27,1271.09 653.60,1275.28 644.93,1271.09 644.93,1262.71" fill="#34618d" stroke="#34618d" stroke-width="0.3"/>
<polygon points="688.30,1258.52 696.97,1262.71 696.97,1271.09 688.30,1275.28 679.62,1271.09 679.62,1262.71" fill="#481c6e" stroke="#481c6e" stroke-width="0.3"/>
<polygon points="705.65,1258.52 714.32,1262.71 714.32,1271.09 705.65,1275.28 696.98,1271.09 696.98,1262.71" fill="#424186" stroke="#424186" stroke-width="0.3"/>
<polygon points="723.00,1258.52 731.67,1262.71 731.67,1271.09 723.00,1275.28 714.33,1271.09 714.33,1262.71" fill="#424186" stroke="#424186" stroke-width="0.3"/>
<polygon points="740.35,1258.52 749.02,1262.71 749.02,1271.09 740.35,1275.28 731.68,1271.09 731.68,1262.71" fill="#453581" stroke="#453581" stroke-width="0.3"/>
<polygon points="757.70,1258.52 766.38,1262.71 766.38,1271.09 757.70,1275.28 749.03,1271.09 749.03,1262.71" fill="#3d4d8a" stroke="#3d4d8a" stroke-width="0.3"/>
<polygon points="775.05,1258.52 783.72,1262.71 783.72,1271.09 775.05,1275.28 766.38,1271.09 766.38,1262.71" fill="#481c6e" stroke="#481c6e" stroke-width="0.3"/>
<polygon points="792.40,1258.52 801.07,1262.71 801.07,1271.09 792.40,1275.28 783.73,1271.09 783.73,1262.71" fill="#481c6e" stroke="#481c6e" stroke-width="0.3"/>
<polygon points="809.75,1258.52 818.42,1262.71 818.42,1271.09 809.75,1275.28 801.08,1271.09 801.08,1262.71" fill="#440154" stroke="#440154" stroke-width="0.3"/>
<polygon points="827.10,1258.52 835.77,1262.71 835.77,1271.09 827.10,1275.28 818.43,1271.09 818.43,1262.71" fill="#440154" stroke="#440154" stroke-width="0.3"/>
<polygon points="766.38,1245.95 775.05,1250.14 775.05,1258.52 766.38,1262.71 757.70,1258.52 757.70,1250.14" fill="#440154" stroke="#440154" stroke-width="0.3"/>
<polygon points="662.27,1220.81 670.95,1225.00 670.95,1233.38 662.27,1237.57 653.60,1233.38 653.60,1225.00" fill="#440154" stroke="#440154" stroke-width="0.3"/>
<polygon points="714.33,1220.81 723.00,1225.00 723.00,1233.38 714.33,1237.57 705.65,1233.38 705.65,1225.00" fill="#481c6e" stroke="#481c6e" stroke-width="0.3"/>
<polygon points="731.67,1220.81 740.35,1225.00 740.35,1233.38 731.67,1237.57 723.00,1233.38 723.00,1225.00" fill="#470e61" stroke="#470e61" stroke-width="0.3"/>
<polygon points="749.03,1220.81 757.70,1225.00 757.70,1233.38 749.03,1237.57 740.35,1233.38 740.35,1225.00" fill="#440154" stroke="#440154" stroke-width="0.3"/>
<polygon points="783.73,1220.81 792.40,1225.00 792.40,1233.38 783.73,1237.57 775.05,1233.38 775.05,1225.00" fill="#440154" stroke="#440154" stroke-width="0.3"/>
<polygon points="818.42,1220.81 827.10,1225.00 827.10,1233.38 818.42,1237.57 809.75,1233.38 809.75,1225.00" fill="#440154" stroke="#440154" stroke-width="0.3"/>
<polygon points="853.12,1220.81 861.80,1225.00 861.80,1233.38 853.12,1237.57 844.45,1233.38 844.45,1225.00" fill="#440154" stroke="#440154" stroke-width="0.3"/>
<polygon points="870.48,1220.81 879.15,1225.00 879.15,1233.38 870.48,1237.57 861.80,1233.38 861.80,1225.00" fill="#440154" stroke="#440154" stroke-width="0.3"/>
<polygon points="662.27,1195.67 670.95,1199.86 670.95,1208.24 662.27,1212.43 653.60,1208.24 653.60,1199.86" fill="#440154" stroke="#440154" stroke-width="0.3"/>
<polygon points="696.98,1195.67 705.65,1199.86 705.65,1208.24 696.98,1212.43 688.30,1208.24 688.30,1199.86" fill="#424186" stroke="#424186" stroke-width="0.3"/>
<polygon points="714.33,1195.67 723.00,1199.86 723.00,1208.24 714.33,1212.43 705.65,1208.24 705.65,1199.86" fill="#440154" stroke="#440154" stroke-width="0.3"/>
<polygon points="731.67,1195.67 740.35,1199.86 740.35,1208.24 731.67,1212.43 723.00,1208.24 723.00,1199.86" fill="#424186" stroke="#424186" stroke-width="0.3"/>
<polygon points="749.03,1195.67 757.70,1199.86 757.70,1208.24 749.03,1212.43 740.35,1208.24 740.35,1199.86" fill="#482979" stroke="#482979" stroke-width="0.3"/>
<polygon points="766.38,1195.67 775.05,1199.86 775.05,1208.24 766.38,1212.43 757.70,1208.24 757.70,1199.86" fill="#481c6e" stroke="#481c6e" stroke-width="0.3"/>
<polygon points="783.73,1195.67 792.40,1199.86 792.40,1208.24 783.73,1212.43 775.05,1208.24 775.05,1199.86" fill="#470e61" stroke="#470e61" stroke-width="0.3"/>
<polygon points="818.42,1195.67 827.10,1199.86 827.10,1208.24 818.42,1212.43 809.75,1208.24 809.75,1199.86" fill="#470e61" stroke="#470e61" stroke-width="0.3"/>
<polygon points="835.78,1195.67 844.45,1199.86 844.45,1208.24 835.78,1212.43 827.10,1208.24 827.10,1199.86" fill="#470e61" stroke="#470e61" stroke-width="0.3"/>
<polygon points="853.12,1195.67 861.80,1199.86 861.80,1208.24 853.12,1212.43 844.45,1208.24 844.45,1199.86" fill="#440154" stroke="#440154" stroke-width="0.3"/>
<polygon points="922.53,1195.67 931.20,1199.86 931.20,1208.24 922.53,1212.43 913.85,1208.24 913.85,1199.86" fill="#440154" stroke="#440154" stroke-width="0.3"/>
<polygon points="636.25,1183.10 644.92,1187.29 644.92,1195.67 636.25,1199.86 627.58,1195.67 627.58,1187.29" fill="#440154" stroke="#440154" stroke-width="0.3"/>
<polygon points="653.60,1183.10 662.27,1187.29 662.27,1195.67 653.60,1199.86 644.93,1195.67 644.93,1187.29" fill="#482979" stroke="#482979" stroke-width="0.3"/>
<polygon points="688.30,1183.10 696.97,1187.29 696.97,1195.67 688.30,1199.86 679.62,1195.67 679.62,1187.29" fill="#481c6e" stroke="#481c6e" stroke-width="0.3"/>
<polygon points="705.65,1183.10 714.32,1187.29 714.32,1195.67 705.65,1199.86 696.98,1195.67 696.98,1187.29" fill="#482979" stroke="#482979" stroke-width="0.3"/>
<polygon points="723.00,1183.10 731.67,1187.29 731.67,1195.67 723.00,1199.86 714.33,1195.67 714.33,1187.29" fill="#440154" stroke="#440154" stroke-width="0.3"/>
<polygon points="740.35,1183.10 749.02,1187.29 749.02,1195.67 740.35,1199.86 731.68,1195.67 731.68,1187.29" fill="#3d4d8a" stroke="#3d4d8a" stroke-width="0.3"/>
<polygon points="757.70,1183.10 766.38,1187.29 766.38,1195.67 757.70,1199.86 749.03,1195.67 749.03,1187.29" fill="#3d4d8a" stroke="#3d4d8a" stroke-width="0.3"/>
<polygon points="775.05,1183.10 783.72,1187.29 783.72,1195.67 775.05,1199.86 766.38,1195.67 766.38,1187.29" fill="#482979" stroke="#482979" stroke-width="0.3"/>
<polygon points="792.40,1183.10 801.07,1187.29 801.07,1195.67 792.40,1199.86 783.73,1195.67 783.73,1187.29" fill="#482979" stroke="#482979" stroke-width="0.3"/>
<polygon points="809.75,1183.10 818.42,1187.29 818.42,1195.67 809.75,1199.86 801.08,1195.67 801.08,1187.29" fill="#482979" stroke="#482979" stroke-width="0.3"/>
<polygon points="844.45,1183.10 853.12,1187.29 853.12,1195.67 844.45,1199.86 835.78,1195.67 835.78,1187.29" fill="#440154" stroke="#440154" stroke-width="0.3"/>
<polygon points="879.15,1183.10 887.82,1187.29 887.82,1195.67 879.15,1199.86 870.48,1195.67 870.48,1187.29" fill="#440154" stroke="#440154" stroke-width="0.3"/>
<polygon points="662.27,1170.53 670.95,1174.72 670.95,1183.10 662.27,1187.29 653.60,1183.10 653.60,1174.72" fill="#481c6e" stroke="#481c6e" stroke-width="0.3"/>
<polygon points="679.62,1170.53 688.30,1174.72 688.30,1183.10 679.62,1187.29 670.95,1183.10 670.95,1174.72" fill="#440154" stroke="#440154" stroke-width="0.3"/>
<polygon points="696.98,1170.53 705.65,1174.72 705.65,1183.10 696.98,1187.29 688.30,1183.10 688.30,1174.72" fill="#453581" stroke="#453581" stroke-width="0.3"/>
<polygon points="714.33,1170.53 723.00,1174.72 723.00,1183.10 714.33,1187.29 705.65,1183.10 705.65,1174.72" fill="#482979" stroke="#482979" stroke-width="0.3"/>
<polygon points="731.67,1170.53 740.35,1174.72 740.35,1183.10 731.67,1187.29 723.00,1183.10 723.00,1174.72" fill="#2f6b8e" stroke="#2f6b8e" stroke-width="0.3"/>
<polygon points="749.03,1170.53 757.70,1174.72 757.70,1183.10 749.03,1187.29 740.35,1183.10 740.35,1174.72" fill="#424186" stroke="#424186" stroke-width="0.3"/>
<polygon points="766.38,1170.53 775.05,1174.72 775.05,1183.10 766.38,1187.29 757.70,1183.10 757.70,1174.72" fill="#482979" stroke="#482979" stroke-width="0.3"/>
<polygon points="783.73,1170.53 792.40,1174.72 792.40,1183.10 783.73,1187.29 775.05,1183.10 775.05,1174.72" fill="#424186" stroke="#424186" stroke-width="0.3"/>
<polygon points="801.08,1170.53 809.75,1174.72 809.75,1183.10 801.08,1187.29 792.40,1183.10 792.40,1174.72" fill="#470e61" stroke="#470e61" stroke-width="0.3"/>
<polygon points="818.42,1170.53 827.10,1174.72 827.10,1183.10 818.42,1187.29 809.75,1183.10 809.75,1174.72" fill="#440154" stroke="#440154" stroke-width="0.3"/>
<polygon points="835.78,1170.53 844.45,1174.72 844.45,1183.10 835.78,1187.29 827.10,1183.10 827.10,1174.72" fill="#482979" stroke="#482979" stroke-width="0.3"/>
<polygon points="853.12,1170.53 861.80,1174.72 861.80,1183.10 853.12,1187.29 844.45,1183.10 844.45,1174.72" fill="#440154" stroke="#440154" stroke-width="0.3"/>
<polygon points="887.83,1170.53 896.50,1174.72 896.50,1183.10 887.83,1187.29 879.15,1183.10 879.15,1174.72" fill="#440154" stroke="#440154" stroke-width="0.3"/>
<polygon points="939.88,1170.53 948.55,1174.72 948.55,1183.10 939.88,1187.29 931.20,1183.10 931.20,1174.72" fill="#440154" stroke="#440154" stroke-width="0.3"/>
<polygon points="653.60,1157.96 662.27,1162.15 662.27,1170.53 653.60,1174.72 644.93,1170.53 644.93,1162.15" fill="#481c6e" stroke="#481c6e" stroke-width="0.3"/>
<polygon points="688.30,1157.96 696.97,1162.15 696.97,1170.53 688.30,1174.72 679.62,1170.53 679.62,1162.15" fill="#2f6b8e" stroke="#2f6b8e" stroke-width="0.3"/>
<polygon points="705.65,1157.96 714.32,1162.15 714.32,1170.53 705.65,1174.72 696.98,1170.53 696.98,1162.15" fill="#40bd72" stroke="#40bd72" stroke-width="0.3"/>
<polygon points="723.00,1157.96 731.67,1162.15 731.67,1170.53 723.00,1174.72 714.33,1170.53 714.33,1162.15" fill="#40bd72" stroke="#40bd72" stroke-width="0.3"/>
<polygon points="740.35,1157.96 749.02,1162.15 749.02,1170.53 740.35,1174.72 731.68,1170.53 731.68,1162.15" fill="#1f998a" stroke="#1f998a" stroke-width="0.3"/>
<polygon points="757.70,1157.96 766.38,1162.15 766.38,1170.53 757.70,1174.72 749.03,1170.53 749.03,1162.15" fill="#31b57b" stroke="#31b57b" stroke-width="0.3"/>
<polygon points="775.05,1157.96 783.72,1162.15 783.72,1170.53 775.05,1174.72 766.38,1170.53 766.38,1162.15" fill="#2f6b8e" stroke="#2f6b8e" stroke-width="0.3"/>
<polygon points="792.40,1157.96 801.07,1162.15 801.07,1170.53 792.40,1174.72 783.73,1170.53 783.73,1162.15" fill="#34618d" stroke="#34618d" stroke-width="0.3"/>
<polygon points="809.75,1157.96 818.42,1162.15 818.42,1170.53 809.75,1174.72 801.08,1170.53 801.08,1162.15" fill="#424186" stroke="#424186" stroke-width="0.3"/>
<polygon points="827.10,1157.96 835.77,1162.15 835.77,1170.53 827.10,1174.72 818.43,1170.53 818.43,1162.15" fill="#424186" stroke="#424186" stroke-width="0.3"/>
<polygon points="844.45,1157.96 853.12,1162.15 853.12,1170.53 844.45,1174.72 835.78,1170.53 835.78,1162.15" fill="#481c6e" stroke="#481c6e" stroke-width="0.3"/>
<polygon points="861.80,1157.96 870.47,1162.15 870.47,1170.53 861.80,1174.72 853.12,1170.53 853.12,1162.15" fill="#482979" stroke="#482979" stroke-width="0.3"/>
<polygon points="879.15,1157.96 887.82,1162.15 887.82,1170.53 879.15,1174.72 870.48,1170.53 870.48,1162.15" fill="#482979" stroke="#482979" stroke-width="0.3"/>
<polygon points="896.50,1157.96 905.17,1162.15 905.17,1170.53 896.50,1174.72 887.83,1170.53 887.83,1162.15" fill="#440154" stroke="#440154" stroke-width="0.3"/>
<polygon points="931.20,1157.96 939.88,1162.15 939.88,1170.53 931.20,1174.72 922.53,1170.53 922.53,1162.15" fill="#440154" stroke="#440154" stroke-width="0.3"/>
<polygon points="662.27,1145.39 670.95,1149.58 670.95,1157.96 662.27,1162.15 653.60,1157.96 653.60,1149.58" fill="#3d4d8a" stroke="#3d4d8a" stroke-width="0.3"/>
<polygon points="696.98,1145.39 705.65,1149.58 705.65,1157.96 696.98,1162.15 688.30,1157.96 688.30,1149.58" fill="#481c6e" stroke="#481c6e" stroke-width="0.3"/>
<polygon points="714.33,1145.39 723.00,1149.58 723.00,1157.96 714.33,1162.15 705.65,1157.96 705.65,1149.58" fill="#3d4d8a" stroke="#3d4d8a" stroke-width="0.3"/>
<polygon points="731.67,1145.39 740.35,1149.58 740.35,1157.96 731.67,1162.15 723.00,1157.96 723.00,1149.58" fill="#2f6b8e" stroke="#2f6b8e" stroke-width="0.3"/>
<polygon points="749.03,1145.39 757.70,1149.58 757.70,1157.96 749.03,1162.15 740.35,1157.96 740.35,1149.58" fill="#2f6b8e" stroke="#2f6b8e" stroke-width="0.3"/>
<polygon points="766.38,1145.39 775.05,1149.58 775.05,1157.96 766.38,1162.15 757.70,1157.96 757.70,1149.58" fill="#21918c" stroke="#21918c" stroke-width="0.3"/>
<polygon points="783.73,1145.39 792.40,1149.58 792.40,1157.96 783.73,1162.15 775.05,1157.96 775.05,1149.58" fill="#424186" stroke="#424186" stroke-width="0.3"/>
<polygon points="801.08,1145.39 809.75,1149.58 809.75,1157.96 801.08,1162.15 792.40,1157.96 792.40,1149.58" fill="#3d4d8a" stroke="#3d4d8a" stroke-width="0.3"/>
<polygon points="818.42,1145.39 827.10,1149.58 827.10,1157.96 818.42,1162.15 809.75,1157.96 809.75,1149.58" fill="#34618d" stroke="#34618d" stroke-width="0.3"/>
<polygon points="835.78,1145.39 844.45,1149.58 844.45,1157.96 835.78,1162.15 827.10,1157.96 827.10,1149.58" fill="#39568c" stroke="#39568c" stroke-width="0.3"/>
<polygon points="853.12,1145.39 861.80,1149.58 861.80,1157.96 853.12,1162.15 844.45,1157.96 844.45,1149.58" fill="#440154" stroke="#440154" stroke-width="0.3"/>
<polygon points="870.48,1145.39 879.15,1149.58 879.15,1157.96 870.48,1162.15 861.80,1157.96 861.80,1149.58" fill="#470e61" stroke="#470e61" stroke-width="0.3"/>
<polygon points="905.17,1145.39 913.85,1149.58 913.85,1157.96 905.17,1162.15 896.50,1157.96 896.50,1149.58" fill="#470e61" stroke="#470e61" stroke-width="0.3"/>
<polygon points="939.88,1145.39 948.55,1149.58 948.55,1157.96 939.88,1162.15 931.20,1157.96 931.20,1149.58" fill="#440154" stroke="#440154" stroke-width="0.3"/>
<polygon points="636.25,1132.82 644.92,1137.01 644.92,1145.39 636.25,1149.58 627.58,1145.39 627.58,1137.01" fill="#440154" stroke="#440154" stroke-width="0.3"/>
<polygon points="653.60,1132.82 662.27,1137.01 662.27,1145.39 653.60,1149.58 644.93,1145.39 644.93,1137.01" fill="#453581" stroke="#453581" stroke-width="0.3"/>
<polygon points="688.30,1132.82 696.97,1137.01 696.97,1145.39 688.30,1149.58 679.62,1145.39 679.62,1137.01" fill="#482979" stroke="#482979" stroke-width="0.3"/>
<polygon points="705.65,1132.82 714.32,1137.01 714.32,1145.39 705.65,1149.58 696.98,1145.39 696.98,1137.01" fill="#39568c" stroke="#39568c" stroke-width="0.3"/>
<polygon points="723.00,1132.82 731.67,1137.01 731.67,1145.39 723.00,1149.58 714.33,1145.39 714.33,1137.01" fill="#34618d" stroke="#34618d" stroke-width="0.3"/>
<polygon points="740.35,1132.82 749.02,1137.01 749.02,1145.39 740.35,1149.58 731.68,1145.39 731.68,1137.01" fill="#fde725" stroke="#fde725" stroke-width="0.3"/>
<polygon points="757.70,1132.82 766.38,1137.01 766.38,1145.39 757.70,1149.58 749.03,1145.39 749.03,1137.01" fill="#cde11d" stroke="#cde11d" stroke-width="0.3"/>
<polygon points="775.05,1132.82 783.72,1137.01 783.72,1145.39 775.05,1149.58 766.38,1145.39 766.38,1137.01" fill="#2f6b8e" stroke="#2f6b8e" stroke-width="0.3"/>
<polygon points="792.40,1132.82 801.07,1137.01 801.07,1145.39 792.40,1149.58 783.73,1145.39 783.73,1137.01" fill="#277e8e" stroke="#277e8e" stroke-width="0.3"/>
<polygon points="809.75,1132.82 818.42,1137.01 818.42,1145.39 809.75,1149.58 801.08,1145.39 801.08,1137.01" fill="#482979" stroke="#482979" stroke-width="0.3"/>
<polygon points="827.10,1132.82 835.77,1137.01 835.77,1145.39 827.10,1149.58 818.43,1145.39 818.43,1137.01" fill="#1fa287" stroke="#1fa287" stroke-width="0.3"/>
<polygon points="844.45,1132.82 853.12,1137.01 853.12,1145.39 844.45,1149.58 835.78,1145.39 835.78,1137.01" fill="#34618d" stroke="#34618d" stroke-width="0.3"/>
<polygon points="861.80,1132.82 870.47,1137.01 870.47,1145.39 861.80,1149.58 853.12,1145.39 853.12,1137.01" fill="#424186" stroke="#424186" stroke-width="0.3"/>
<polygon points="879.15,1132.82 887.82,1137.01 887.82,1145.39 879.15,1149.58 870.48,1145.39 870.48,1137.01" fill="#453581" stroke="#453581" stroke-width="0.3"/>
<polygon points="896.50,1132.82 905.17,1137.01 905.17,1145.39 896.50,1149.58 887.83,1145.39 887.83,1137.01" fill="#470e61" stroke="#470e61" stroke-width="0.3"/>
<polygon points="913.85,1132.82 922.52,1137.01 922.52,1145.39 913.85,1149.58 905.18,1145.39 905.18,1137.01" fill="#470e61" stroke="#470e61" stroke-width="0.3"/>
<polygon points="965.90,1132.82 974.57,1137.01 974.57,1145.39 965.90,1149.58 957.23,1145.39 957.23,1137.01" fill="#470e61" stroke="#470e61" stroke-width="0.3"/>
<polygon points="662.27,1120.25 670.95,1124.44 670.95,1132.82 662.27,1137.01 653.60,1132.82 653.60,1124.44" fill="#470e61" stroke="#470e61" stroke-width="0.3"/>
<polygon points="696.98,1120.25 705.65,1124.44 705.65,1132.82 696.98,1137.01 688.30,1132.82 688.30,1124.44" fill="#440154" stroke="#440154" stroke-width="0.3"/>
<polygon points="714.33,1120.25 723.00,1124.44 723.00,1132.82 714.33,1137.01 705.65,1132.82 705.65,1124.44" fill="#21918c" stroke="#21918c" stroke-width="0.3"/>
<polygon points="731.67,1120.25 740.35,1124.44 740.35,1132.82 731.67,1137.01 723.00,1132.82 723.00,1124.44" fill="#25ac82" stroke="#25ac82" stroke-width="0.3"/>
<polygon points="749.03,1120.25 757.70,1124.44 757.70,1132.82 749.03,1137.01 740.35,1132.82 740.35,1124.44" fill="#98d83e" stroke="#98d83e" stroke-width="0.3"/>
<polygon points="766.38,1120.25 775.05,1124.44 775.05,1132.82 766.38,1137.01 757.70,1132.82 757.70,1124.44" fill="#31b57b" stroke="#31b57b" stroke-width="0.3"/>
<polygon points="783.73,1120.25 792.40,1124.44 792.40,1132.82 783.73,1137.01 775.05,1132.82 775.05,1124.44" fill="#e7e419" stroke="#e7e419" stroke-width="0.3"/>
<polygon points="801.08,1120.25 809.75,1124.44 809.75,1132.82 801.08,1137.01 792.40,1132.82 792.40,1124.44" fill="#2b748e" stroke="#2b748e" stroke-width="0.3"/>
<polygon points="818.42,1120.25 827.10,1124.44 827.10,1132.82 818.42,1137.01 809.75,1132.82 809.75,1124.44" fill="#2b748e" stroke="#2b748e" stroke-width="0.3"/>
<polygon points="835.78,1120.25 844.45,1124.44 844.45,1132.82 835.78,1137.01 827.10,1132.82 827.10,1124.44" fill="#2b748e" stroke="#2b748e" stroke-width="0.3"/>
<polygon points="853.12,1120.25 861.80,1124.44 861.80,1132.82 853.12,1137.01 844.45,1132.82 844.45,1124.44" fill="#34618d" stroke="#34618d" stroke-width="0.3"/>
<polygon points="870.48,1120.25 879.15,1124.44 879.15,1132.82 870.48,1137.01 861.80,1132.82 861.80,1124.44" fill="#277e8e" stroke="#277e8e" stroke-width="0.3"/>
<polygon points="887.83,1120.25 896.50,1124.44 896.50,1132.82 887.83,1137.01 879.15,1132.82 879.15,1124.44" fill="#3d4d8a" stroke="#3d4d8a" stroke-width="0.3"/>
<polygon points="905.17,1120.25 913.85,1124.44 913.85,1132.82 905.17,1137.01 896.50,1132.82 896.50,1124.44" fill="#39568c" stroke="#39568c" stroke-width="0.3"/>
<polygon points="922.53,1120.25 931.20,1124.44 931.20,1132.82 922.53,1137.01 913.85,1132.82 913.85,1124.44" fill="#481c6e" stroke="#481c6e" stroke-width="0.3"/>
<polygon points="939.88,1120.25 948.55,1124.44 948.55,1132.82 939.88,1137.01 931.20,1132.82 931.20,1124.44" fill="#481c6e" stroke="#481c6e" stroke-width="0.3"/>
<polygon points="653.60,1107.68 662.27,1111.87 662.27,1120.25 653.60,1124.44 644.93,1120.25 644.93,1111.87" fill="#440154" stroke="#440154" stroke-width="0.3"/>
<polygon points="688.30,1107.68 696.97,1111.87 696.97,1120.25 688.30,1124.44 679.62,1120.25 679.62,1111.87" fill="#481c6e" stroke="#481c6e" stroke-width="0.3"/>
<polygon points="705.65,1107.68 714.32,1111.87 714.32,1120.25 705.65,1124.44 696.98,1120.25 696.98,1111.87" fill="#453581" stroke="#453581" stroke-width="0.3"/>
<polygon points="723.00,1107.68 731.67,1111.87 731.67,1120.25 723.00,1124.44 714.33,1120.25 714.33,1111.87" fill="#481c6e" stroke="#481c6e" stroke-width="0.3"/>
<polygon points="740.35,1107.68 749.02,1111.87 749.02,1120.25 740.35,1124.44 731.68,1120.25 731.68,1111.87" fill="#1f998a" stroke="#1f998a" stroke-width="0.3"/>
<polygon points="757.70,1107.68 766.38,1111.87 766.38,1120.25 757.70,1124.44 749.03,1120.25 749.03,1111.87" fill="#424186" stroke="#424186" stroke-width="0.3"/>
<polygon points="775.05,1107.68 783.72,1111.87 783.72,1120.25 775.05,1124.44 766.38,1120.25 766.38,1111.87" fill="#67cc5c" stroke="#67cc5c" stroke-width="0.3"/>
<polygon points="792.40,1107.68 801.07,1111.87 801.07,1120.25 792.40,1124.44 783.73,1120.25 783.73,1111.87" fill="#1f998a" stroke="#1f998a" stroke-width="0.3"/>
<polygon points="809.75,1107.68 818.42,1111.87 818.42,1120.25 809.75,1124.44 801.08,1120.25 801.08,1111.87" fill="#2b748e" stroke="#2b748e" stroke-width="0.3"/>
<polygon points="827.10,1107.68 835.77,1111.87 835.77,1120.25 827.10,1124.44 818.43,1120.25 818.43,1111.87" fill="#40bd72" stroke="#40bd72" stroke-width="0.3"/>
<polygon points="844.45,1107.68 853.12,1111.87 853.12,1120.25 844.45,1124.44 835.78,1120.25 835.78,1111.87" fill="#31b57b" stroke="#31b57b" stroke-width="0.3"/>
<polygon points="861.80,1107.68 870.47,1111.87 870.47,1120.25 861.80,1124.44 853.12,1120.25 853.12,1111.87" fill="#2b748e" stroke="#2b748e" stroke-width="0.3"/>
<polygon points="879.15,1107.68 887.82,1111.87 887.82,1120.25 879.15,1124.44 870.48,1120.25 870.48,1111.87" fill="#277e8e" stroke="#277e8e" stroke-width="0.3"/>
<polygon points="896.50,1107.68 905.17,1111.87 905.17,1120.25 896.50,1124.44 887.83,1120.25 887.83,1111.87" fill="#277e8e" stroke="#277e8e" stroke-width="0.3"/>
<polygon points="913.85,1107.68 922.52,1111.87 922.52,1120.25 913.85,1124.44 905.18,1120.25 905.18,1111.87" fill="#277e8e" stroke="#277e8e" stroke-width="0.3"/>
<polygon points="931.20,1107.68 939.88,1111.87 939.88,1120.25 931.20,1124.44 922.53,1120.25 922.53,1111.87" fill="#482979" stroke="#482979" stroke-width="0.3"/>
<polygon points="948.55,1107.68 957.23,1111.87 957.23,1120.25 948.55,1124.44 939.88,1120.25 939.88,1111.87" fill="#470e61" stroke="#470e61" stroke-width="0.3"/>
<polygon points="1000.60,1107.68 1009.27,1111.87 1009.27,1120.25 1000.60,1124.44 991.93,1120.25 991.93,1111.87" fill="#440154" stroke="#440154" stroke-width="0.3"/>
<polygon points="714.33,1095.11 723.00,1099.30 723.00,1107.68 714.33,1111.87 705.65,1107.68 705.65,1099.30" fill="#453581" stroke="#453581" stroke-width="0.3"/>
<polygon points="731.67,1095.11 740.35,1099.30 740.35,1107.68 731.67,1111.87 723.00,1107.68 723.00,1099.30" fill="#3d4d8a" stroke="#3d4d8a" stroke-width="0.3"/>
<polygon points="749.03,1095.11 757.70,1099.30 757.70,1107.68 749.03,1111.87 740.35,1107.68 740.35,1099.30" fill="#40bd72" stroke="#40bd72" stroke-width="0.3"/>
<polygon points="766.38,1095.11 775.05,1099.30 775.05,1107.68 766.38,1111.87 757.70,1107.68 757.70,1099.30" fill="#1fa287" stroke="#1fa287" stroke-width="0.3"/>
<polygon points="783.73,1095.11 792.40,1099.30 792.40,1107.68 783.73,1111.87 775.05,1107.68 775.05,1099.30" fill="#34618d" stroke="#34618d" stroke-width="0.3"/>
<polygon points="801.08,1095.11 809.75,1099.30 809.75,1107.68 801.08,1111.87 792.40,1107.68 792.40,1099.30" fill="#1fa287" stroke="#1fa287" stroke-width="0.3"/>
<polygon points="818.42,1095.11 827.10,1099.30 827.10,1107.68 818.42,1111.87 809.75,1107.68 809.75,1099.30" fill="#31b57b" stroke="#31b57b" stroke-width="0.3"/>
<polygon points="835.78,1095.11 844.45,1099.30 844.45,1107.68 835.78,1111.87 827.10,1107.68 827.10,1099.30" fill="#34618d" stroke="#34618d" stroke-width="0.3"/>
<polygon points="853.12,1095.11 861.80,1099.30 861.80,1107.68 853.12,1111.87 844.45,1107.68 844.45,1099.30" fill="#98d83e" stroke="#98d83e" stroke-width="0.3"/>
<polygon points="870.48,1095.11 879.15,1099.30 879.15,1107.68 870.48,1111.87 861.80,1107.68 861.80,1099.30" fill="#1f998a" stroke="#1f998a" stroke-width="0.3"/>
<polygon points="887.83,1095.11 896.50,1099.30 896.50,1107.68 887.83,1111.87 879.15,1107.68 879.15,1099.30" fill="#67cc5c" stroke="#67cc5c" stroke-width="0.3"/>
<polygon points="905.17,1095.11 913.85,1099.30 913.85,1107.68 905.17,1111.87 896.50,1107.68 896.50,1099.30" fill="#40bd72" stroke="#40bd72" stroke-width="0.3"/>
<polygon points="922.53,1095.11 931.20,1099.30 931.20,1107.68 922.53,1111.87 913.85,1107.68 913.85,1099.30" fill="#2f6b8e" stroke="#2f6b8e" stroke-width="0.3"/>
<polygon points="939.88,1095.11 948.55,1099.30 948.55,1107.68 939.88,1111.87 931.20,1107.68 931.20,1099.30" fill="#482979" stroke="#482979" stroke-width="0.3"/>
<polygon points="957.23,1095.11 965.90,1099.30 965.90,1107.68 957.23,1111.87 948.55,1107.68 948.55,1099.30" fill="#453581" stroke="#453581" stroke-width="0.3"/>
<polygon points="974.58,1095.11 983.25,1099.30 983.25,1107.68 974.58,1111.87 965.90,1107.68 965.90,1099.30" fill="#481c6e" stroke="#481c6e" stroke-width="0.3"/>
<polygon points="991.92,1095.11 1000.60,1099.30 1000.60,1107.68 991.92,1111.87 983.25,1107.68 983.25,1099.30" fill="#440154" stroke="#440154" stroke-width="0.3"/>
<polygon points="1009.27,1095.11 1017.95,1099.30 1017.95,1107.68 1009.27,1111.87 1000.60,1107.68 1000.60,1099.30" fill="#470e61" stroke="#470e61" stroke-width="0.3"/>
<polygon points="740.35,1082.54 749.02,1086.73 749.02,1095.11 740.35,1099.30 731.68,1095.11 731.68,1086.73" fill="#424186" stroke="#424186" stroke-width="0.3"/>
<polygon points="775.05,1082.54 783.72,1086.73 783.72,1095.11 775.05,1099.30 766.38,1095.11 766.38,1086.73" fill="#440154" stroke="#440154" stroke-width="0.3"/>
<polygon points="792.40,1082.54 801.07,1086.73 801.07,1095.11 792.40,1099.30 783.73,1095.11 783.73,1086.73" fill="#481c6e" stroke="#481c6e" stroke-width="0.3"/>
<polygon points="809.75,1082.54 818.42,1086.73 818.42,1095.11 809.75,1099.30 801.08,1095.11 801.08,1086.73" fill="#25ac82" stroke="#25ac82" stroke-width="0.3"/>
<polygon points="827.10,1082.54 835.77,1086.73 835.77,1095.11 827.10,1099.30 818.43,1095.11 818.43,1086.73" fill="#277e8e" stroke="#277e8e" stroke-width="0.3"/>
<polygon points="844.45,1082.54 853.12,1086.73 853.12,1095.11 844.45,1099.30 835.78,1095.11 835.78,1086.73" fill="#1f998a" stroke="#1f998a" stroke-width="0.3"/>
<polygon points="861.80,1082.54 870.47,1086.73 870.47,1095.11 861.80,1099.30 853.12,1095.11 853.12,1086.73" fill="#277e8e" stroke="#277e8e" stroke-width="0.3"/>
<polygon points="879.15,1082.54 887.82,1086.73 887.82,1095.11 879.15,1099.30 870.48,1095.11 870.48,1086.73" fill="#24878e" stroke="#24878e" stroke-width="0.3"/>
<polygon points="896.50,1082.54 905.17,1086.73 905.17,1095.11 896.50,1099.30 887.83,1095.11 887.83,1086.73" fill="#24878e" stroke="#24878e" stroke-width="0.3"/>
<polygon points="913.85,1082.54 922.52,1086.73 922.52,1095.11 913.85,1099.30 905.18,1095.11 905.18,1086.73" fill="#3d4d8a" stroke="#3d4d8a" stroke-width="0.3"/>
<polygon points="931.20,1082.54 939.88,1086.73 939.88,1095.11 931.20,1099.30 922.53,1095.11 922.53,1086.73" fill="#3d4d8a" stroke="#3d4d8a" stroke-width="0.3"/>
<polygon points="948.55,1082.54 957.23,1086.73 957.23,1095.11 948.55,1099.30 939.88,1095.11 939.88,1086.73" fill="#424186" stroke="#424186" stroke-width="0.3"/>
<polygon points="965.90,1082.54 974.57,1086.73 974.57,1095.11 965.90,1099.30 957.23,1095.11 957.23,1086.73" fill="#481c6e" stroke="#481c6e" stroke-width="0.3"/>
<polygon points="1000.60,1082.54 1009.27,1086.73 1009.27,1095.11 1000.60,1099.30 991.93,1095.11 991.93,1086.73" fill="#440154" stroke="#440154" stroke-width="0.3"/>
<polygon points="757.70,1082.54 766.38,1086.73 766.38,1095.11 757.70,1099.30 749.03,1095.11 749.03,1086.73" fill="#440154" stroke="#440154" stroke-width="0.3"/>
<polygon points="723.00,1082.54 731.67,1086.73 731.67,1095.11 723.00,1099.30 714.33,1095.11 714.33,1086.73" fill="#440154" stroke="#440154" stroke-width="0.3"/>
<polygon points="731.67,1069.97 740.35,1074.16 740.35,1082.54 731.67,1086.73 723.00,1082.54 723.00,1074.16" fill="#481c6e" stroke="#481c6e" stroke-width="0.3"/>
<polygon points="766.38,1069.97 775.05,1074.16 775.05,1082.54 766.38,1086.73 757.70,1082.54 757.70,1074.16" fill="#440154" stroke="#440154" stroke-width="0.3"/>
<polygon points="783.73,1069.97 792.40,1074.16 792.40,1082.54 783.73,1086.73 775.05,1082.54 775.05,1074.16" fill="#470e61" stroke="#470e61" stroke-width="0.3"/>
<polygon points="801.08,1069.97 809.75,1074.16 809.75,1082.54 801.08,1086.73 792.40,1082.54 792.40,1074.16" fill="#3d4d8a" stroke="#3d4d8a" stroke-width="0.3"/>
<polygon points="818.42,1069.97 827.10,1074.16 827.10,1082.54 818.42,1086.73 809.75,1082.54 809.75,1074.16" fill="#424186" stroke="#424186" stroke-width="0.3"/>
<polygon points="835.78,1069.97 844.45,1074.16 844.45,1082.54 835.78,1086.73 827.10,1082.54 827.10,1074.16" fill="#2b748e" stroke="#2b748e" stroke-width="0.3"/>
<polygon points="853.12,1069.97 861.80,1074.16 861.80,1082.54 853.12,1086.73 844.45,1082.54 844.45,1074.16" fill="#2f6b8e" stroke="#2f6b8e" stroke-width="0.3"/>
<polygon points="870.48,1069.97 879.15,1074.16 879.15,1082.54 870.48,1086.73 861.80,1082.54 861.80,1074.16" fill="#424186" stroke="#424186" stroke-width="0.3"/>
<polygon points="887.83,1069.97 896.50,1074.16 896.50,1082.54 887.83,1086.73 879.15,1082.54 879.15,1074.16" fill="#2b748e" stroke="#2b748e" stroke-width="0.3"/>
<polygon points="905.17,1069.97 913.85,1074.16 913.85,1082.54 905.17,1086.73 896.50,1082.54 896.50,1074.16" fill="#21918c" stroke="#21918c" stroke-width="0.3"/>
<polygon points="922.53,1069.97 931.20,1074.16 931.20,1082.54 922.53,1086.73 913.85,1082.54 913.85,1074.16" fill="#2f6b8e" stroke="#2f6b8e" stroke-width="0.3"/>
<polygon points="939.88,1069.97 948.55,1074.16 948.55,1082.54 939.88,1086.73 931.20,1082.54 931.20,1074.16" fill="#21918c" stroke="#21918c" stroke-width="0.3"/>
<polygon points="957.23,1069.97 965.90,1074.16 965.90,1082.54 957.23,1086.73 948.55,1082.54 948.55,1074.16" fill="#34618d" stroke="#34618d" stroke-width="0.3"/>
<polygon points="974.58,1069.97 983.25,1074.16 983.25,1082.54 974.58,1086.73 965.90,1082.54 965.90,1074.16" fill="#453581" stroke="#453581" stroke-width="0.3"/>
<polygon points="991.92,1069.97 1000.60,1074.16 1000.60,1082.54 991.92,1086.73 983.25,1082.54 983.25,1074.16" fill="#440154" stroke="#440154" stroke-width="0.3"/>
<polygon points="1009.27,1069.97 1017.95,1074.16 1017.95,1082.54 1009.27,1086.73 1000.60,1082.54 1000.60,1074.16" fill="#440154" stroke="#440154" stroke-width="0.3"/>
<polygon points="1026.62,1069.97 1035.30,1074.16 1035.30,1082.54 1026.62,1086.73 1017.95,1082.54 1017.95,1074.16" fill="#440154" stroke="#440154" stroke-width="0.3"/>
<polygon points="1043.97,1069.97 1052.65,1074.16 1052.65,1082.54 1043.97,1086.73 1035.30,1082.54 1035.30,1074.16" fill="#440154" stroke="#440154" stroke-width="0.3"/>
<polygon points="1061.32,1069.97 1070.00,1074.16 1070.00,1082.54 1061.32,1086.73 1052.65,1082.54 1052.65,1074.16" fill="#440154" stroke="#440154" stroke-width="0.3"/>
<polygon points="740.35,1057.40 749.02,1061.59 749.02,1069.97 740.35,1074.16 731.68,1069.97 731.68,1061.59" fill="#440154" stroke="#440154" stroke-width="0.3"/>
<polygon points="809.75,1057.40 818.42,1061.59 818.42,1069.97 809.75,1074.16 801.08,1069.97 801.08,1061.59" fill="#39568c" stroke="#39568c" stroke-width="0.3"/>
<polygon points="827.10,1057.40 835.77,1061.59 835.77,1069.97 827.10,1074.16 818.43,1069.97 818.43,1061.59" fill="#481c6e" stroke="#481c6e" stroke-width="0.3"/>
<polygon points="844.45,1057.40 853.12,1061.59 853.12,1069.97 844.45,1074.16 835.78,1069.97 835.78,1061.59" fill="#34618d" stroke="#34618d" stroke-width="0.3"/>
<polygon points="861.80,1057.40 870.47,1061.59 870.47,1069.97 861.80,1074.16 853.12,1069.97 853.12,1061.59" fill="#424186" stroke="#424186" stroke-width="0.3"/>
<polygon points="879.15,1057.40 887.82,1061.59 887.82,1069.97 879.15,1074.16 870.48,1069.97 870.48,1061.59" fill="#482979" stroke="#482979" stroke-width="0.3"/>
<polygon points="896.50,1057.40 905.17,1061.59 905.17,1069.97 896.50,1074.16 887.83,1069.97 887.83,1061.59" fill="#3d4d8a" stroke="#3d4d8a" stroke-width="0.3"/>
<polygon points="913.85,1057.40 922.52,1061.59 922.52,1069.97 913.85,1074.16 905.18,1069.97 905.18,1061.59" fill="#34618d" stroke="#34618d" stroke-width="0.3"/>
<polygon points="931.20,1057.40 939.88,1061.59 939.88,1069.97 931.20,1074.16 922.53,1069.97 922.53,1061.59" fill="#424186" stroke="#424186" stroke-width="0.3"/>
<polygon points="948.55,1057.40 957.23,1061.59 957.23,1069.97 948.55,1074.16 939.88,1069.97 939.88,1061.59" fill="#2b748e" stroke="#2b748e" stroke-width="0.3"/>
<polygon points="965.90,1057.40 974.57,1061.59 974.57,1069.97 965.90,1074.16 957.23,1069.97 957.23,1061.59" fill="#453581" stroke="#453581" stroke-width="0.3"/>
<polygon points="983.25,1057.40 991.92,1061.59 991.92,1069.97 983.25,1074.16 974.58,1069.97 974.58,1061.59" fill="#470e61" stroke="#470e61" stroke-width="0.3"/>
<polygon points="1000.60,1057.40 1009.27,1061.59 1009.27,1069.97 1000.60,1074.16 991.93,1069.97 991.93,1061.59" fill="#440154" stroke="#440154" stroke-width="0.3"/>
<polygon points="1017.95,1057.40 1026.62,1061.59 1026.62,1069.97 1017.95,1074.16 1009.28,1069.97 1009.28,1061.59" fill="#440154" stroke="#440154" stroke-width="0.3"/>
<polygon points="1035.30,1057.40 1043.98,1061.59 1043.98,1069.97 1035.30,1074.16 1026.63,1069.97 1026.63,1061.59" fill="#440154" stroke="#440154" stroke-width="0.3"/>
<polygon points="1052.65,1057.40 1061.33,1061.59 1061.33,1069.97 1052.65,1074.16 1043.98,1069.97 1043.98,1061.59" fill="#440154" stroke="#440154" stroke-width="0.3"/>
<polygon points="723.00,1057.40 731.67,1061.59 731.67,1069.97 723.00,1074.16 714.33,1069.97 714.33,1061.59" fill="#440154" stroke="#440154" stroke-width="0.3"/>
<polygon points="757.70,1057.40 766.38,1061.59 766.38,1069.97 757.70,1074.16 749.03,1069.97 749.03,1061.59" fill="#440154" stroke="#440154" stroke-width="0.3"/>
<polygon points="792.40,1057.40 801.07,1061.59 801.07,1069.97 792.40,1074.16 783.73,1069.97 783.73,1061.59" fill="#470e61" stroke="#470e61" stroke-width="0.3"/>
<polygon points="775.05,1057.40 783.72,1061.59 783.72,1069.97 775.05,1074.16 766.38,1069.97 766.38,1061.59" fill="#481c6e" stroke="#481c6e" stroke-width="0.3"/>
<polygon points="749.03,1044.83 757.70,1049.02 757.70,1057.40 749.03,1061.59 740.35,1057.40 740.35,1049.02" fill="#470e61" stroke="#470e61" stroke-width="0.3"/>
<polygon points="766.38,1044.83 775.05,1049.02 775.05,1057.40 766.38,1061.59 757.70,1057.40 757.70,1049.02" fill="#470e61" stroke="#470e61" stroke-width="0.3"/>
<polygon points="783.73,1044.83 792.40,1049.02 792.40,1057.40 783.73,1061.59 775.05,1057.40 775.05,1049.02" fill="#481c6e" stroke="#481c6e" stroke-width="0.3"/>
<polygon points="801.08,1044.83 809.75,1049.02 809.75,1057.40 801.08,1061.59 792.40,1057.40 792.40,1049.02" fill="#440154" stroke="#440154" stroke-width="0.3"/>
<polygon points="818.42,1044.83 827.10,1049.02 827.10,1057.40 818.42,1061.59 809.75,1057.40 809.75,1049.02" fill="#470e61" stroke="#470e61" stroke-width="0.3"/>
<polygon points="853.12,1044.83 861.80,1049.02 861.80,1057.40 853.12,1061.59 844.45,1057.40 844.45,1049.02" fill="#470e61" stroke="#470e61" stroke-width="0.3"/>
<polygon points="870.48,1044.83 879.15,1049.02 879.15,1057.40 870.48,1061.59 861.80,1057.40 861.80,1049.02" fill="#470e61" stroke="#470e61" stroke-width="0.3"/>
<polygon points="887.83,1044.83 896.50,1049.02 896.50,1057.40 887.83,1061.59 879.15,1057.40 879.15,1049.02" fill="#470e61" stroke="#470e61" stroke-width="0.3"/>
<polygon points="905.17,1044.83 913.85,1049.02 913.85,1057.40 905.17,1061.59 896.50,1057.40 896.50,1049.02" fill="#470e61" stroke="#470e61" stroke-width="0.3"/>
<polygon points="922.53,1044.83 931.20,1049.02 931.20,1057.40 922.53,1061.59 913.85,1057.40 913.85,1049.02" fill="#440154" stroke="#440154" stroke-width="0.3"/>
<polygon points="939.88,1044.83 948.55,1049.02 948.55,1057.40 939.88,1061.59 931.20,1057.40 931.20,1049.02" fill="#440154" stroke="#440154" stroke-width="0.3"/>
<polygon points="957.23,1044.83 965.90,1049.02 965.90,1057.40 957.23,1061.59 948.55,1057.40 948.55,1049.02" fill="#453581" stroke="#453581" stroke-width="0.3"/>
<polygon points="974.58,1044.83 983.25,1049.02 983.25,1057.40 974.58,1061.59 965.90,1057.40 965.90,1049.02" fill="#440154" stroke="#440154" stroke-width="0.3"/>
<polygon points="991.92,1044.83 1000.60,1049.02 1000.60,1057.40 991.92,1061.59 983.25,1057.40 983.25,1049.02" fill="#481c6e" stroke="#481c6e" stroke-width="0.3"/>
<polygon points="740.35,1032.26 749.02,1036.45 749.02,1044.83 740.35,1049.02 731.68,1044.83 731.68,1036.45" fill="#440154" stroke="#440154" stroke-width="0.3"/>
<polygon points="809.75,1032.26 818.42,1036.45 818.42,1044.83 809.75,1049.02 801.08,1044.83 801.08,1036.45" fill="#481c6e" stroke="#481c6e" stroke-width="0.3"/>
<polygon points="844.45,1032.26 853.12,1036.45 853.12,1044.83 844.45,1049.02 835.78,1044.83 835.78,1036.45" fill="#470e61" stroke="#470e61" stroke-width="0.3"/>
<polygon points="879.15,1032.26 887.82,1036.45 887.82,1044.83 879.15,1049.02 870.48,1044.83 870.48,1036.45" fill="#440154" stroke="#440154" stroke-width="0.3"/>
<polygon points="896.50,1032.26 905.17,1036.45 905.17,1044.83 896.50,1049.02 887.83,1044.83 887.83,1036.45" fill="#470e61" stroke="#470e61" stroke-width="0.3"/>
<polygon points="913.85,1032.26 922.52,1036.45 922.52,1044.83 913.85,1049.02 905.18,1044.83 905.18,1036.45" fill="#440154" stroke="#440154" stroke-width="0.3"/>
<polygon points="931.20,1032.26 939.88,1036.45 939.88,1044.83 931.20,1049.02 922.53,1044.83 922.53,1036.45" fill="#482979" stroke="#482979" stroke-width="0.3"/>
<polygon points="948.55,1032.26 957.23,1036.45 957.23,1044.83 948.55,1049.02 939.88,1044.83 939.88,1036.45" fill="#482979" stroke="#482979" stroke-width="0.3"/>
<polygon points="965.90,1032.26 974.57,1036.45 974.57,1044.83 965.90,1049.02 957.23,1044.83 957.23,1036.45" fill="#440154" stroke="#440154" stroke-width="0.3"/>
<polygon points="983.25,1032.26 991.92,1036.45 991.92,1044.83 983.25,1049.02 974.58,1044.83 974.58,1036.45" fill="#470e61" stroke="#470e61" stroke-width="0.3"/>
<polygon points="1000.60,1032.26 1009.27,1036.45 1009.27,1044.83 1000.60,1049.02 991.93,1044.83 991.93,1036.45" fill="#481c6e" stroke="#481c6e" stroke-width="0.3"/>
<polygon points="1035.30,1032.26 1043.98,1036.45 1043.98,1044.83 1035.30,1049.02 1026.63,1044.83 1026.63,1036.45" fill="#440154" stroke="#440154" stroke-width="0.3"/>
<polygon points="783.73,1019.69 792.40,1023.88 792.40,1032.26 783.73,1036.45 775.05,1032.26 775.05,1023.88" fill="#481c6e" stroke="#481c6e" stroke-width="0.3"/>
<polygon points="818.42,1019.69 827.10,1023.88 827.10,1032.26 818.42,1036.45 809.75,1032.26 809.75,1023.88" fill="#440154" stroke="#440154" stroke-width="0.3"/>
<polygon points="853.12,1019.69 861.80,1023.88 861.80,1032.26 853.12,1036.45 844.45,1032.26 844.45,1023.88" fill="#440154" stroke="#440154" stroke-width="0.3"/>
<polygon points="887.83,1019.69 896.50,1023.88 896.50,1032.26 887.83,1036.45 879.15,1032.26 879.15,1023.88" fill="#470e61" stroke="#470e61" stroke-width="0.3"/>
<polygon points="922.53,1019.69 931.20,1023.88 931.20,1032.26 922.53,1036.45 913.85,1032.26 913.85,1023.88" fill="#470e61" stroke="#470e61" stroke-width="0.3"/>
<polygon points="939.88,1019.69 948.55,1023.88 948.55,1032.26 939.88,1036.45 931.20,1032.26 931.20,1023.88" fill="#481c6e" stroke="#481c6e" stroke-width="0.3"/>
<polygon points="1009.27,1019.69 1017.95,1023.88 1017.95,1032.26 1009.27,1036.45 1000.60,1032.26 1000.60,1023.88" fill="#440154" stroke="#440154" stroke-width="0.3"/>
<polygon points="1026.62,1019.69 1035.30,1023.88 1035.30,1032.26 1026.62,1036.45 1017.95,1032.26 1017.95,1023.88" fill="#440154" stroke="#440154" stroke-width="0.3"/>
<polygon points="757.70,1007.12 766.38,1011.31 766.38,1019.69 757.70,1023.88 749.03,1019.69 749.03,1011.31" fill="#440154" stroke="#440154" stroke-width="0.3"/>
<polygon points="827.10,1007.12 835.77,1011.31 835.77,1019.69 827.10,1023.88 818.43,1019.69 818.43,1011.31" fill="#440154" stroke="#440154" stroke-width="0.3"/>
<polygon points="844.45,1007.12 853.12,1011.31 853.12,1019.69 844.45,1023.88 835.78,1019.69 835.78,1011.31" fill="#440154" stroke="#440154" stroke-width="0.3"/>
<polygon points="896.50,1007.12 905.17,1011.31 905.17,1019.69 896.50,1023.88 887.83,1019.69 887.83,1011.31" fill="#440154" stroke="#440154" stroke-width="0.3"/>
<polygon points="965.90,1007.12 974.57,1011.31 974.57,1019.69 965.90,1023.88 957.23,1019.69 957.23,1011.31" fill="#440154" stroke="#440154" stroke-width="0.3"/>
<polygon points="792.40,1007.12 801.07,1011.31 801.07,1019.69 792.40,1023.88 783.73,1019.69 783.73,1011.31" fill="#440154" stroke="#440154" stroke-width="0.3"/>
<polygon points="775.05,981.98 783.72,986.17 783.72,994.55 775.05,998.74 766.38,994.55 766.38,986.17" fill="#440154" stroke="#440154" stroke-width="0.3"/>
<polygon points="792.40,981.98 801.07,986.17 801.07,994.55 792.40,998.74 783.73,994.55 783.73,986.17" fill="#481c6e" stroke="#481c6e" stroke-width="0.3"/>
<polygon points="827.10,981.98 835.77,986.17 835.77,994.55 827.10,998.74 818.43,994.55 818.43,986.17" fill="#470e61" stroke="#470e61" stroke-width="0.3"/>
<polygon points="844.45,981.98 853.12,986.17 853.12,994.55 844.45,998.74 835.78,994.55 835.78,986.17" fill="#440154" stroke="#440154" stroke-width="0.3"/>
<polygon points="879.15,981.98 887.82,986.17 887.82,994.55 879.15,998.74 870.48,994.55 870.48,986.17" fill="#440154" stroke="#440154" stroke-width="0.3"/>
<polygon points="801.08,969.41 809.75,973.60 809.75,981.98 801.08,986.17 792.40,981.98 792.40,973.60" fill="#440154" stroke="#440154" stroke-width="0.3"/>
<polygon points="853.12,969.41 861.80,973.60 861.80,981.98 853.12,986.17 844.45,981.98 844.45,973.60" fill="#440154" stroke="#440154" stroke-width="0.3"/>
<polygon points="870.48,969.41 879.15,973.60 879.15,981.98 870.48,986.17 861.80,981.98 861.80,973.60" fill="#440154" stroke="#440154" stroke-width="0.3"/>
<polygon points="887.83,893.99 896.50,898.18 896.50,906.56 887.83,910.75 879.15,906.56 879.15,898.18" fill="#440154" stroke="#440154" stroke-width="0.3"/>
<line x1="799.45" y1="885.05" x2="799.45" y2="1284.5" stroke="#000" stroke-width="2.4"/>
<line x1="615.8" y1="1099.30" x2="1081.9" y2="1099.30" stroke="#000" stroke-width="2.4"/>
<rect x="924.30" y="903.25" width="115.6" height="42.5" rx="6" ry="6" fill="#fff" stroke="#000" stroke-width="1.6"/>
<text x="981.60" y="937.10" font-size="35" text-anchor="middle" fill="#000">72.9%</text>
<rect x="615.8" y="885.05" width="466.10" height="399.45" fill="none" stroke="#333333" stroke-width="1.6"/>
<rect x="134.8" y="2.2" width="466.10" height="53.40" fill="#d9d9d9" stroke="#333333" stroke-width="1.6"/>
<text x="367.85" y="42.0" font-size="36.5" text-anchor="middle" fill="#000">False</text>
<rect x="615.8" y="2.2" width="466.10" height="53.40" fill="#d9d9d9" stroke="#333333" stroke-width="1.6"/>
<text x="848.85" y="42.0" font-size="36.5" text-anchor="middle" fill="#000">True</text>
<rect x="1082.7" y="56.75" width="53.60" height="399.45" fill="#d9d9d9" stroke="#333333" stroke-width="1.6"/>
<text transform="translate(1096.7 256.48) rotate(90)" x="0" y="0" font-size="36.5" text-anchor="middle" fill="#000">Logit</text>
<rect x="1082.7" y="470.9" width="53.60" height="399.45" fill="#d9d9d9" stroke="#333333" stroke-width="1.6"/>
<text transform="translate(1096.7 670.62) rotate(90)" x="0" y="0" font-size="36.5" text-anchor="middle" fill="#000">MLP</text>
<rect x="1082.7" y="885.05" width="53.60" height="399.45" fill="#d9d9d9" stroke="#333333" stroke-width="1.6"/>
<text transform="translate(1096.7 1084.78) rotate(90)" x="0" y="0" font-size="36.5" text-anchor="middle" fill="#000">XGB</text>
<line x1="127.6" y1="58.10" x2="134.8" y2="58.10" stroke="#333333" stroke-width="2"/>
<text x="122.0" y="71.30" font-size="36.5" text-anchor="end" fill="#000">1000</text>
<line x1="127.6" y1="184.30" x2="134.8" y2="184.30" stroke="#333333" stroke-width="2"/>
<text x="122.0" y="197.50" font-size="36.5" text-anchor="end" fill="#000">100</text>
<line x1="127.6" y1="306.40" x2="134.8" y2="306.40" stroke="#333333" stroke-width="2"/>
<text x="122.0" y="319.60" font-size="36.5" text-anchor="end" fill="#000">10</text>
<line x1="127.6" y1="400.30" x2="134.8" y2="400.30" stroke="#333333" stroke-width="2"/>
<text x="122.0" y="413.50" font-size="36.5" text-anchor="end" fill="#000">1</text>
<line x1="127.6" y1="472.25" x2="134.8" y2="472.25" stroke="#333333" stroke-width="2"/>
<text x="122.0" y="485.45" font-size="36.5" text-anchor="end" fill="#000">1000</text>
<line x1="127.6" y1="598.45" x2="134.8" y2="598.45" stroke="#333333" stroke-width="2"/>
<text x="122.0" y="611.65" font-size="36.5" text-anchor="end" fill="#000">100</text>
<line x1="127.6" y1="720.55" x2="134.8" y2="720.55" stroke="#333333" stroke-width="2"/>
<text x="122.0" y="733.75" font-size="36.5" text-anchor="end" fill="#000">10</text>
<line x1="127.6" y1="814.45" x2="134.8" y2="814.45" stroke="#333333" stroke-width="2"/>
<text x="122.0" y="827.65" font-size="36.5" text-anchor="end" fill="#000">1</text>
<line x1="127.6" y1="886.40" x2="134.8" y2="886.40" stroke="#333333" stroke-width="2"/>
<text x="122.0" y="899.60" font-size="36.5" text-anchor="end" fill="#000">1000</text>
<line x1="127.6" y1="1012.60" x2="134.8" y2="1012.60" stroke="#333333" stroke-width="2"/>
<text x="122.0" y="1025.80" font-size="36.5" text-anchor="end" fill="#000">100</text>
<line x1="127.6" y1="1134.70" x2="134.8" y2="1134.70" stroke="#333333" stroke-width="2"/>
<text x="122.0" y="1147.90" font-size="36.5" text-anchor="end" fill="#000">10</text>
<line x1="127.6" y1="1228.60" x2="134.8" y2="1228.60" stroke="#333333" stroke-width="2"/>
<text x="122.0" y="1241.80" font-size="36.5" text-anchor="end" fill="#000">1</text>
<line x1="174.30" y1="1284.5" x2="174.30" y2="1291.2" stroke="#333333" stroke-width="2"/>
<text x="174.30" y="1324.0" font-size="36.5" text-anchor="middle" fill="#000">1</text>
<line x1="264.00" y1="1284.5" x2="264.00" y2="1291.2" stroke="#333333" stroke-width="2"/>
<text x="264.00" y="1324.0" font-size="36.5" text-anchor="middle" fill="#000">10</text>
<line x1="380.50" y1="1284.5" x2="380.50" y2="1291.2" stroke="#333333" stroke-width="2"/>
<text x="380.50" y="1324.0" font-size="36.5" text-anchor="middle" fill="#000">100</text>
<line x1="501.00" y1="1284.5" x2="501.00" y2="1291.2" stroke="#333333" stroke-width="2"/>
<text x="501.00" y="1324.0" font-size="36.5" text-anchor="middle" fill="#000">1000</text>
<line x1="655.30" y1="1284.5" x2="655.30" y2="1291.2" stroke="#333333" stroke-width="2"/>
<text x="655.30" y="1324.0" font-size="36.5" text-anchor="middle" fill="#000">1</text>
<line x1="745.00" y1="1284.5" x2="745.00" y2="1291.2" stroke="#333333" stroke-width="2"/>
<text x="745.00" y="1324.0" font-size="36.5" text-anchor="middle" fill="#000">10</text>
<line x1="861.50" y1="1284.5" x2="861.50" y2="1291.2" stroke="#333333" stroke-width="2"/>
<text x="861.50" y="1324.0" font-size="36.5" text-anchor="middle" fill="#000">100</text>
<line x1="982.00" y1="1284.5" x2="982.00" y2="1291.2" stroke="#333333" stroke-width="2"/>
<text x="982.00" y="1324.0" font-size="36.5" text-anchor="middle" fill="#000">1000</text>
<text x="608.5" y="1363.1" font-size="36.5" text-anchor="middle" fill="#000">TP (µg/L)</text>
<text transform="translate(28 670.4) rotate(-90)" x="0" y="0" font-size="36.5" text-anchor="middle" fill="#000">COLOR (PCU)</text>
<text x="1175.7" y="551.3" font-size="36.5" fill="#000">Number of</text>
<text x="1175.7" y="588.7" font-size="36.5" fill="#000">Lakes</text>
<defs><linearGradient id="vg" x1="0" y1="0" x2="0" y2="1"><stop offset="0.000" stop-color="#fde725"/><stop offset="0.050" stop-color="#dfe318"/><stop offset="0.100" stop-color="#bddf26"/><stop offset="0.150" stop-color="#9bd93c"/><stop offset="0.200" stop-color="#7ad151"/><stop offset="0.250" stop-color="#5ec962"/><stop offset="0.300" stop-color="#44bf70"/><stop offset="0.350" stop-color="#2fb47c"/><stop offset="0.400" stop-color="#22a884"/><stop offset="0.450" stop-color="#1e9c89"/><stop offset="0.500" stop-color="#21918c"/><stop offset="0.550" stop-color="#25848e"/><stop offset="0.600" stop-color="#2a788e"/><stop offset="0.650" stop-color="#2f6c8e"/><stop offset="0.700" stop-color="#355f8d"/><stop offset="0.750" stop-color="#3b528b"/><stop offset="0.800" stop-color="#414487"/><stop offset="0.850" stop-color="#463480"/><stop offset="0.900" stop-color="#482475"/><stop offset="0.950" stop-color="#471365"/><stop offset="1.000" stop-color="#440154"/></linearGradient></defs>
<rect x="1176.8" y="611.5" width="41.8" height="208.9" fill="url(#vg)"/>
<line x1="1176.8" y1="627.6" x2="1184.8" y2="627.6" stroke="#fff" stroke-width="1.2"/>
<line x1="1210.6" y1="627.6" x2="1218.6" y2="627.6" stroke="#fff" stroke-width="1.2"/>
<text x="1235.5" y="640.80" font-size="36.5" fill="#000">25</text>
<line x1="1176.8" y1="667.8" x2="1184.8" y2="667.8" stroke="#fff" stroke-width="1.2"/>
<line x1="1210.6" y1="667.8" x2="1218.6" y2="667.8" stroke="#fff" stroke-width="1.2"/>
<text x="1235.5" y="681.00" font-size="36.5" fill="#000">20</text>
<line x1="1176.8" y1="707.7" x2="1184.8" y2="707.7" stroke="#fff" stroke-width="1.2"/>
<line x1="1210.6" y1="707.7" x2="1218.6" y2="707.7" stroke="#fff" stroke-width="1.2"/>
<text x="1235.5" y="720.90" font-size="36.5" fill="#000">15</text>
<line x1="1176.8" y1="747.8" x2="1184.8" y2="747.8" stroke="#fff" stroke-width="1.2"/>
<line x1="1210.6" y1="747.8" x2="1218.6" y2="747.8" stroke="#fff" stroke-width="1.2"/>
<text x="1235.5" y="761.00" font-size="36.5" fill="#000">10</text>
<line x1="1176.8" y1="788.0" x2="1184.8" y2="788.0" stroke="#fff" stroke-width="1.2"/>
<line x1="1210.6" y1="788.0" x2="1218.6" y2="788.0" stroke="#fff" stroke-width="1.2"/>
<text x="1235.5" y="801.20" font-size="36.5" fill="#000">5</text>
</svg>
</body></html>
